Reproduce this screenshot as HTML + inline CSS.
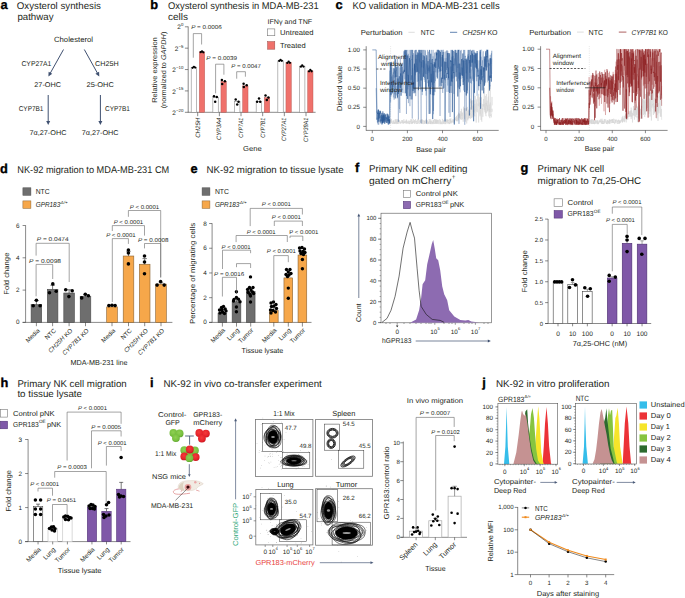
<!DOCTYPE html>
<html><head><meta charset="utf-8"><style>
html,body{margin:0;padding:0;background:#fff;}
body{width:685px;height:598px;overflow:hidden;}
svg{display:block;font-family:"Liberation Sans",sans-serif;text-rendering:geometricPrecision;}
</style></head><body>
<svg width="685" height="598" viewBox="0 0 685 598" fill="#231f20">
<text x="0.60" y="9.20" font-size="12.8" fill="#000" font-weight="bold" stroke="#000" stroke-width="0.35">a</text>
<text x="16.80" y="9.20" font-size="9.75" textLength="84.10" lengthAdjust="spacingAndGlyphs">Oxysterol synthesis</text>
<text x="17.40" y="20.00" font-size="9.75" textLength="36.10" lengthAdjust="spacingAndGlyphs">pathway</text>
<text x="54.00" y="42.30" font-size="7.63" textLength="39.00" lengthAdjust="spacingAndGlyphs">Cholesterol</text>
<line x1="63.50" y1="49.50" x2="50.21" y2="73.27" stroke="#3f5070" stroke-width="1.0"/>
<path d="M48.40,76.50 L48.62,71.81 L52.28,73.86 Z" fill="#3f5070"/>
<line x1="84.30" y1="49.50" x2="97.50" y2="73.27" stroke="#3f5070" stroke-width="1.0"/>
<path d="M99.30,76.50 L95.42,73.85 L99.10,71.81 Z" fill="#3f5070"/>
<text x="21.40" y="65.60" font-size="7.0" textLength="30.00" lengthAdjust="spacingAndGlyphs">CYP27A1</text>
<text x="95.00" y="65.60" font-size="7.0" textLength="23.60" lengthAdjust="spacingAndGlyphs">CH25H</text>
<text x="34.30" y="87.00" font-size="7.0" textLength="26.70" lengthAdjust="spacingAndGlyphs">27-OHC</text>
<text x="86.50" y="87.00" font-size="7.0" textLength="27.30" lengthAdjust="spacingAndGlyphs">25-OHC</text>
<line x1="48.20" y1="95.00" x2="48.20" y2="121.50" stroke="#3f5070" stroke-width="1.0"/>
<path d="M48.20,125.00 L46.20,121.00 L50.20,121.00 Z" fill="#3f5070"/>
<line x1="100.40" y1="95.00" x2="100.40" y2="121.50" stroke="#3f5070" stroke-width="1.0"/>
<path d="M100.40,125.00 L98.40,121.00 L102.40,121.00 Z" fill="#3f5070"/>
<text x="18.70" y="111.10" font-size="7.0" textLength="24.70" lengthAdjust="spacingAndGlyphs">CYP7B1</text>
<text x="105.00" y="111.10" font-size="7.0" textLength="24.90" lengthAdjust="spacingAndGlyphs">CYP7B1</text>
<text x="29.50" y="135.20" font-size="7.0" textLength="36.90" lengthAdjust="spacingAndGlyphs">7α,27-OHC</text>
<text x="81.70" y="135.20" font-size="7.0" textLength="36.90" lengthAdjust="spacingAndGlyphs">7α,27-OHC</text>
<text x="150.30" y="9.00" font-size="12.8" fill="#000" font-weight="bold" stroke="#000" stroke-width="0.35">b</text>
<text x="168.00" y="9.20" font-size="9.75" textLength="150.60" lengthAdjust="spacingAndGlyphs">Oxysterol synthesis in MDA-MB-231</text>
<text x="168.00" y="20.00" font-size="9.75" textLength="20.00" lengthAdjust="spacingAndGlyphs">cells</text>
<line x1="188.20" y1="26.50" x2="188.20" y2="112.30" stroke="#3a3a3a" stroke-width="0.6"/>
<line x1="187.90" y1="112.30" x2="315.60" y2="112.30" stroke="#3a3a3a" stroke-width="0.6"/>
<line x1="184.90" y1="26.80" x2="188.20" y2="26.80" stroke="#3a3a3a" stroke-width="0.6"/>
<text x="183.40" y="26.20" font-size="4.35" text-anchor="end">0</text>
<text x="180.88" y="29.40" font-size="6.47" text-anchor="end">2</text>
<line x1="184.90" y1="48.17" x2="188.20" y2="48.17" stroke="#3a3a3a" stroke-width="0.6"/>
<text x="183.40" y="47.57" font-size="4.35" text-anchor="end">−5</text>
<text x="178.34" y="50.77" font-size="6.47" text-anchor="end">2</text>
<line x1="184.90" y1="69.55" x2="188.20" y2="69.55" stroke="#3a3a3a" stroke-width="0.6"/>
<text x="183.40" y="68.95" font-size="4.35" text-anchor="end">−10</text>
<text x="175.92" y="72.15" font-size="6.47" text-anchor="end">2</text>
<line x1="184.90" y1="90.92" x2="188.20" y2="90.92" stroke="#3a3a3a" stroke-width="0.6"/>
<text x="183.40" y="90.33" font-size="4.35" text-anchor="end">−15</text>
<text x="175.92" y="93.52" font-size="6.47" text-anchor="end">2</text>
<line x1="184.90" y1="112.30" x2="188.20" y2="112.30" stroke="#3a3a3a" stroke-width="0.6"/>
<text x="183.40" y="111.70" font-size="4.35" text-anchor="end">−20</text>
<text x="175.92" y="114.90" font-size="6.47" text-anchor="end">2</text>
<text x="157.40" y="70.00" font-size="7.0" text-anchor="middle" textLength="65.60" lengthAdjust="spacingAndGlyphs" transform="rotate(-90 157.40 70.00)">Relative expression</text>
<text x="166.3" y="70" font-size="7.0" text-anchor="middle" transform="rotate(-90 166.3 70)" textLength="76.7" lengthAdjust="spacingAndGlyphs">(normalized to <tspan font-style="italic">GAPDH</tspan>)</text>
<text x="252.40" y="151.00" font-size="7.21" text-anchor="middle" textLength="18.70" lengthAdjust="spacingAndGlyphs">Gene</text>
<line x1="197.70" y1="112.30" x2="197.70" y2="116.20" stroke="#3a3a3a" stroke-width="0.6"/>
<text x="199.80" y="117.70" font-size="6.36" text-anchor="end" font-style="italic" textLength="20.10" lengthAdjust="spacingAndGlyphs" transform="rotate(-90 199.80 117.70)">CH25H</text>
<rect x="191.20" y="67.41" width="5.40" height="44.89" fill="#fff" stroke="#8a8a8a" stroke-width="0.6"/>
<rect x="199.30" y="51.81" width="5.40" height="60.49" fill="#ef716b" stroke="#b0504c" stroke-width="0.4"/>
<circle cx="192.60" cy="67.84" r="1.15" fill="#000"/>
<circle cx="193.90" cy="66.84" r="1.15" fill="#000"/>
<circle cx="195.20" cy="67.59" r="1.15" fill="#000"/>
<circle cx="200.70" cy="52.22" r="1.15" fill="#000"/>
<circle cx="202.00" cy="51.34" r="1.15" fill="#000"/>
<circle cx="203.30" cy="52.35" r="1.15" fill="#000"/>
<line x1="219.36" y1="112.30" x2="219.36" y2="116.20" stroke="#3a3a3a" stroke-width="0.6"/>
<text x="221.46" y="117.70" font-size="6.36" text-anchor="end" font-style="italic" textLength="22.30" lengthAdjust="spacingAndGlyphs" transform="rotate(-90 221.46 117.70)">CYP3A4</text>
<rect x="212.86" y="97.59" width="5.40" height="14.71" fill="#fff" stroke="#8a8a8a" stroke-width="0.6"/>
<rect x="220.96" y="81.39" width="5.40" height="30.91" fill="#ef716b" stroke="#b0504c" stroke-width="0.4"/>
<line x1="241.02" y1="112.30" x2="241.02" y2="116.20" stroke="#3a3a3a" stroke-width="0.6"/>
<text x="243.12" y="117.70" font-size="6.36" text-anchor="end" font-style="italic" textLength="20.10" lengthAdjust="spacingAndGlyphs" transform="rotate(-90 243.12 117.70)">CYP7A1</text>
<rect x="234.52" y="101.31" width="5.40" height="10.99" fill="#fff" stroke="#8a8a8a" stroke-width="0.6"/>
<rect x="242.62" y="85.88" width="5.40" height="26.42" fill="#ef716b" stroke="#b0504c" stroke-width="0.4"/>
<line x1="262.68" y1="112.30" x2="262.68" y2="116.20" stroke="#3a3a3a" stroke-width="0.6"/>
<text x="264.78" y="117.70" font-size="6.36" text-anchor="end" font-style="italic" textLength="20.10" lengthAdjust="spacingAndGlyphs" transform="rotate(-90 264.78 117.70)">CYP7B1</text>
<rect x="256.18" y="101.48" width="5.40" height="10.82" fill="#fff" stroke="#8a8a8a" stroke-width="0.6"/>
<rect x="264.28" y="97.59" width="5.40" height="14.71" fill="#ef716b" stroke="#b0504c" stroke-width="0.4"/>
<line x1="284.34" y1="112.30" x2="284.34" y2="116.20" stroke="#3a3a3a" stroke-width="0.6"/>
<text x="286.44" y="117.70" font-size="6.36" text-anchor="end" font-style="italic" textLength="23.40" lengthAdjust="spacingAndGlyphs" transform="rotate(-90 286.44 117.70)">CYP27A1</text>
<rect x="277.84" y="60.79" width="5.40" height="51.51" fill="#fff" stroke="#8a8a8a" stroke-width="0.6"/>
<rect x="285.94" y="62.58" width="5.40" height="49.72" fill="#ef716b" stroke="#b0504c" stroke-width="0.4"/>
<circle cx="279.24" cy="60.96" r="1.15" fill="#000"/>
<circle cx="280.54" cy="59.91" r="1.15" fill="#000"/>
<circle cx="281.84" cy="60.82" r="1.15" fill="#000"/>
<circle cx="287.34" cy="62.95" r="1.15" fill="#000"/>
<circle cx="288.64" cy="61.60" r="1.15" fill="#000"/>
<circle cx="289.94" cy="62.86" r="1.15" fill="#000"/>
<line x1="306.00" y1="112.30" x2="306.00" y2="116.20" stroke="#3a3a3a" stroke-width="0.6"/>
<text x="308.10" y="117.70" font-size="6.36" text-anchor="end" font-style="italic" textLength="24.20" lengthAdjust="spacingAndGlyphs" transform="rotate(-90 308.10 117.70)">CYP39A1</text>
<rect x="299.50" y="66.22" width="5.40" height="46.08" fill="#fff" stroke="#8a8a8a" stroke-width="0.6"/>
<rect x="307.60" y="70.92" width="5.40" height="41.38" fill="#ef716b" stroke="#b0504c" stroke-width="0.4"/>
<circle cx="300.90" cy="66.70" r="1.15" fill="#000"/>
<circle cx="302.20" cy="65.38" r="1.15" fill="#000"/>
<circle cx="303.50" cy="66.62" r="1.15" fill="#000"/>
<circle cx="309.00" cy="71.37" r="1.15" fill="#000"/>
<circle cx="310.30" cy="69.93" r="1.15" fill="#000"/>
<circle cx="311.60" cy="71.25" r="1.15" fill="#000"/>
<circle cx="214.00" cy="96.30" r="1.25" fill="#000"/>
<circle cx="216.80" cy="97.00" r="1.25" fill="#000"/>
<circle cx="215.20" cy="101.80" r="1.25" fill="#000"/>
<circle cx="221.90" cy="79.90" r="1.25" fill="#000"/>
<circle cx="224.90" cy="81.30" r="1.25" fill="#000"/>
<circle cx="222.20" cy="84.00" r="1.25" fill="#000"/>
<circle cx="235.70" cy="99.50" r="1.25" fill="#000"/>
<circle cx="238.50" cy="101.80" r="1.25" fill="#000"/>
<circle cx="237.20" cy="104.60" r="1.25" fill="#000"/>
<circle cx="243.60" cy="83.70" r="1.25" fill="#000"/>
<circle cx="246.70" cy="85.20" r="1.25" fill="#000"/>
<circle cx="243.80" cy="87.10" r="1.25" fill="#000"/>
<circle cx="257.10" cy="101.80" r="1.25" fill="#000"/>
<circle cx="259.00" cy="98.50" r="1.25" fill="#000"/>
<circle cx="260.20" cy="101.80" r="1.25" fill="#000"/>
<circle cx="265.50" cy="95.40" r="1.25" fill="#000"/>
<circle cx="268.40" cy="97.50" r="1.25" fill="#000"/>
<circle cx="266.80" cy="100.00" r="1.25" fill="#000"/>
<polyline points="193.30,57.70 193.30,33.60 201.60,33.60 201.60,44.50" fill="none" stroke="#666666" stroke-width="0.6"/>
<text x="191.15" y="29.20" font-size="5.62" textLength="30.70" lengthAdjust="spacingAndGlyphs"><tspan font-style="italic">P</tspan> = 0.0006</text>
<polyline points="215.60,93.40 215.60,64.20 223.90,64.20 223.90,74.70" fill="none" stroke="#666666" stroke-width="0.6"/>
<text x="206.35" y="59.90" font-size="5.62" textLength="30.70" lengthAdjust="spacingAndGlyphs"><tspan font-style="italic">P</tspan> = 0.0039</text>
<polyline points="236.70,78.70 236.70,71.70 245.40,71.70 245.40,76.70" fill="none" stroke="#666666" stroke-width="0.6"/>
<text x="231.35" y="68.20" font-size="5.62" textLength="29.50" lengthAdjust="spacingAndGlyphs"><tspan font-style="italic">P</tspan> = 0.0047</text>
<text x="267.40" y="24.00" font-size="6.78" textLength="44.80" lengthAdjust="spacingAndGlyphs">IFNγ and TNF</text>
<rect x="267.60" y="28.90" width="7.20" height="6.80" fill="#fff" stroke="#777" stroke-width="0.6"/>
<text x="280.00" y="34.70" font-size="7.31" textLength="33.60" lengthAdjust="spacingAndGlyphs">Untreated</text>
<rect x="267.60" y="41.60" width="7.20" height="7.60" fill="#ef716b" stroke="#9a4a46" stroke-width="0.5"/>
<text x="280.00" y="47.70" font-size="7.31" textLength="25.80" lengthAdjust="spacingAndGlyphs">Treated</text>
<text x="335.60" y="9.20" font-size="12.8" fill="#000" font-weight="bold" stroke="#000" stroke-width="0.35">c</text>
<text x="352.60" y="9.20" font-size="9.75" textLength="147.00" lengthAdjust="spacingAndGlyphs">KO validation in MDA-MB-231 cells</text>
<line x1="366.20" y1="46.20" x2="366.20" y2="130.40" stroke="#3a3a3a" stroke-width="0.6"/>
<line x1="365.90" y1="130.40" x2="498.70" y2="130.40" stroke="#3a3a3a" stroke-width="0.6"/>
<line x1="363.20" y1="49.90" x2="366.20" y2="49.90" stroke="#3a3a3a" stroke-width="0.6"/>
<text x="359.90" y="52.00" font-size="6.25" text-anchor="end">1.00</text>
<line x1="363.20" y1="69.03" x2="366.20" y2="69.03" stroke="#3a3a3a" stroke-width="0.6"/>
<text x="359.90" y="71.12" font-size="6.25" text-anchor="end">0.75</text>
<line x1="363.20" y1="88.15" x2="366.20" y2="88.15" stroke="#3a3a3a" stroke-width="0.6"/>
<text x="359.90" y="90.25" font-size="6.25" text-anchor="end">0.50</text>
<line x1="363.20" y1="107.28" x2="366.20" y2="107.28" stroke="#3a3a3a" stroke-width="0.6"/>
<text x="359.90" y="109.38" font-size="6.25" text-anchor="end">0.25</text>
<line x1="363.20" y1="126.40" x2="366.20" y2="126.40" stroke="#3a3a3a" stroke-width="0.6"/>
<text x="359.90" y="128.50" font-size="6.25" text-anchor="end">0</text>
<line x1="372.30" y1="130.40" x2="372.30" y2="133.20" stroke="#3a3a3a" stroke-width="0.6"/>
<text x="372.30" y="140.60" font-size="6.15" text-anchor="middle">0</text>
<line x1="407.40" y1="130.40" x2="407.40" y2="133.20" stroke="#3a3a3a" stroke-width="0.6"/>
<text x="407.40" y="140.60" font-size="6.15" text-anchor="middle">200</text>
<line x1="442.50" y1="130.40" x2="442.50" y2="133.20" stroke="#3a3a3a" stroke-width="0.6"/>
<text x="442.50" y="140.60" font-size="6.15" text-anchor="middle">400</text>
<line x1="477.60" y1="130.40" x2="477.60" y2="133.20" stroke="#3a3a3a" stroke-width="0.6"/>
<text x="477.60" y="140.60" font-size="6.15" text-anchor="middle">600</text>
<line x1="390.60" y1="46.20" x2="390.60" y2="130.40" stroke="#bbbbbb" stroke-width="0.5" stroke-dasharray="0.6,1.2"/>
<polyline points="389.85,123.99 390.20,120.42 390.55,122.55 390.90,120.81 391.25,118.93 391.61,121.99 391.96,122.21 392.31,124.00 392.66,123.36 393.01,122.21 393.36,121.11 393.71,120.25 394.06,122.85 394.41,124.01 394.76,123.28 395.12,119.46 395.47,123.58 395.82,122.48 396.17,119.29 396.52,124.08 396.87,121.61 397.22,119.15 397.57,123.51 397.92,121.93 398.27,119.46 398.62,123.84 398.98,122.08 399.33,120.62 399.68,121.17 400.03,122.39 400.38,123.61 400.73,122.26 401.08,122.89 401.43,122.34 401.78,122.92 402.13,120.00 402.49,120.50 402.84,123.16 403.19,121.78 403.54,123.33 403.89,122.47 404.24,122.98 404.59,121.25 404.94,122.90 405.29,122.44 405.64,120.84 406.00,122.68 406.35,119.48 406.70,123.69 407.05,120.69 407.40,122.64 407.75,122.61 408.10,121.40 408.45,122.08 408.80,122.67 409.16,124.10 409.51,123.95 409.86,120.91 410.21,122.07 410.56,120.99 410.91,119.10 411.26,121.08 411.61,124.04 411.96,123.19 412.31,121.66 412.67,123.49 413.02,119.03 413.37,119.19 413.72,119.92 414.07,122.37 414.42,119.97 414.77,123.85 415.12,123.19 415.47,122.42 415.82,120.68 416.18,122.29 416.53,123.83 416.88,123.03 417.23,123.12 417.58,123.22 417.93,123.74 418.28,122.67 418.63,122.50 418.98,120.45 419.33,120.30 419.69,122.08 420.04,122.43 420.39,120.43 420.74,119.63 421.09,121.14 421.44,120.27 421.79,119.23 422.14,124.06 422.49,119.72 422.84,123.33 423.19,122.35 423.55,120.30 423.90,120.85 424.25,123.80 424.60,121.24 424.95,124.01 425.30,122.96 425.65,120.18 426.00,122.61 426.35,121.62 426.70,120.78 427.06,120.12 427.41,120.55 427.76,124.10 428.11,122.65 428.46,122.42 428.81,124.03 429.16,121.97 429.51,121.57 429.86,120.07 430.22,119.21 430.57,123.86 430.92,123.51 431.27,121.24 431.62,123.85 431.97,123.54 432.32,121.77 432.67,123.73 433.02,120.40 433.37,119.86 433.73,124.07 434.08,122.02 434.43,120.30 434.78,118.95 435.13,123.34 435.48,123.73 435.83,119.71 436.18,119.46 436.53,123.63 436.88,122.53 437.24,120.84 437.59,119.94 437.94,123.74 438.29,121.20 438.64,120.22 438.99,121.92 439.34,123.75 439.69,124.07 440.04,123.31 440.39,120.22 440.75,124.05 441.10,124.10 441.45,122.94 441.80,124.02 442.15,123.80 442.50,124.09 442.85,122.07 443.20,120.99 443.55,122.61 443.90,123.84 444.25,123.08 444.61,121.68 444.96,119.22 445.31,118.81 445.66,123.47 446.01,124.10 446.36,120.05 446.71,119.33 447.06,122.44 447.41,120.48 447.76,119.79 448.12,121.56 448.47,119.74 448.82,124.09 449.17,123.35 449.52,123.32 449.87,123.84 450.22,119.11 450.57,123.28 450.92,120.18 451.27,123.41 451.63,121.76 451.98,121.32 452.33,121.76 452.68,120.17 453.03,118.96 453.38,121.49 453.73,119.71 454.08,122.36 454.43,121.04 454.79,119.61 455.14,120.54 455.49,118.64 455.84,117.73 456.19,116.99 456.54,120.92 456.89,118.51 457.24,121.34 457.59,117.76 457.94,117.86 458.30,117.26 458.65,112.63 459.00,117.51 459.35,113.58 459.70,114.69 460.05,113.83 460.40,118.68 460.75,111.17 461.10,116.51 461.45,119.78 461.81,112.42 462.16,116.10 462.51,119.28 462.86,113.01 463.21,112.55 463.56,106.73 463.91,109.68 464.26,108.10 464.61,115.47 464.96,119.49 465.31,116.82 465.67,114.54 466.02,113.36 466.37,108.05 466.72,123.51 467.07,106.87 467.42,107.82 467.77,108.84 468.12,119.28 468.47,117.06 468.82,109.68 469.18,112.36 469.53,114.76 469.88,113.38 470.23,118.91 470.58,98.76 470.93,103.13 471.28,101.41 471.63,106.07 471.98,107.77 472.34,100.28 472.69,116.87 473.04,105.96 473.39,114.87 473.74,113.84 474.09,100.26 474.44,112.32 474.79,104.01 475.14,105.43 475.49,113.13 475.85,113.37 476.20,122.67 476.55,103.05 476.90,99.25 477.25,112.28 477.60,108.06 477.95,103.46 478.30,106.15 478.65,93.86 479.00,106.32 479.36,102.53 479.71,107.33 480.06,116.34 480.41,107.98 480.76,102.90 481.11,109.56 481.46,119.69 481.81,121.73 482.16,114.33 482.51,113.57 482.87,104.12 483.22,106.70 483.57,104.59 483.92,106.23 484.27,109.96 484.62,104.08 484.97,104.05 485.32,113.48 485.67,102.84 486.02,104.04 486.38,94.06 486.73,112.80 487.08,105.28 487.43,106.99 487.78,111.54 488.13,104.54 488.48,82.16 488.83,110.28 489.18,108.89 489.53,111.75 489.88,101.39 490.24,85.05 490.59,105.81 490.94,112.07 491.29,107.99 491.64,103.90 491.99,96.92 492.34,105.40" fill="none" stroke="#d2d2d2" stroke-width="0.5"/>
<polyline points="389.85,122.27 390.20,120.21 390.55,123.92 390.90,119.14 391.25,122.41 391.61,123.08 391.96,120.43 392.31,123.41 392.66,123.80 393.01,123.40 393.36,121.15 393.71,123.93 394.06,122.48 394.41,123.49 394.76,121.95 395.12,123.83 395.47,120.46 395.82,119.35 396.17,123.14 396.52,122.97 396.87,121.63 397.22,120.70 397.57,124.03 397.92,121.14 398.27,120.17 398.62,120.33 398.98,122.55 399.33,120.11 399.68,121.94 400.03,123.67 400.38,123.29 400.73,121.66 401.08,121.91 401.43,120.26 401.78,120.87 402.13,123.58 402.49,122.76 402.84,120.43 403.19,122.44 403.54,123.53 403.89,119.25 404.24,122.49 404.59,123.19 404.94,122.15 405.29,123.22 405.64,123.35 406.00,121.22 406.35,120.31 406.70,122.71 407.05,123.76 407.40,122.35 407.75,122.74 408.10,122.56 408.45,123.48 408.80,120.49 409.16,123.62 409.51,124.06 409.86,120.97 410.21,120.68 410.56,123.48 410.91,123.72 411.26,121.74 411.61,119.38 411.96,123.42 412.31,121.98 412.67,123.38 413.02,120.68 413.37,122.40 413.72,122.86 414.07,121.26 414.42,122.03 414.77,123.62 415.12,122.67 415.47,119.10 415.82,120.27 416.18,122.14 416.53,121.23 416.88,123.82 417.23,122.68 417.58,119.57 417.93,123.67 418.28,118.89 418.63,119.92 418.98,121.06 419.33,122.88 419.69,123.96 420.04,123.25 420.39,120.69 420.74,122.64 421.09,120.25 421.44,123.57 421.79,120.10 422.14,119.83 422.49,120.82 422.84,123.61 423.19,123.54 423.55,124.02 423.90,124.04 424.25,120.70 424.60,122.26 424.95,120.55 425.30,123.30 425.65,123.02 426.00,119.57 426.35,118.77 426.70,123.93 427.06,120.42 427.41,121.88 427.76,124.10 428.11,121.51 428.46,123.31 428.81,122.99 429.16,118.99 429.51,120.68 429.86,124.04 430.22,121.10 430.57,124.10 430.92,119.64 431.27,121.64 431.62,121.42 431.97,124.09 432.32,123.98 432.67,122.06 433.02,122.84 433.37,120.14 433.73,123.29 434.08,122.75 434.43,123.88 434.78,122.20 435.13,119.11 435.48,123.37 435.83,120.34 436.18,123.75 436.53,119.64 436.88,122.14 437.24,123.87 437.59,120.40 437.94,119.63 438.29,123.81 438.64,123.89 438.99,123.43 439.34,122.13 439.69,119.15 440.04,119.83 440.39,123.11 440.75,124.07 441.10,121.64 441.45,121.77 441.80,123.47 442.15,121.59 442.50,118.90 442.85,123.81 443.20,123.16 443.55,119.92 443.90,123.76 444.25,123.86 444.61,123.72 444.96,120.49 445.31,123.86 445.66,123.96 446.01,121.45 446.36,120.51 446.71,120.58 447.06,122.58 447.41,119.41 447.76,123.79 448.12,122.53 448.47,122.90 448.82,121.94 449.17,123.65 449.52,123.80 449.87,118.70 450.22,122.54 450.57,121.64 450.92,118.27 451.27,122.12 451.63,121.77 451.98,120.93 452.33,122.63 452.68,121.75 453.03,120.34 453.38,121.05 453.73,123.26 454.08,121.38 454.43,118.22 454.79,119.35 455.14,118.93 455.49,120.13 455.84,117.46 456.19,118.36 456.54,116.05 456.89,121.26 457.24,114.89 457.59,114.74 457.94,118.15 458.30,120.40 458.65,114.07 459.00,118.40 459.35,117.64 459.70,114.11 460.05,115.12 460.40,119.43 460.75,118.44 461.10,113.22 461.45,108.78 461.81,116.20 462.16,114.78 462.51,113.96 462.86,112.57 463.21,121.83 463.56,112.62 463.91,108.82 464.26,118.75 464.61,109.23 464.96,112.55 465.31,118.12 465.67,121.72 466.02,108.46 466.37,110.35 466.72,112.51 467.07,117.94 467.42,117.78 467.77,120.51 468.12,110.91 468.47,118.15 468.82,114.15 469.18,114.07 469.53,117.92 469.88,115.80 470.23,115.70 470.58,107.41 470.93,113.45 471.28,117.83 471.63,100.58 471.98,118.29 472.34,105.62 472.69,111.32 473.04,112.31 473.39,107.93 473.74,105.54 474.09,110.43 474.44,114.26 474.79,116.42 475.14,95.92 475.49,102.43 475.85,110.62 476.20,111.53 476.55,102.97 476.90,101.75 477.25,99.17 477.60,96.09 477.95,100.28 478.30,108.59 478.65,122.54 479.00,105.55 479.36,97.33 479.71,109.73 480.06,114.46 480.41,111.91 480.76,103.25 481.11,119.95 481.46,97.31 481.81,105.23 482.16,109.65 482.51,108.37 482.87,116.90 483.22,109.10 483.57,98.93 483.92,105.44 484.27,87.93 484.62,110.60 484.97,111.90 485.32,95.93 485.67,114.74 486.02,116.19 486.38,103.14 486.73,105.82 487.08,100.67 487.43,110.79 487.78,103.57 488.13,97.53 488.48,96.57 488.83,116.41 489.18,104.54 489.53,117.07 489.88,118.18 490.24,102.48 490.59,115.88 490.94,114.37 491.29,117.32 491.64,113.85 491.99,108.66 492.34,111.63" fill="none" stroke="#d2d2d2" stroke-width="0.5"/>
<polyline points="376.16,88.15 376.86,119.58 377.13,117.61 377.39,121.66 377.65,122.66 377.92,122.47 378.18,109.69 378.44,119.29 378.71,117.65 378.97,113.04 379.23,112.62 379.50,114.14 379.76,111.23 380.02,116.80 380.29,122.38 380.55,115.77 380.81,118.21 381.07,112.77 381.34,121.36 381.60,115.18 381.86,124.73 382.13,119.50 382.39,120.06 382.65,123.57 382.92,113.70 383.18,113.74 383.44,121.53 383.71,115.49 383.97,113.10 384.23,117.39 384.50,120.16 384.76,116.26 385.02,119.93 385.29,117.82 385.55,116.80 385.81,121.34 386.08,116.97 386.34,118.89 386.60,117.97 386.87,121.55 387.13,116.40 387.39,123.19 387.66,119.54 387.92,119.05 388.18,124.78 388.45,116.37 388.71,119.04 388.97,124.05 389.24,116.18 389.50,117.70 389.76,115.76 389.85,70.61 390.24,80.30 390.62,102.34 391.01,76.00 391.39,73.62 391.78,67.85 392.17,71.52 392.55,92.88 392.94,83.62 393.32,97.40 393.71,96.09 394.10,80.81 394.48,90.22 394.87,94.38 395.26,70.04 395.64,66.31 396.03,66.55 396.41,95.44 396.80,85.71 397.19,98.56 397.57,80.30 397.96,66.38 398.34,86.24 398.73,64.07 399.12,107.57 399.50,109.11 399.89,67.62 400.27,87.23 400.66,78.84 401.05,64.52 401.43,91.15 401.82,91.76 402.21,75.54 402.59,83.23 402.98,83.49 403.36,73.30 403.75,51.41 404.14,71.04 404.52,71.03 404.91,51.49 405.29,56.51 405.68,56.41 406.07,49.90 406.45,81.82 406.84,68.55 407.22,51.32 407.61,49.90 408.00,89.29 408.38,53.88 408.77,86.41 409.16,73.84 409.54,59.14 409.93,56.03 410.31,99.41 410.70,79.59 411.09,49.90 411.47,60.06 411.86,59.13 412.24,83.13 412.63,68.12 413.02,78.65 413.40,93.11 413.79,78.86 414.17,64.47 414.56,70.12 414.95,65.58 415.33,75.31 415.72,70.15 416.10,58.10 416.49,49.90 416.88,52.29 417.26,81.88 417.65,65.62 418.04,54.28 418.42,81.27 418.81,68.83 419.19,49.90 419.58,59.85 419.97,52.27 420.35,86.17 420.74,89.72 421.12,61.97 421.51,65.56 421.90,80.42 422.28,95.10 422.67,76.91 423.05,55.12 423.44,68.25 423.83,55.34 424.21,79.93 424.60,61.32 424.99,82.04 425.37,50.52 425.76,71.75 426.14,95.61 426.53,57.62 426.92,74.25 427.30,65.31 427.69,83.17 428.07,78.02 428.46,67.68 428.85,72.77 429.23,65.38 429.62,71.47 430.00,66.58 430.39,91.78 430.78,62.79 431.16,63.94 431.55,49.90 431.93,59.49 432.32,84.88 432.71,72.87 433.09,56.35 433.48,114.21 433.87,88.30 434.25,91.47 434.64,64.16 435.02,66.18 435.41,81.24 435.80,75.88 436.18,71.50 436.57,56.13 436.95,76.94 437.34,50.64 437.73,49.90 438.11,72.49 438.50,49.90 438.88,87.32 439.27,66.68 439.66,86.12 440.04,68.86 440.43,70.82 440.82,54.08 441.20,49.90 441.59,71.08 441.97,70.21 442.36,49.90 442.75,78.47 443.13,63.99 443.52,59.90 443.90,58.36 444.29,79.42 444.68,74.89 445.06,80.38 445.45,59.49 445.83,58.56 446.22,58.12 446.61,66.29 446.99,91.96 447.38,53.35 447.77,85.57 448.15,76.27 448.54,91.89 448.92,69.26 449.31,56.82 449.70,54.48 450.08,57.47 450.47,85.87 450.85,49.90 451.24,86.05 451.63,74.83 452.01,78.62 452.40,50.14 452.78,71.01 453.17,55.79 453.56,65.18 453.94,65.54 454.33,58.40 454.71,77.38 455.10,73.42 455.49,53.32 455.87,56.44 456.26,72.25 456.65,57.65 457.03,50.24 457.42,54.10 457.80,68.32 458.19,63.61 458.58,78.66 458.96,67.91 459.35,49.90 459.73,49.90 460.12,92.37 460.51,72.84 460.89,75.98 461.28,67.40 461.66,73.14 462.05,75.57 462.44,67.63 462.82,78.02 463.21,60.19 463.60,90.45 463.98,49.90 464.37,80.49 464.75,49.90 465.14,57.12 465.53,55.81 465.91,61.70 466.30,73.32 466.68,58.38 467.07,78.88 467.46,66.94 467.84,56.65 468.23,81.56 468.61,55.96 469.00,63.28 469.39,62.60 469.77,59.88 470.16,49.90 470.54,82.99 470.93,76.53 471.32,83.60 471.70,53.23 472.09,63.03 472.48,59.46 472.86,78.77 473.25,49.90 473.63,81.57 474.02,51.39 474.41,91.91 474.79,52.15 475.18,67.10 475.56,62.99 475.95,54.14 476.34,76.73 476.72,63.68 477.11,95.90 477.49,53.00 477.88,68.28 478.27,76.37 478.65,70.18 479.04,71.61 479.43,79.67 479.81,71.95 480.20,51.69 480.58,65.37 480.97,49.90 481.36,49.90 481.74,49.90 482.13,81.52 482.51,60.30 482.90,75.97 483.29,77.85 483.67,67.25 484.06,56.71 484.44,64.96 484.83,69.76 485.22,69.26 485.60,52.75 485.99,70.98 486.38,49.90 486.76,49.90 487.15,62.05 487.53,49.90 487.92,49.90 488.31,49.90 488.69,60.32 489.08,76.94 489.46,79.30 489.85,89.07 490.24,78.80 490.62,58.49 491.01,63.87 491.39,53.21 491.78,74.08" fill="none" stroke="#5a86bd" stroke-width="0.55" stroke-opacity="0.55" stroke-linejoin="bevel"/>
<polyline points="376.16,88.15 376.86,112.76 377.13,110.71 377.39,122.45 377.65,119.74 377.92,124.46 378.18,114.81 378.44,110.17 378.71,124.79 378.97,122.89 379.23,121.75 379.50,112.85 379.76,119.21 380.02,121.87 380.29,119.28 380.55,121.06 380.81,121.18 381.07,116.62 381.34,115.19 381.60,121.30 381.86,117.08 382.13,124.45 382.39,111.37 382.65,123.46 382.92,117.27 383.18,111.45 383.44,120.58 383.71,121.08 383.97,115.24 384.23,118.86 384.50,121.47 384.76,117.64 385.02,114.55 385.29,116.61 385.55,121.94 385.81,116.82 386.08,113.78 386.34,122.55 386.60,117.28 386.87,119.12 387.13,117.33 387.39,123.32 387.66,122.29 387.92,121.07 388.18,115.80 388.45,120.77 388.71,121.32 388.97,117.17 389.24,123.45 389.50,121.64 389.76,119.39 389.85,123.56 390.24,73.70 390.62,64.04 391.01,96.53 391.39,78.72 391.78,76.49 392.17,82.71 392.55,86.83 392.94,74.63 393.32,86.93 393.71,68.18 394.10,99.70 394.48,54.93 394.87,77.61 395.26,70.38 395.64,74.10 396.03,81.75 396.41,82.54 396.80,75.72 397.19,76.44 397.57,58.99 397.96,84.23 398.34,121.82 398.73,85.29 399.12,87.84 399.50,93.41 399.89,113.00 400.27,58.34 400.66,75.75 401.05,64.86 401.43,82.80 401.82,83.94 402.21,84.09 402.59,66.75 402.98,93.08 403.36,67.57 403.75,66.05 404.14,50.74 404.52,52.60 404.91,79.29 405.29,69.78 405.68,55.02 406.07,49.90 406.45,114.01 406.84,53.65 407.22,75.34 407.61,73.33 408.00,55.50 408.38,103.14 408.77,62.73 409.16,49.90 409.54,85.09 409.93,106.16 410.31,59.84 410.70,60.26 411.09,80.06 411.47,76.35 411.86,75.28 412.24,118.58 412.63,54.99 413.02,88.31 413.40,53.12 413.79,59.30 414.17,93.51 414.56,50.37 414.95,89.66 415.33,54.62 415.72,96.12 416.10,58.87 416.49,71.75 416.88,69.60 417.26,55.78 417.65,51.94 418.04,100.06 418.42,119.36 418.81,49.90 419.19,73.50 419.58,59.76 419.97,62.38 420.35,53.36 420.74,85.36 421.12,123.46 421.51,53.11 421.90,67.39 422.28,61.48 422.67,54.38 423.05,49.90 423.44,76.27 423.83,49.90 424.21,60.48 424.60,77.76 424.99,49.90 425.37,73.05 425.76,73.80 426.14,63.50 426.53,123.64 426.92,78.58 427.30,55.78 427.69,49.90 428.07,70.85 428.46,51.65 428.85,87.72 429.23,84.33 429.62,59.45 430.00,74.04 430.39,113.70 430.78,92.06 431.16,73.77 431.55,87.05 431.93,62.82 432.32,95.09 432.71,70.20 433.09,49.90 433.48,110.88 433.87,70.86 434.25,83.17 434.64,52.70 435.02,92.11 435.41,62.57 435.80,72.33 436.18,53.11 436.57,60.43 436.95,49.90 437.34,49.90 437.73,60.08 438.11,63.03 438.50,66.85 438.88,49.90 439.27,50.41 439.66,58.25 440.04,116.03 440.43,69.77 440.82,56.75 441.20,49.90 441.59,66.59 441.97,57.04 442.36,85.12 442.75,92.94 443.13,49.90 443.52,49.90 443.90,66.18 444.29,72.53 444.68,79.34 445.06,51.80 445.45,72.53 445.83,61.80 446.22,50.94 446.61,69.94 446.99,50.03 447.38,67.96 447.77,50.91 448.15,79.92 448.54,67.49 448.92,112.75 449.31,76.50 449.70,53.33 450.08,117.00 450.47,75.87 450.85,66.45 451.24,92.93 451.63,65.07 452.01,56.66 452.40,82.15 452.78,49.90 453.17,78.48 453.56,63.93 453.94,93.88 454.33,75.42 454.71,51.56 455.10,65.46 455.49,49.90 455.87,58.50 456.26,64.19 456.65,81.32 457.03,49.90 457.42,49.90 457.80,73.51 458.19,87.57 458.58,49.90 458.96,123.91 459.35,72.43 459.73,80.59 460.12,67.31 460.51,50.64 460.89,78.89 461.28,49.90 461.66,74.88 462.05,61.78 462.44,61.71 462.82,58.27 463.21,82.12 463.60,49.90 463.98,50.27 464.37,63.66 464.75,124.83 465.14,56.21 465.53,81.90 465.91,87.75 466.30,110.77 466.68,58.90 467.07,59.13 467.46,90.53 467.84,55.19 468.23,54.30 468.61,82.46 469.00,62.52 469.39,49.90 469.77,72.77 470.16,49.90 470.54,49.90 470.93,49.95 471.32,109.61 471.70,69.95 472.09,70.05 472.48,49.90 472.86,80.68 473.25,64.87 473.63,57.31 474.02,49.90 474.41,53.50 474.79,63.28 475.18,63.34 475.56,54.17 475.95,59.91 476.34,75.49 476.72,81.26 477.11,60.07 477.49,68.75 477.88,71.70 478.27,68.42 478.65,90.38 479.04,60.37 479.43,86.15 479.81,84.47 480.20,51.39 480.58,84.08 480.97,56.69 481.36,64.99 481.74,74.90 482.13,66.17 482.51,61.58 482.90,54.38 483.29,51.26 483.67,61.93 484.06,71.62 484.44,58.79 484.83,84.55 485.22,57.23 485.60,82.60 485.99,74.88 486.38,49.90 486.76,49.90 487.15,67.36 487.53,49.90 487.92,82.33 488.31,73.88 488.69,59.59 489.08,65.74 489.46,58.38 489.85,86.43 490.24,54.85 490.62,77.78 491.01,74.92 491.39,78.01 491.78,58.62" fill="none" stroke="#1f4f8f" stroke-width="0.55" stroke-opacity="0.45" stroke-linejoin="bevel"/>
<polyline points="372.30,49.90 376.16,49.90 376.86,108.31 377.13,119.74 377.39,112.73 377.65,112.72 377.92,114.04 378.18,111.63 378.44,109.59 378.71,121.67 378.97,113.43 379.23,118.44 379.50,112.11 379.76,110.92 380.02,110.61 380.29,113.51 380.55,111.20 380.81,123.13 381.07,123.50 381.34,118.85 381.60,114.57 381.86,113.44 382.13,113.13 382.39,123.04 382.65,115.47 382.92,117.33 383.18,122.62 383.44,118.55 383.71,114.65 383.97,122.72 384.23,113.32 384.50,122.77 384.76,123.84 385.02,120.34 385.29,115.26 385.55,115.41 385.81,114.44 386.08,122.73 386.34,122.30 386.60,122.47 386.87,122.49 387.13,120.07 387.39,113.71 387.66,117.37 387.92,121.15 388.18,114.50 388.45,118.88 388.71,124.46 388.97,124.11 389.24,119.20 389.50,122.91 389.76,122.19 389.85,82.03 390.24,62.13 390.62,71.06 391.01,94.97 391.39,61.86 391.78,66.41 392.17,93.46 392.55,85.74 392.94,79.84 393.32,72.79 393.71,73.29 394.10,68.36 394.48,70.41 394.87,75.13 395.26,98.40 395.64,59.13 396.03,76.96 396.41,71.43 396.80,67.15 397.19,74.81 397.57,97.52 397.96,78.46 398.34,93.92 398.73,85.88 399.12,76.29 399.50,76.55 399.89,84.51 400.27,88.10 400.66,73.44 401.05,95.74 401.43,85.01 401.82,64.36 402.21,82.55 402.59,81.38 402.98,71.48 403.36,71.52 403.75,73.45 404.14,69.81 404.52,71.95 404.91,49.90 405.29,93.29 405.68,83.23 406.07,50.21 406.45,96.00 406.84,67.11 407.22,55.47 407.61,98.86 408.00,74.87 408.38,82.64 408.77,72.29 409.16,65.62 409.54,58.10 409.93,96.15 410.31,83.76 410.70,56.94 411.09,49.90 411.47,74.56 411.86,99.45 412.24,91.92 412.63,49.90 413.02,90.91 413.40,82.91 413.79,87.47 414.17,77.10 414.56,63.63 414.95,92.72 415.33,68.48 415.72,49.90 416.10,72.36 416.49,65.82 416.88,54.83 417.26,66.27 417.65,71.83 418.04,52.92 418.42,90.16 418.81,85.98 419.19,49.90 419.58,80.98 419.97,86.71 420.35,78.56 420.74,49.90 421.12,80.48 421.51,60.52 421.90,49.90 422.28,91.70 422.67,72.76 423.05,60.12 423.44,76.88 423.83,71.81 424.21,56.26 424.60,57.74 424.99,73.13 425.37,79.26 425.76,90.78 426.14,70.52 426.53,55.42 426.92,55.39 427.30,64.00 427.69,79.18 428.07,61.08 428.46,86.58 428.85,80.37 429.23,113.93 429.62,49.90 430.00,62.69 430.39,94.27 430.78,53.74 431.16,70.40 431.55,82.33 431.93,60.22 432.32,59.03 432.71,119.09 433.09,64.30 433.48,76.01 433.87,95.29 434.25,62.30 434.64,66.67 435.02,63.23 435.41,58.69 435.80,67.89 436.18,51.82 436.57,55.49 436.95,53.06 437.34,78.45 437.73,58.89 438.11,49.90 438.50,57.08 438.88,68.80 439.27,50.70 439.66,59.49 440.04,71.62 440.43,51.89 440.82,83.33 441.20,86.31 441.59,77.65 441.97,82.87 442.36,54.95 442.75,78.95 443.13,51.83 443.52,88.50 443.90,87.65 444.29,71.20 444.68,61.58 445.06,121.45 445.45,83.41 445.83,61.87 446.22,77.93 446.61,76.64 446.99,73.20 447.38,74.02 447.77,52.95 448.15,55.57 448.54,78.22 448.92,53.00 449.31,75.74 449.70,92.96 450.08,87.00 450.47,60.27 450.85,61.81 451.24,60.77 451.63,81.49 452.01,49.90 452.40,112.09 452.78,57.87 453.17,51.00 453.56,73.07 453.94,72.17 454.33,124.53 454.71,67.36 455.10,49.90 455.49,57.86 455.87,76.22 456.26,76.71 456.65,52.88 457.03,56.43 457.42,68.64 457.80,96.50 458.19,52.07 458.58,49.90 458.96,61.51 459.35,89.11 459.73,63.61 460.12,74.33 460.51,86.25 460.89,68.68 461.28,62.38 461.66,59.02 462.05,73.09 462.44,75.74 462.82,53.49 463.21,85.05 463.60,60.56 463.98,61.32 464.37,77.02 464.75,92.05 465.14,58.79 465.53,62.56 465.91,80.45 466.30,95.51 466.68,59.68 467.07,93.37 467.46,69.91 467.84,55.93 468.23,49.90 468.61,59.02 469.00,61.63 469.39,115.53 469.77,59.98 470.16,78.61 470.54,55.18 470.93,66.71 471.32,54.36 471.70,50.75 472.09,62.54 472.48,53.65 472.86,67.51 473.25,74.22 473.63,121.26 474.02,55.11 474.41,93.09 474.79,75.14 475.18,52.91 475.56,58.67 475.95,67.69 476.34,53.27 476.72,68.76 477.11,51.02 477.49,71.08 477.88,76.55 478.27,75.17 478.65,86.12 479.04,81.35 479.43,78.37 479.81,73.91 480.20,49.90 480.58,108.78 480.97,69.43 481.36,79.76 481.74,66.04 482.13,90.46 482.51,76.67 482.90,76.90 483.29,67.32 483.67,93.32 484.06,67.76 484.44,85.81 484.83,56.45 485.22,66.63 485.60,51.98 485.99,51.08 486.38,70.30 486.76,56.13 487.15,57.27 487.53,49.90 487.92,56.65 488.31,80.61 488.69,63.25 489.08,64.45 489.46,90.55 489.85,75.75 490.24,78.02 490.62,58.21 491.01,70.92 491.39,81.63 491.78,50.72" fill="none" stroke="#1f4f8f" stroke-width="0.55" stroke-opacity="0.9" stroke-linejoin="bevel"/>
<text x="377.90" y="59.40" font-size="6.15" textLength="28.00" lengthAdjust="spacingAndGlyphs">Alignment</text>
<text x="381.10" y="66.40" font-size="6.15" textLength="21.90" lengthAdjust="spacingAndGlyphs">window</text>
<line x1="376.40" y1="69.03" x2="385.50" y2="69.03" stroke="#111" stroke-width="0.7" stroke-dasharray="2,1.5"/>
<text x="379.90" y="85.10" font-size="6.15" textLength="34.50" lengthAdjust="spacingAndGlyphs">Interference</text>
<text x="379.90" y="92.40" font-size="6.15" textLength="22.40" lengthAdjust="spacingAndGlyphs">window</text>
<line x1="413.20" y1="88.15" x2="442.60" y2="88.15" stroke="#222" stroke-width="0.7"/>
<text x="360.70" y="34.80" font-size="7.21" textLength="41.90" lengthAdjust="spacingAndGlyphs">Perturbation</text>
<line x1="408.40" y1="32.30" x2="414.70" y2="32.30" stroke="#cfcfcf" stroke-width="0.7"/>
<text x="420.70" y="34.80" font-size="7.21" textLength="13.80" lengthAdjust="spacingAndGlyphs">NTC</text>
<line x1="450.00" y1="32.30" x2="457.20" y2="32.30" stroke="#1f4f8f" stroke-width="0.7"/>
<text x="462.50" y="34.80" font-size="7.2" textLength="35.00" lengthAdjust="spacingAndGlyphs"><tspan font-style="italic">CH25H</tspan> KO</text>
<text x="342.40" y="88.30" font-size="7.21" text-anchor="middle" textLength="45.30" lengthAdjust="spacingAndGlyphs" transform="rotate(-90 342.40 88.30)">Discord value</text>
<text x="431.00" y="151.50" font-size="7.21" text-anchor="middle" textLength="29.70" lengthAdjust="spacingAndGlyphs">Base pair</text>
<line x1="540.60" y1="46.20" x2="540.60" y2="130.40" stroke="#3a3a3a" stroke-width="0.6"/>
<line x1="540.30" y1="130.40" x2="667.60" y2="130.40" stroke="#3a3a3a" stroke-width="0.6"/>
<line x1="537.60" y1="49.20" x2="540.60" y2="49.20" stroke="#3a3a3a" stroke-width="0.6"/>
<text x="534.30" y="51.30" font-size="6.25" text-anchor="end">1.00</text>
<line x1="537.60" y1="68.50" x2="540.60" y2="68.50" stroke="#3a3a3a" stroke-width="0.6"/>
<text x="534.30" y="70.60" font-size="6.25" text-anchor="end">0.75</text>
<line x1="537.60" y1="87.80" x2="540.60" y2="87.80" stroke="#3a3a3a" stroke-width="0.6"/>
<text x="534.30" y="89.90" font-size="6.25" text-anchor="end">0.50</text>
<line x1="537.60" y1="107.10" x2="540.60" y2="107.10" stroke="#3a3a3a" stroke-width="0.6"/>
<text x="534.30" y="109.20" font-size="6.25" text-anchor="end">0.25</text>
<line x1="537.60" y1="126.40" x2="540.60" y2="126.40" stroke="#3a3a3a" stroke-width="0.6"/>
<text x="534.30" y="128.50" font-size="6.25" text-anchor="end">0</text>
<line x1="546.00" y1="130.40" x2="546.00" y2="133.20" stroke="#3a3a3a" stroke-width="0.6"/>
<text x="546.00" y="140.60" font-size="6.15" text-anchor="middle">0</text>
<line x1="579.14" y1="130.40" x2="579.14" y2="133.20" stroke="#3a3a3a" stroke-width="0.6"/>
<text x="579.14" y="140.60" font-size="6.15" text-anchor="middle">200</text>
<line x1="612.28" y1="130.40" x2="612.28" y2="133.20" stroke="#3a3a3a" stroke-width="0.6"/>
<text x="612.28" y="140.60" font-size="6.15" text-anchor="middle">400</text>
<line x1="645.42" y1="130.40" x2="645.42" y2="133.20" stroke="#3a3a3a" stroke-width="0.6"/>
<text x="645.42" y="140.60" font-size="6.15" text-anchor="middle">600</text>
<line x1="589.30" y1="46.20" x2="589.30" y2="130.40" stroke="#bbbbbb" stroke-width="0.5" stroke-dasharray="0.6,1.2"/>
<polyline points="589.08,123.67 589.41,124.07 589.74,122.38 590.08,120.75 590.41,122.61 590.74,122.26 591.07,124.08 591.40,122.25 591.73,119.14 592.06,119.84 592.40,120.71 592.73,123.89 593.06,119.52 593.39,119.80 593.72,123.72 594.05,121.37 594.38,124.07 594.72,123.87 595.05,123.12 595.38,123.74 595.71,120.51 596.04,120.08 596.37,122.99 596.70,123.11 597.04,123.88 597.37,123.95 597.70,120.83 598.03,121.58 598.36,124.01 598.69,122.29 599.02,122.71 599.36,119.86 599.69,120.80 600.02,121.56 600.35,121.87 600.68,119.09 601.01,118.79 601.34,123.02 601.68,123.45 602.01,120.24 602.34,124.00 602.67,122.89 603.00,123.98 603.33,123.11 603.66,123.98 604.00,123.24 604.33,120.29 604.66,119.43 604.99,120.27 605.32,121.81 605.65,121.47 605.98,122.91 606.31,123.71 606.65,122.53 606.98,120.69 607.31,124.00 607.64,124.07 607.97,120.43 608.30,123.20 608.63,120.91 608.97,120.68 609.30,119.21 609.63,122.72 609.96,122.92 610.29,120.17 610.62,120.47 610.95,121.23 611.29,120.14 611.62,121.30 611.95,119.02 612.28,123.04 612.61,120.66 612.94,119.08 613.27,123.04 613.61,121.50 613.94,122.89 614.27,122.39 614.60,123.97 614.93,124.07 615.26,120.51 615.59,122.44 615.93,121.43 616.26,120.64 616.59,122.62 616.92,122.88 617.25,123.71 617.58,120.26 617.91,119.98 618.25,120.68 618.58,119.66 618.91,121.26 619.24,120.63 619.57,123.53 619.90,120.24 620.23,122.27 620.57,121.78 620.90,122.18 621.23,120.84 621.56,120.02 621.89,118.69 622.22,121.23 622.55,122.04 622.88,118.50 623.22,121.69 623.55,120.61 623.88,119.35 624.21,118.38 624.54,122.18 624.87,120.39 625.20,117.06 625.54,114.54 625.87,118.96 626.20,122.45 626.53,116.15 626.86,119.83 627.19,116.11 627.52,116.67 627.86,112.57 628.19,117.10 628.52,116.21 628.85,110.74 629.18,113.80 629.51,111.52 629.84,114.21 630.18,116.20 630.51,110.50 630.84,112.01 631.17,119.09 631.50,110.43 631.83,113.96 632.16,113.96 632.50,112.92 632.83,115.71 633.16,113.77 633.49,115.35 633.82,113.57 634.15,108.69 634.48,108.99 634.82,115.98 635.15,113.50 635.48,108.38 635.81,107.71 636.14,104.43 636.47,114.93 636.80,107.65 637.13,114.80 637.47,106.46 637.80,109.53 638.13,117.94 638.46,110.94 638.79,102.31 639.12,108.11 639.45,119.70 639.79,110.13 640.12,111.16 640.45,114.60 640.78,119.06 641.11,112.24 641.44,114.37 641.77,105.70 642.11,117.33 642.44,118.67 642.77,98.96 643.10,110.73 643.43,107.06 643.76,100.15 644.09,103.11 644.43,99.15 644.76,117.04 645.09,111.17 645.42,114.66 645.75,94.01 646.08,97.00 646.41,100.71 646.75,93.76 647.08,91.88 647.41,97.24 647.74,92.88 648.07,102.91 648.40,101.61 648.73,98.78 649.07,99.19 649.40,111.29 649.73,98.50 650.06,116.65 650.39,112.92 650.72,107.45 651.05,94.60 651.39,120.59 651.72,109.62 652.05,107.68 652.38,104.77 652.71,88.42 653.04,105.32 653.37,89.85 653.70,103.16 654.04,107.29 654.37,106.14 654.70,113.48 655.03,98.19 655.36,101.29 655.69,111.22 656.02,101.95 656.36,104.59 656.69,118.32 657.02,102.30 657.35,95.78 657.68,100.63 658.01,111.60 658.34,103.14 658.68,113.27 659.01,113.18 659.34,108.00 659.67,99.36 660.00,96.03 660.33,99.42 660.66,94.60 661.00,116.85 661.33,108.93 661.66,119.84" fill="none" stroke="#d2d2d2" stroke-width="0.5"/>
<polyline points="589.08,124.08 589.41,121.31 589.74,122.67 590.08,121.79 590.41,119.71 590.74,123.25 591.07,123.43 591.40,120.06 591.73,124.06 592.06,119.27 592.40,122.98 592.73,124.05 593.06,123.54 593.39,123.96 593.72,119.89 594.05,124.01 594.38,124.02 594.72,121.48 595.05,123.56 595.38,123.04 595.71,120.32 596.04,122.58 596.37,120.72 596.70,123.28 597.04,123.83 597.37,123.99 597.70,119.94 598.03,123.85 598.36,123.97 598.69,123.75 599.02,122.05 599.36,121.00 599.69,122.21 600.02,121.44 600.35,122.19 600.68,120.61 601.01,121.55 601.34,123.69 601.68,123.03 602.01,118.73 602.34,122.46 602.67,121.07 603.00,123.70 603.33,121.08 603.66,120.93 604.00,123.74 604.33,119.15 604.66,122.75 604.99,122.98 605.32,121.07 605.65,119.31 605.98,119.94 606.31,121.81 606.65,124.02 606.98,122.25 607.31,121.44 607.64,119.95 607.97,123.59 608.30,122.37 608.63,121.31 608.97,121.00 609.30,124.03 609.63,119.65 609.96,123.88 610.29,119.82 610.62,119.75 610.95,121.49 611.29,121.93 611.62,122.97 611.95,122.77 612.28,119.30 612.61,121.20 612.94,122.37 613.27,122.92 613.61,118.72 613.94,119.19 614.27,119.28 614.60,119.27 614.93,122.93 615.26,119.97 615.59,121.00 615.93,119.37 616.26,120.67 616.59,119.98 616.92,120.22 617.25,121.71 617.58,120.94 617.91,123.97 618.25,122.79 618.58,120.18 618.91,123.93 619.24,122.81 619.57,120.94 619.90,121.72 620.23,122.95 620.57,122.72 620.90,119.94 621.23,121.41 621.56,120.39 621.89,119.26 622.22,116.99 622.55,122.65 622.88,115.82 623.22,118.44 623.55,118.56 623.88,119.89 624.21,121.25 624.54,115.82 624.87,116.03 625.20,117.94 625.54,117.14 625.87,113.74 626.20,117.15 626.53,113.58 626.86,117.69 627.19,117.56 627.52,118.09 627.86,119.47 628.19,115.51 628.52,116.45 628.85,116.16 629.18,116.33 629.51,113.45 629.84,116.93 630.18,114.54 630.51,111.58 630.84,116.54 631.17,107.58 631.50,116.69 631.83,117.25 632.16,114.29 632.50,122.48 632.83,112.71 633.16,110.51 633.49,106.00 633.82,114.57 634.15,109.72 634.48,119.64 634.82,116.42 635.15,108.46 635.48,116.86 635.81,116.42 636.14,107.71 636.47,114.80 636.80,117.54 637.13,116.12 637.47,122.10 637.80,107.73 638.13,109.18 638.46,111.72 638.79,118.74 639.12,105.50 639.45,105.50 639.79,114.56 640.12,111.90 640.45,108.87 640.78,114.16 641.11,115.08 641.44,108.12 641.77,106.04 642.11,108.00 642.44,102.25 642.77,98.74 643.10,112.70 643.43,114.90 643.76,99.56 644.09,106.52 644.43,113.83 644.76,101.29 645.09,112.11 645.42,111.86 645.75,103.29 646.08,99.89 646.41,108.87 646.75,101.22 647.08,107.42 647.41,107.87 647.74,102.51 648.07,91.88 648.40,111.20 648.73,96.07 649.07,113.82 649.40,103.29 649.73,107.51 650.06,92.31 650.39,98.89 650.72,111.48 651.05,88.89 651.39,102.82 651.72,107.65 652.05,106.16 652.38,104.67 652.71,103.98 653.04,107.24 653.37,114.96 653.70,103.07 654.04,108.42 654.37,109.84 654.70,112.25 655.03,112.68 655.36,108.57 655.69,97.62 656.02,89.36 656.36,108.55 656.69,118.26 657.02,109.83 657.35,115.04 657.68,104.28 658.01,121.02 658.34,98.69 658.68,96.45 659.01,92.06 659.34,86.94 659.67,93.69 660.00,112.58 660.33,116.59 660.66,109.95 661.00,97.16 661.33,94.16 661.66,96.04" fill="none" stroke="#d2d2d2" stroke-width="0.5"/>
<polyline points="549.65,87.80 550.31,115.07 550.56,96.17 550.81,101.63 551.05,113.16 551.30,119.36 551.55,118.55 551.80,101.37 552.05,114.83 552.30,114.10 552.55,117.61 552.79,114.89 553.04,115.05 553.29,113.88 553.54,120.56 553.79,120.47 554.04,117.18 554.28,124.78 554.53,118.55 554.78,124.32 555.03,124.63 555.28,123.56 555.53,119.89 555.78,123.65 556.02,124.78 556.27,120.38 556.52,121.40 556.77,120.39 557.02,120.30 557.27,118.51 557.52,123.55 557.76,119.52 558.01,122.75 558.26,122.49 558.51,124.80 558.76,119.07 559.01,121.33 559.26,123.17 559.50,124.72 559.75,123.96 560.00,123.39 560.25,121.31 560.50,119.82 560.75,123.28 561.00,123.72 561.24,124.78 561.49,119.25 561.74,124.16 561.99,119.77 562.24,120.78 562.49,123.45 562.74,124.12 562.98,124.54 563.23,124.23 563.48,120.11 563.73,118.22 563.98,121.18 564.23,123.99 564.48,120.04 564.72,121.52 564.97,119.59 565.22,122.18 565.47,120.71 565.72,124.30 565.97,124.29 566.22,124.69 566.46,119.22 566.71,122.33 566.96,124.53 567.21,118.90 567.46,122.50 567.71,124.36 567.96,124.74 568.20,124.69 568.45,121.95 568.70,123.29 568.95,119.52 569.20,120.11 569.45,121.99 569.70,123.35 569.94,120.32 570.19,119.77 570.44,122.56 570.69,121.01 570.94,119.76 571.19,123.21 571.43,122.03 571.68,124.17 571.93,122.81 572.18,123.85 572.43,124.54 572.68,119.79 572.93,121.42 573.17,121.34 573.42,118.93 573.67,119.79 573.92,123.04 574.17,123.81 574.42,122.18 574.67,119.16 574.91,118.34 575.16,118.29 575.41,123.05 575.66,121.87 575.91,124.56 576.16,122.80 576.41,120.10 576.65,124.39 576.90,124.52 577.15,123.50 577.40,124.31 577.65,124.36 577.90,124.66 578.15,123.19 578.39,124.43 578.64,118.73 578.89,124.83 579.14,124.82 579.39,123.93 579.64,119.20 579.89,119.35 580.13,123.90 580.38,124.77 580.63,120.42 580.88,123.91 581.13,118.79 581.38,123.08 581.63,122.56 581.87,124.31 582.12,119.80 582.37,118.77 582.62,119.60 582.87,120.19 583.12,123.16 583.37,124.71 583.61,124.83 583.86,122.11 584.11,119.88 584.36,124.37 584.61,123.18 584.86,122.93 585.11,121.12 585.35,124.72 585.60,124.77 585.85,124.35 586.10,122.11 586.35,122.90 586.60,118.25 586.85,122.23 587.09,119.03 587.34,124.30 587.59,124.83 587.84,119.42 588.09,122.75 588.34,124.64 588.58,121.85 588.83,121.87 589.08,77.07 589.45,89.32 589.81,95.72 590.18,93.44 590.54,104.64 590.90,85.51 591.27,75.38 591.63,91.51 592.00,79.23 592.36,98.23 592.73,92.08 593.09,96.13 593.46,74.90 593.82,90.54 594.19,83.68 594.55,82.35 594.91,90.94 595.28,78.44 595.64,106.35 596.01,77.16 596.37,75.16 596.74,90.69 597.10,85.05 597.47,80.07 597.83,74.19 598.20,73.09 598.56,73.86 598.92,81.71 599.29,105.80 599.65,95.23 600.02,72.66 600.38,97.80 600.75,95.46 601.11,89.70 601.48,103.91 601.84,93.50 602.21,76.89 602.57,94.30 602.93,79.06 603.30,77.79 603.66,99.22 604.03,111.32 604.39,81.14 604.76,69.78 605.12,98.58 605.49,115.04 605.85,83.85 606.22,77.89 606.58,81.34 606.94,77.92 607.31,70.97 607.67,91.34 608.04,88.24 608.40,95.17 608.77,72.83 609.13,92.93 609.50,71.59 609.86,103.81 610.23,77.90 610.59,91.33 610.95,94.02 611.32,100.86 611.68,81.40 612.05,89.99 612.41,81.61 612.78,88.69 613.14,71.82 613.51,84.04 613.87,74.11 614.24,92.29 614.60,80.16 614.96,99.34 615.33,70.05 615.69,94.55 616.06,61.63 616.42,79.34 616.79,82.18 617.15,71.79 617.52,97.16 617.88,76.18 618.25,79.58 618.61,53.66 618.97,58.96 619.34,61.96 619.70,61.76 620.07,71.77 620.43,87.82 620.80,49.20 621.16,71.16 621.53,71.32 621.89,49.96 622.26,49.20 622.62,80.34 622.98,49.20 623.35,49.20 623.71,75.05 624.08,64.52 624.44,49.20 624.81,68.55 625.17,76.18 625.54,64.53 625.90,51.96 626.27,91.50 626.63,89.80 626.99,118.07 627.36,49.20 627.72,50.44 628.09,70.18 628.45,114.37 628.82,90.28 629.18,64.45 629.55,57.85 629.91,85.94 630.28,78.95 630.64,75.31 631.00,57.16 631.37,49.20 631.73,101.83 632.10,50.74 632.46,60.61 632.83,49.20 633.19,74.96 633.56,49.20 633.92,63.67 634.28,92.99 634.65,64.07 635.01,103.27 635.38,49.98 635.74,85.82 636.11,92.87 636.47,107.79 636.84,76.16 637.20,73.98 637.57,94.16 637.93,81.15 638.29,84.55 638.66,77.02 639.02,68.25 639.39,88.88 639.75,90.62 640.12,63.26 640.48,49.20 640.85,55.81 641.21,75.10 641.58,79.53 641.94,53.45 642.30,50.67 642.67,62.74 643.03,63.38 643.40,85.66 643.76,49.87 644.13,84.26 644.49,67.45 644.86,54.97 645.22,49.20 645.59,84.09 645.95,49.97 646.31,49.20 646.68,88.17 647.04,75.34 647.41,52.14 647.77,65.88 648.14,83.99 648.50,49.20 648.87,66.67 649.23,75.46 649.60,94.40 649.96,91.49 650.32,74.83 650.69,71.35 651.05,49.20 651.42,93.92 651.78,58.35 652.15,84.72 652.51,52.94 652.88,60.72 653.24,50.82 653.61,66.90 653.97,58.01 654.33,84.01 654.70,86.85 655.06,83.47 655.43,72.92 655.79,77.76 656.16,117.91 656.52,61.68 656.89,100.32 657.25,49.20 657.62,49.20 657.98,81.51 658.34,52.03 658.71,92.73 659.07,65.95 659.44,91.09 659.80,75.88 660.17,49.20 660.53,66.15 660.90,70.12 661.26,94.78 661.63,86.20" fill="none" stroke="#c0605f" stroke-width="0.55" stroke-opacity="0.6" stroke-linejoin="bevel"/>
<polyline points="549.65,87.80 550.31,116.33 550.56,115.40 550.81,114.69 551.05,106.26 551.30,114.94 551.55,102.60 551.80,110.53 552.05,109.64 552.30,112.34 552.55,116.50 552.79,115.93 553.04,110.48 553.29,111.79 553.54,117.82 553.79,120.04 554.04,122.48 554.28,118.36 554.53,124.28 554.78,119.84 555.03,118.75 555.28,122.86 555.53,121.55 555.78,124.27 556.02,121.28 556.27,124.53 556.52,118.82 556.77,124.81 557.02,123.47 557.27,122.70 557.52,119.99 557.76,123.18 558.01,123.23 558.26,119.09 558.51,121.37 558.76,122.08 559.01,122.10 559.26,122.58 559.50,124.22 559.75,121.84 560.00,124.36 560.25,123.52 560.50,121.84 560.75,120.47 561.00,120.07 561.24,124.68 561.49,123.58 561.74,122.57 561.99,120.36 562.24,118.16 562.49,123.80 562.74,118.07 562.98,121.03 563.23,122.13 563.48,124.52 563.73,124.82 563.98,120.31 564.23,120.89 564.48,120.04 564.72,122.88 564.97,123.08 565.22,121.17 565.47,124.78 565.72,124.37 565.97,122.12 566.22,121.00 566.46,119.49 566.71,123.16 566.96,123.60 567.21,124.12 567.46,122.56 567.71,117.99 567.96,121.87 568.20,119.44 568.45,124.08 568.70,122.88 568.95,120.92 569.20,124.28 569.45,119.65 569.70,121.48 569.94,121.26 570.19,124.50 570.44,118.26 570.69,124.81 570.94,124.85 571.19,124.79 571.43,122.40 571.68,122.64 571.93,118.66 572.18,123.53 572.43,123.75 572.68,121.21 572.93,122.48 573.17,120.97 573.42,121.29 573.67,120.76 573.92,121.31 574.17,124.85 574.42,123.21 574.67,123.24 574.91,121.07 575.16,119.93 575.41,120.01 575.66,119.98 575.91,119.48 576.16,123.36 576.41,117.96 576.65,124.80 576.90,120.16 577.15,122.34 577.40,123.10 577.65,121.26 577.90,123.74 578.15,119.80 578.39,118.07 578.64,123.80 578.89,124.65 579.14,123.57 579.39,122.43 579.64,124.36 579.89,122.72 580.13,123.60 580.38,119.67 580.63,120.96 580.88,123.52 581.13,124.52 581.38,123.19 581.63,118.01 581.87,124.77 582.12,124.73 582.37,123.92 582.62,124.54 582.87,121.75 583.12,121.59 583.37,119.40 583.61,124.68 583.86,119.63 584.11,121.80 584.36,120.56 584.61,120.64 584.86,123.72 585.11,120.96 585.35,124.79 585.60,122.64 585.85,122.87 586.10,121.27 586.35,120.97 586.60,122.08 586.85,123.83 587.09,124.46 587.34,118.42 587.59,119.74 587.84,121.73 588.09,123.40 588.34,123.05 588.58,124.62 588.83,120.88 589.08,89.81 589.45,108.19 589.81,92.96 590.18,81.29 590.54,95.05 590.90,89.96 591.27,82.28 591.63,87.61 592.00,97.36 592.36,78.59 592.73,74.79 593.09,87.52 593.46,103.58 593.82,93.53 594.19,101.76 594.55,87.14 594.91,95.82 595.28,117.84 595.64,77.20 596.01,70.55 596.37,91.49 596.74,74.34 597.10,80.97 597.47,96.70 597.83,87.34 598.20,94.66 598.56,84.21 598.92,99.26 599.29,97.27 599.65,71.44 600.02,81.03 600.38,88.31 600.75,83.55 601.11,77.77 601.48,87.87 601.84,72.06 602.21,77.82 602.57,82.30 602.93,81.84 603.30,86.26 603.66,95.16 604.03,74.00 604.39,95.68 604.76,80.43 605.12,87.95 605.49,81.88 605.85,75.83 606.22,85.84 606.58,79.24 606.94,103.58 607.31,89.20 607.67,97.15 608.04,93.34 608.40,77.50 608.77,89.04 609.13,77.25 609.50,85.10 609.86,89.02 610.23,84.86 610.59,75.41 610.95,75.34 611.32,96.83 611.68,79.18 612.05,87.96 612.41,99.81 612.78,79.15 613.14,74.47 613.51,95.88 613.87,92.27 614.24,104.36 614.60,89.73 614.96,83.91 615.33,87.33 615.69,66.50 616.06,102.08 616.42,79.99 616.79,49.20 617.15,49.20 617.52,69.78 617.88,65.01 618.25,90.00 618.61,66.75 618.97,49.20 619.34,59.66 619.70,59.96 620.07,82.90 620.43,57.07 620.80,49.20 621.16,81.70 621.53,64.41 621.89,65.89 622.26,66.19 622.62,76.93 622.98,75.93 623.35,87.42 623.71,76.54 624.08,93.35 624.44,108.55 624.81,91.99 625.17,50.05 625.54,49.20 625.90,111.97 626.27,89.19 626.63,119.17 626.99,50.82 627.36,59.09 627.72,77.09 628.09,75.48 628.45,52.81 628.82,87.29 629.18,56.51 629.55,92.36 629.91,51.90 630.28,59.44 630.64,83.70 631.00,64.42 631.37,49.47 631.73,85.37 632.10,69.49 632.46,49.20 632.83,88.70 633.19,92.92 633.56,52.38 633.92,51.44 634.28,61.08 634.65,60.08 635.01,110.10 635.38,88.73 635.74,49.96 636.11,49.20 636.47,91.73 636.84,87.93 637.20,59.51 637.57,68.75 637.93,76.67 638.29,76.45 638.66,122.20 639.02,50.06 639.39,52.27 639.75,54.48 640.12,57.45 640.48,96.72 640.85,69.87 641.21,56.90 641.58,118.59 641.94,75.99 642.30,51.29 642.67,49.20 643.03,76.49 643.40,52.64 643.76,76.25 644.13,51.06 644.49,61.90 644.86,76.90 645.22,88.45 645.59,49.20 645.95,57.87 646.31,76.80 646.68,64.11 647.04,64.14 647.41,63.83 647.77,79.33 648.14,117.61 648.50,54.53 648.87,95.65 649.23,95.87 649.60,53.39 649.96,49.20 650.32,57.00 650.69,51.52 651.05,70.31 651.42,68.86 651.78,99.96 652.15,90.25 652.51,93.29 652.88,52.37 653.24,80.89 653.61,88.79 653.97,49.20 654.33,55.17 654.70,80.80 655.06,49.20 655.43,111.51 655.79,99.21 656.16,102.93 656.52,70.30 656.89,54.64 657.25,106.96 657.62,75.99 657.98,93.44 658.34,66.40 658.71,61.99 659.07,91.53 659.44,89.72 659.80,61.73 660.17,92.21 660.53,99.84 660.90,66.26 661.26,65.45 661.63,105.83" fill="none" stroke="#8a1b1d" stroke-width="0.55" stroke-opacity="0.75" stroke-linejoin="bevel"/>
<polyline points="546.00,49.20 549.65,49.20 550.31,110.24 550.56,118.48 550.81,111.02 551.05,110.84 551.30,103.61 551.55,111.13 551.80,116.05 552.05,107.19 552.30,118.91 552.55,110.78 552.79,111.77 553.04,115.85 553.29,116.83 553.54,120.39 553.79,120.89 554.04,122.73 554.28,122.38 554.53,123.95 554.78,124.85 555.03,118.14 555.28,118.58 555.53,118.41 555.78,122.07 556.02,124.85 556.27,122.98 556.52,121.82 556.77,124.84 557.02,122.63 557.27,119.68 557.52,120.79 557.76,122.91 558.01,123.10 558.26,122.61 558.51,122.84 558.76,124.32 559.01,123.54 559.26,123.60 559.50,118.11 559.75,124.77 560.00,123.46 560.25,124.75 560.50,122.44 560.75,124.85 561.00,122.25 561.24,122.35 561.49,121.20 561.74,120.20 561.99,121.84 562.24,124.75 562.49,122.41 562.74,124.56 562.98,124.09 563.23,124.83 563.48,120.83 563.73,123.66 563.98,122.01 564.23,121.53 564.48,122.56 564.72,122.00 564.97,123.71 565.22,118.23 565.47,122.70 565.72,118.90 565.97,124.71 566.22,124.26 566.46,120.49 566.71,118.45 566.96,124.52 567.21,121.87 567.46,124.25 567.71,124.85 567.96,124.80 568.20,123.67 568.45,120.15 568.70,123.47 568.95,124.22 569.20,118.22 569.45,120.37 569.70,121.15 569.94,124.37 570.19,124.05 570.44,120.99 570.69,123.92 570.94,122.42 571.19,119.04 571.43,121.86 571.68,124.74 571.93,118.33 572.18,124.54 572.43,123.26 572.68,124.84 572.93,124.70 573.17,118.46 573.42,119.73 573.67,119.93 573.92,119.46 574.17,122.90 574.42,123.39 574.67,120.60 574.91,121.29 575.16,118.29 575.41,124.72 575.66,124.19 575.91,123.23 576.16,124.15 576.41,119.65 576.65,121.81 576.90,123.70 577.15,124.57 577.40,118.38 577.65,119.67 577.90,124.73 578.15,123.72 578.39,121.39 578.64,123.78 578.89,124.72 579.14,124.24 579.39,118.62 579.64,123.61 579.89,123.78 580.13,119.27 580.38,123.73 580.63,124.18 580.88,124.41 581.13,123.75 581.38,124.18 581.63,122.82 581.87,124.45 582.12,124.05 582.37,119.90 582.62,124.75 582.87,118.85 583.12,120.70 583.37,121.78 583.61,121.45 583.86,122.19 584.11,118.55 584.36,124.58 584.61,118.19 584.86,119.85 585.11,124.85 585.35,118.31 585.60,121.45 585.85,120.47 586.10,124.74 586.35,120.84 586.60,124.48 586.85,123.57 587.09,124.49 587.34,121.77 587.59,122.51 587.84,119.21 588.09,121.90 588.34,121.20 588.58,124.13 588.83,119.18 589.08,103.37 589.45,104.70 589.81,102.48 590.18,99.78 590.54,90.70 590.90,88.25 591.27,84.89 591.63,79.54 592.00,85.71 592.36,81.46 592.73,72.96 593.09,75.30 593.46,91.88 593.82,85.68 594.19,85.64 594.55,120.25 594.91,75.73 595.28,84.53 595.64,86.03 596.01,82.75 596.37,88.01 596.74,108.35 597.10,90.95 597.47,85.07 597.83,93.41 598.20,79.25 598.56,78.67 598.92,76.87 599.29,81.68 599.65,93.56 600.02,89.44 600.38,74.93 600.75,77.42 601.11,85.14 601.48,83.05 601.84,94.15 602.21,83.29 602.57,73.79 602.93,77.63 603.30,87.29 603.66,88.29 604.03,83.68 604.39,80.56 604.76,102.02 605.12,85.97 605.49,72.35 605.85,95.76 606.22,79.31 606.58,84.42 606.94,69.27 607.31,70.83 607.67,89.90 608.04,107.60 608.40,79.41 608.77,80.35 609.13,104.08 609.50,112.17 609.86,83.52 610.23,80.47 610.59,93.99 610.95,90.40 611.32,81.03 611.68,76.26 612.05,102.48 612.41,91.14 612.78,76.56 613.14,89.82 613.51,90.06 613.87,100.39 614.24,95.42 614.60,87.87 614.96,91.49 615.33,83.24 615.69,98.31 616.06,73.80 616.42,92.27 616.79,72.54 617.15,59.58 617.52,101.90 617.88,62.87 618.25,53.16 618.61,80.27 618.97,59.11 619.34,63.39 619.70,75.45 620.07,94.80 620.43,49.20 620.80,66.91 621.16,75.64 621.53,53.06 621.89,60.62 622.26,58.25 622.62,84.76 622.98,110.74 623.35,82.69 623.71,71.28 624.08,49.20 624.44,65.71 624.81,49.20 625.17,69.83 625.54,71.48 625.90,104.42 626.27,118.61 626.63,49.20 626.99,75.04 627.36,51.03 627.72,83.38 628.09,75.94 628.45,49.20 628.82,65.83 629.18,96.14 629.55,58.53 629.91,54.31 630.28,49.20 630.64,62.70 631.00,87.10 631.37,58.41 631.73,86.00 632.10,53.13 632.46,102.25 632.83,65.07 633.19,64.78 633.56,53.47 633.92,79.64 634.28,67.13 634.65,72.96 635.01,64.19 635.38,100.52 635.74,62.79 636.11,55.80 636.47,95.88 636.84,67.44 637.20,59.30 637.57,49.20 637.93,67.30 638.29,87.96 638.66,78.61 639.02,49.20 639.39,121.56 639.75,49.95 640.12,69.67 640.48,66.68 640.85,50.63 641.21,54.21 641.58,77.54 641.94,49.20 642.30,57.25 642.67,66.94 643.03,70.87 643.40,60.44 643.76,55.16 644.13,98.84 644.49,54.59 644.86,72.60 645.22,59.27 645.59,64.85 645.95,49.20 646.31,66.31 646.68,111.30 647.04,60.21 647.41,49.20 647.77,57.06 648.14,49.20 648.50,49.20 648.87,76.66 649.23,81.40 649.60,80.96 649.96,49.20 650.32,53.52 650.69,90.66 651.05,65.54 651.42,73.80 651.78,67.04 652.15,53.83 652.51,49.20 652.88,69.27 653.24,73.04 653.61,71.92 653.97,72.35 654.33,77.12 654.70,53.42 655.06,50.98 655.43,60.94 655.79,83.94 656.16,49.20 656.52,84.03 656.89,95.89 657.25,97.37 657.62,50.79 657.98,50.99 658.34,55.86 658.71,52.68 659.07,49.20 659.44,51.83 659.80,49.20 660.17,75.03 660.53,81.68 660.90,54.37 661.26,52.61 661.63,98.68" fill="none" stroke="#8a1b1d" stroke-width="0.55" stroke-opacity="0.9" stroke-linejoin="bevel"/>
<text x="552.70" y="58.00" font-size="6.15" textLength="28.30" lengthAdjust="spacingAndGlyphs">Alignment</text>
<text x="552.70" y="64.80" font-size="6.15" textLength="21.30" lengthAdjust="spacingAndGlyphs">window</text>
<line x1="549.60" y1="68.50" x2="585.40" y2="68.50" stroke="#111" stroke-width="0.7" stroke-dasharray="2,1.5"/>
<text x="556.20" y="84.50" font-size="6.15" textLength="33.80" lengthAdjust="spacingAndGlyphs">Interference</text>
<text x="556.20" y="91.80" font-size="6.15" textLength="17.80" lengthAdjust="spacingAndGlyphs">window</text>
<line x1="585.00" y1="87.80" x2="605.30" y2="87.80" stroke="#222" stroke-width="0.7"/>
<text x="529.20" y="34.60" font-size="7.21" textLength="41.80" lengthAdjust="spacingAndGlyphs">Perturbation</text>
<line x1="577.00" y1="32.10" x2="583.70" y2="32.10" stroke="#cfcfcf" stroke-width="0.7"/>
<text x="588.60" y="34.60" font-size="7.21" textLength="14.60" lengthAdjust="spacingAndGlyphs">NTC</text>
<line x1="618.80" y1="32.10" x2="626.40" y2="32.10" stroke="#8a1b1d" stroke-width="0.7"/>
<text x="631.50" y="34.60" font-size="7.2" textLength="36.50" lengthAdjust="spacingAndGlyphs"><tspan font-style="italic">CYP7B1</tspan> KO</text>
<text x="518.20" y="87.80" font-size="7.21" text-anchor="middle" textLength="45.90" lengthAdjust="spacingAndGlyphs" transform="rotate(-90 518.20 87.80)">Discord value</text>
<text x="599.50" y="150.80" font-size="7.21" text-anchor="middle" textLength="29.70" lengthAdjust="spacingAndGlyphs">Base pair</text>
<text x="0.00" y="172.80" font-size="12.8" fill="#000" font-weight="bold" stroke="#000" stroke-width="0.35">d</text>
<text x="17.30" y="172.80" font-size="9.75" textLength="151.90" lengthAdjust="spacingAndGlyphs">NK-92 migration to MDA-MB-231 CM</text>
<rect x="22.90" y="187.80" width="8.00" height="7.50" fill="#6e6e6e" stroke="#4a4a4a" stroke-width="0.5"/>
<text x="35.70" y="193.80" font-size="7.21" textLength="14.00" lengthAdjust="spacingAndGlyphs">NTC</text>
<rect x="22.90" y="200.90" width="8.00" height="7.50" fill="#f6a74a" stroke="#8a6230" stroke-width="0.5"/>
<text x="35.70" y="206.90" font-size="7.21" font-style="italic" textLength="24.50" lengthAdjust="spacingAndGlyphs">GPR183</text>
<text x="60.60" y="203.60" font-size="4.56" font-style="italic">Δ/+</text>
<line x1="25.60" y1="225.30" x2="25.60" y2="322.40" stroke="#3a3a3a" stroke-width="0.6"/>
<line x1="22.60" y1="225.50" x2="25.60" y2="225.50" stroke="#3a3a3a" stroke-width="0.6"/>
<text x="19.60" y="227.50" font-size="6.36" text-anchor="end">6</text>
<line x1="22.60" y1="257.80" x2="25.60" y2="257.80" stroke="#3a3a3a" stroke-width="0.6"/>
<text x="19.60" y="259.80" font-size="6.36" text-anchor="end">4</text>
<line x1="22.60" y1="290.10" x2="25.60" y2="290.10" stroke="#3a3a3a" stroke-width="0.6"/>
<text x="19.60" y="292.10" font-size="6.36" text-anchor="end">2</text>
<line x1="22.60" y1="322.40" x2="25.60" y2="322.40" stroke="#3a3a3a" stroke-width="0.6"/>
<text x="19.60" y="324.40" font-size="6.36" text-anchor="end">0</text>
<line x1="22.60" y1="322.40" x2="172.40" y2="322.40" stroke="#3a3a3a" stroke-width="0.6"/>
<rect x="31.10" y="304.63" width="10.60" height="17.76" fill="#6e6e6e" stroke="#4a4a4a" stroke-width="0.6"/>
<rect x="47.30" y="289.29" width="10.60" height="33.11" fill="#6e6e6e" stroke="#4a4a4a" stroke-width="0.6"/>
<rect x="63.80" y="293.01" width="10.60" height="29.39" fill="#6e6e6e" stroke="#4a4a4a" stroke-width="0.6"/>
<rect x="80.20" y="296.56" width="10.60" height="25.84" fill="#6e6e6e" stroke="#4a4a4a" stroke-width="0.6"/>
<rect x="106.70" y="306.90" width="10.60" height="15.50" fill="#f6a74a" stroke="#8a6230" stroke-width="0.6"/>
<rect x="123.20" y="256.02" width="10.60" height="66.38" fill="#f6a74a" stroke="#8a6230" stroke-width="0.6"/>
<rect x="139.40" y="264.26" width="10.60" height="58.14" fill="#f6a74a" stroke="#8a6230" stroke-width="0.6"/>
<rect x="155.70" y="284.12" width="10.60" height="38.28" fill="#f6a74a" stroke="#8a6230" stroke-width="0.6"/>
<line x1="36.40" y1="322.40" x2="36.40" y2="326.20" stroke="#3a3a3a" stroke-width="0.6"/>
<line x1="52.60" y1="322.40" x2="52.60" y2="326.20" stroke="#3a3a3a" stroke-width="0.6"/>
<line x1="69.10" y1="322.40" x2="69.10" y2="326.20" stroke="#3a3a3a" stroke-width="0.6"/>
<line x1="85.50" y1="322.40" x2="85.50" y2="326.20" stroke="#3a3a3a" stroke-width="0.6"/>
<line x1="112.00" y1="322.40" x2="112.00" y2="326.20" stroke="#3a3a3a" stroke-width="0.6"/>
<line x1="128.50" y1="322.40" x2="128.50" y2="326.20" stroke="#3a3a3a" stroke-width="0.6"/>
<line x1="144.70" y1="322.40" x2="144.70" y2="326.20" stroke="#3a3a3a" stroke-width="0.6"/>
<line x1="161.00" y1="322.40" x2="161.00" y2="326.20" stroke="#3a3a3a" stroke-width="0.6"/>
<line x1="36.40" y1="304.63" x2="36.40" y2="300.60" stroke="#222" stroke-width="0.6"/>
<line x1="34.20" y1="300.60" x2="38.60" y2="300.60" stroke="#222" stroke-width="0.6"/>
<circle cx="36.40" cy="300.20" r="1.80" fill="#000"/>
<circle cx="33.20" cy="305.80" r="1.80" fill="#000"/>
<circle cx="40.10" cy="305.80" r="1.80" fill="#000"/>
<line x1="52.60" y1="289.29" x2="52.60" y2="285.25" stroke="#222" stroke-width="0.6"/>
<line x1="50.40" y1="285.25" x2="54.80" y2="285.25" stroke="#222" stroke-width="0.6"/>
<circle cx="52.80" cy="283.90" r="1.80" fill="#000"/>
<circle cx="49.50" cy="292.80" r="1.80" fill="#000"/>
<circle cx="56.20" cy="291.20" r="1.80" fill="#000"/>
<line x1="69.10" y1="293.01" x2="69.10" y2="289.78" stroke="#222" stroke-width="0.6"/>
<line x1="66.90" y1="289.78" x2="71.30" y2="289.78" stroke="#222" stroke-width="0.6"/>
<circle cx="65.70" cy="289.70" r="1.80" fill="#000"/>
<circle cx="72.20" cy="290.70" r="1.80" fill="#000"/>
<circle cx="68.90" cy="296.60" r="1.80" fill="#000"/>
<line x1="85.50" y1="296.56" x2="85.50" y2="294.94" stroke="#222" stroke-width="0.6"/>
<line x1="83.30" y1="294.94" x2="87.70" y2="294.94" stroke="#222" stroke-width="0.6"/>
<circle cx="81.70" cy="297.90" r="1.80" fill="#000"/>
<circle cx="85.30" cy="294.30" r="1.80" fill="#000"/>
<circle cx="88.40" cy="295.80" r="1.80" fill="#000"/>
<line x1="112.00" y1="306.90" x2="112.00" y2="305.28" stroke="#222" stroke-width="0.6"/>
<line x1="109.80" y1="305.28" x2="114.20" y2="305.28" stroke="#222" stroke-width="0.6"/>
<circle cx="108.90" cy="305.60" r="1.80" fill="#000"/>
<circle cx="112.00" cy="305.30" r="1.80" fill="#000"/>
<circle cx="115.10" cy="305.60" r="1.80" fill="#000"/>
<line x1="128.50" y1="256.02" x2="128.50" y2="251.34" stroke="#222" stroke-width="0.6"/>
<line x1="126.30" y1="251.34" x2="130.70" y2="251.34" stroke="#222" stroke-width="0.6"/>
<circle cx="128.40" cy="250.00" r="1.80" fill="#000"/>
<circle cx="128.40" cy="253.00" r="1.80" fill="#000"/>
<circle cx="128.40" cy="263.90" r="1.80" fill="#000"/>
<line x1="144.70" y1="264.26" x2="144.70" y2="258.61" stroke="#222" stroke-width="0.6"/>
<line x1="142.50" y1="258.61" x2="146.90" y2="258.61" stroke="#222" stroke-width="0.6"/>
<circle cx="144.50" cy="256.00" r="1.80" fill="#000"/>
<circle cx="144.50" cy="262.00" r="1.80" fill="#000"/>
<circle cx="144.50" cy="273.70" r="1.80" fill="#000"/>
<line x1="161.00" y1="284.12" x2="161.00" y2="282.67" stroke="#222" stroke-width="0.6"/>
<line x1="158.80" y1="282.67" x2="163.20" y2="282.67" stroke="#222" stroke-width="0.6"/>
<circle cx="160.60" cy="281.50" r="1.80" fill="#000"/>
<circle cx="157.10" cy="285.10" r="1.80" fill="#000"/>
<circle cx="164.20" cy="285.10" r="1.80" fill="#000"/>
<text x="40.20" y="331.00" font-size="6.25" text-anchor="end" transform="rotate(-45 40.20 331.00)">Media</text>
<text x="56.40" y="331.00" font-size="6.25" text-anchor="end" transform="rotate(-45 56.40 331.00)">NTC</text>
<text x="72.90" y="331.00" font-size="6.25" text-anchor="end" transform="rotate(-45 72.90 331.00)"><tspan font-style="italic">CH25H</tspan> KO</text>
<text x="89.30" y="331.00" font-size="6.25" text-anchor="end" transform="rotate(-45 89.30 331.00)"><tspan font-style="italic">CYP7B1</tspan> KO</text>
<text x="115.80" y="331.00" font-size="6.25" text-anchor="end" transform="rotate(-45 115.80 331.00)">Media</text>
<text x="132.30" y="331.00" font-size="6.25" text-anchor="end" transform="rotate(-45 132.30 331.00)">NTC</text>
<text x="148.50" y="331.00" font-size="6.25" text-anchor="end" transform="rotate(-45 148.50 331.00)"><tspan font-style="italic">CH25H</tspan> KO</text>
<text x="164.80" y="331.00" font-size="6.25" text-anchor="end" transform="rotate(-45 164.80 331.00)"><tspan font-style="italic">CYP7B1</tspan> KO</text>
<text x="70.50" y="364.50" font-size="7.21" textLength="57.10" lengthAdjust="spacingAndGlyphs">MDA-MB-231 line</text>
<text x="9.00" y="273.70" font-size="7.21" text-anchor="middle" textLength="42.20" lengthAdjust="spacingAndGlyphs" transform="rotate(-90 9.00 273.70)">Fold change</text>
<polyline points="36.10,255.60 36.10,243.30 69.20,243.30 69.20,282.00" fill="none" stroke="#666666" stroke-width="0.6"/>
<text x="36.70" y="241.30" font-size="5.62" textLength="32.00" lengthAdjust="spacingAndGlyphs"><tspan font-style="italic">P</tspan> = 0.0474</text>
<polyline points="36.10,296.30 36.10,264.40 52.70,264.40 52.70,279.00" fill="none" stroke="#666666" stroke-width="0.6"/>
<text x="29.00" y="263.20" font-size="5.62" textLength="32.00" lengthAdjust="spacingAndGlyphs"><tspan font-style="italic">P</tspan> = 0.0098</text>
<polyline points="112.30,302.00 112.30,238.60 128.40,238.60 128.40,243.90" fill="none" stroke="#666666" stroke-width="0.6"/>
<text x="106.15" y="237.40" font-size="5.62" textLength="29.50" lengthAdjust="spacingAndGlyphs"><tspan font-style="italic">P</tspan> &lt; 0.0001</text>
<polyline points="112.30,231.00 112.30,225.60 144.50,225.60 144.50,235.60" fill="none" stroke="#666666" stroke-width="0.6"/>
<text x="113.65" y="223.60" font-size="5.62" textLength="29.50" lengthAdjust="spacingAndGlyphs"><tspan font-style="italic">P</tspan> &lt; 0.0001</text>
<polyline points="128.40,216.80 128.40,210.50 160.70,210.50 160.70,277.80" fill="none" stroke="#666666" stroke-width="0.6"/>
<text x="129.75" y="208.80" font-size="5.62" textLength="29.50" lengthAdjust="spacingAndGlyphs"><tspan font-style="italic">P</tspan> &lt; 0.0001</text>
<polyline points="144.50,248.40 144.50,243.50 160.70,243.50 160.70,277.00" fill="none" stroke="#666666" stroke-width="0.6"/>
<text x="137.95" y="242.00" font-size="5.62" textLength="30.50" lengthAdjust="spacingAndGlyphs"><tspan font-style="italic">P</tspan> = 0.0008</text>
<text x="190.60" y="172.80" font-size="12.8" fill="#000" font-weight="bold" stroke="#000" stroke-width="0.35">e</text>
<text x="206.60" y="172.80" font-size="9.75" textLength="137.10" lengthAdjust="spacingAndGlyphs">NK-92 migration to tissue lysate</text>
<rect x="202.10" y="187.80" width="7.80" height="7.50" fill="#6e6e6e" stroke="#4a4a4a" stroke-width="0.5"/>
<text x="214.90" y="193.80" font-size="7.21" textLength="14.10" lengthAdjust="spacingAndGlyphs">NTC</text>
<rect x="202.10" y="200.90" width="7.80" height="7.50" fill="#f6a74a" stroke="#8a6230" stroke-width="0.5"/>
<text x="214.90" y="206.90" font-size="7.21" font-style="italic" textLength="24.50" lengthAdjust="spacingAndGlyphs">GPR183</text>
<text x="239.80" y="203.60" font-size="4.56" font-style="italic">Δ/+</text>
<line x1="212.10" y1="223.30" x2="212.10" y2="322.40" stroke="#3a3a3a" stroke-width="0.6"/>
<line x1="209.10" y1="223.52" x2="212.10" y2="223.52" stroke="#3a3a3a" stroke-width="0.6"/>
<text x="206.90" y="225.52" font-size="6.36" text-anchor="end">8</text>
<line x1="209.10" y1="248.24" x2="212.10" y2="248.24" stroke="#3a3a3a" stroke-width="0.6"/>
<text x="206.90" y="250.24" font-size="6.36" text-anchor="end">6</text>
<line x1="209.10" y1="272.96" x2="212.10" y2="272.96" stroke="#3a3a3a" stroke-width="0.6"/>
<text x="206.90" y="274.96" font-size="6.36" text-anchor="end">4</text>
<line x1="209.10" y1="297.68" x2="212.10" y2="297.68" stroke="#3a3a3a" stroke-width="0.6"/>
<text x="206.90" y="299.68" font-size="6.36" text-anchor="end">2</text>
<line x1="209.10" y1="322.40" x2="212.10" y2="322.40" stroke="#3a3a3a" stroke-width="0.6"/>
<text x="206.90" y="324.40" font-size="6.36" text-anchor="end">0</text>
<line x1="209.00" y1="322.40" x2="311.50" y2="322.40" stroke="#3a3a3a" stroke-width="0.6"/>
<rect x="218.05" y="313.13" width="8.70" height="9.27" fill="#6e6e6e" stroke="#4a4a4a" stroke-width="0.6"/>
<rect x="232.15" y="301.76" width="8.70" height="20.64" fill="#6e6e6e" stroke="#4a4a4a" stroke-width="0.6"/>
<rect x="246.35" y="291.50" width="8.70" height="30.90" fill="#6e6e6e" stroke="#4a4a4a" stroke-width="0.6"/>
<rect x="269.45" y="310.66" width="8.70" height="11.74" fill="#f6a74a" stroke="#8a6230" stroke-width="0.6"/>
<rect x="283.95" y="277.90" width="8.70" height="44.50" fill="#f6a74a" stroke="#8a6230" stroke-width="0.6"/>
<rect x="298.05" y="255.04" width="8.70" height="67.36" fill="#f6a74a" stroke="#8a6230" stroke-width="0.6"/>
<line x1="222.40" y1="322.40" x2="222.40" y2="326.60" stroke="#3a3a3a" stroke-width="0.6"/>
<line x1="236.50" y1="322.40" x2="236.50" y2="326.60" stroke="#3a3a3a" stroke-width="0.6"/>
<line x1="250.70" y1="322.40" x2="250.70" y2="326.60" stroke="#3a3a3a" stroke-width="0.6"/>
<line x1="273.80" y1="322.40" x2="273.80" y2="326.60" stroke="#3a3a3a" stroke-width="0.6"/>
<line x1="288.30" y1="322.40" x2="288.30" y2="326.60" stroke="#3a3a3a" stroke-width="0.6"/>
<line x1="302.40" y1="322.40" x2="302.40" y2="326.60" stroke="#3a3a3a" stroke-width="0.6"/>
<line x1="222.40" y1="313.13" x2="222.40" y2="310.04" stroke="#222" stroke-width="0.6"/>
<line x1="220.60" y1="310.04" x2="224.20" y2="310.04" stroke="#222" stroke-width="0.6"/>
<circle cx="219.50" cy="310.00" r="1.70" fill="#000"/>
<circle cx="221.50" cy="307.50" r="1.70" fill="#000"/>
<circle cx="223.50" cy="306.50" r="1.70" fill="#000"/>
<circle cx="225.20" cy="309.00" r="1.70" fill="#000"/>
<circle cx="220.00" cy="313.00" r="1.70" fill="#000"/>
<circle cx="222.50" cy="312.00" r="1.70" fill="#000"/>
<circle cx="224.50" cy="313.50" r="1.70" fill="#000"/>
<circle cx="226.00" cy="311.00" r="1.70" fill="#000"/>
<circle cx="222.00" cy="309.50" r="1.70" fill="#000"/>
<line x1="236.50" y1="301.76" x2="236.50" y2="298.67" stroke="#222" stroke-width="0.6"/>
<line x1="234.70" y1="298.67" x2="238.30" y2="298.67" stroke="#222" stroke-width="0.6"/>
<circle cx="236.40" cy="291.70" r="1.70" fill="#000"/>
<circle cx="234.00" cy="299.50" r="1.70" fill="#000"/>
<circle cx="236.40" cy="297.50" r="1.70" fill="#000"/>
<circle cx="238.50" cy="299.30" r="1.70" fill="#000"/>
<circle cx="240.00" cy="301.80" r="1.70" fill="#000"/>
<circle cx="233.50" cy="301.00" r="1.70" fill="#000"/>
<circle cx="236.40" cy="307.00" r="1.70" fill="#000"/>
<circle cx="236.40" cy="311.80" r="1.70" fill="#000"/>
<line x1="250.70" y1="291.50" x2="250.70" y2="288.41" stroke="#222" stroke-width="0.6"/>
<line x1="248.90" y1="288.41" x2="252.50" y2="288.41" stroke="#222" stroke-width="0.6"/>
<circle cx="247.60" cy="289.50" r="1.70" fill="#000"/>
<circle cx="249.50" cy="287.50" r="1.70" fill="#000"/>
<circle cx="253.00" cy="287.50" r="1.70" fill="#000"/>
<circle cx="251.00" cy="290.00" r="1.70" fill="#000"/>
<circle cx="248.20" cy="292.50" r="1.70" fill="#000"/>
<circle cx="252.60" cy="292.00" r="1.70" fill="#000"/>
<circle cx="250.00" cy="294.50" r="1.70" fill="#000"/>
<circle cx="253.60" cy="293.50" r="1.70" fill="#000"/>
<circle cx="250.50" cy="296.00" r="1.70" fill="#000"/>
<circle cx="250.50" cy="302.00" r="1.70" fill="#000"/>
<circle cx="250.50" cy="276.90" r="1.70" fill="#000"/>
<line x1="273.80" y1="310.66" x2="273.80" y2="307.57" stroke="#222" stroke-width="0.6"/>
<line x1="272.00" y1="307.57" x2="275.60" y2="307.57" stroke="#222" stroke-width="0.6"/>
<circle cx="271.00" cy="303.00" r="1.70" fill="#000"/>
<circle cx="273.50" cy="302.00" r="1.70" fill="#000"/>
<circle cx="276.00" cy="304.50" r="1.70" fill="#000"/>
<circle cx="271.50" cy="306.50" r="1.70" fill="#000"/>
<circle cx="274.00" cy="306.00" r="1.70" fill="#000"/>
<circle cx="276.50" cy="308.50" r="1.70" fill="#000"/>
<circle cx="270.50" cy="310.00" r="1.70" fill="#000"/>
<circle cx="273.00" cy="310.50" r="1.70" fill="#000"/>
<circle cx="275.50" cy="312.00" r="1.70" fill="#000"/>
<circle cx="271.00" cy="313.00" r="1.70" fill="#000"/>
<line x1="288.30" y1="277.90" x2="288.30" y2="274.81" stroke="#222" stroke-width="0.6"/>
<line x1="286.50" y1="274.81" x2="290.10" y2="274.81" stroke="#222" stroke-width="0.6"/>
<circle cx="286.50" cy="269.50" r="1.70" fill="#000"/>
<circle cx="290.00" cy="269.50" r="1.70" fill="#000"/>
<circle cx="288.30" cy="272.00" r="1.70" fill="#000"/>
<circle cx="286.00" cy="274.50" r="1.70" fill="#000"/>
<circle cx="289.00" cy="275.00" r="1.70" fill="#000"/>
<circle cx="291.00" cy="273.50" r="1.70" fill="#000"/>
<circle cx="287.50" cy="276.50" r="1.70" fill="#000"/>
<circle cx="288.30" cy="288.10" r="1.70" fill="#000"/>
<circle cx="288.30" cy="298.30" r="1.70" fill="#000"/>
<line x1="302.40" y1="255.04" x2="302.40" y2="251.95" stroke="#222" stroke-width="0.6"/>
<line x1="300.60" y1="251.95" x2="304.20" y2="251.95" stroke="#222" stroke-width="0.6"/>
<circle cx="299.50" cy="248.00" r="1.70" fill="#000"/>
<circle cx="302.00" cy="247.50" r="1.70" fill="#000"/>
<circle cx="304.50" cy="249.00" r="1.70" fill="#000"/>
<circle cx="300.00" cy="251.00" r="1.70" fill="#000"/>
<circle cx="303.00" cy="251.50" r="1.70" fill="#000"/>
<circle cx="305.00" cy="252.50" r="1.70" fill="#000"/>
<circle cx="301.00" cy="253.50" r="1.70" fill="#000"/>
<circle cx="303.50" cy="254.50" r="1.70" fill="#000"/>
<circle cx="302.40" cy="259.50" r="1.70" fill="#000"/>
<circle cx="302.40" cy="268.80" r="1.70" fill="#000"/>
<text x="225.60" y="330.80" font-size="6.47" text-anchor="end" transform="rotate(-45 225.60 330.80)">Media</text>
<text x="239.70" y="330.80" font-size="6.47" text-anchor="end" transform="rotate(-45 239.70 330.80)">Lung</text>
<text x="253.90" y="330.80" font-size="6.47" text-anchor="end" transform="rotate(-45 253.90 330.80)">Tumor</text>
<text x="277.00" y="330.80" font-size="6.47" text-anchor="end" transform="rotate(-45 277.00 330.80)">Media</text>
<text x="291.50" y="330.80" font-size="6.47" text-anchor="end" transform="rotate(-45 291.50 330.80)">Lung</text>
<text x="305.60" y="330.80" font-size="6.47" text-anchor="end" transform="rotate(-45 305.60 330.80)">Tumor</text>
<text x="241.50" y="353.40" font-size="7.21" textLength="41.80" lengthAdjust="spacingAndGlyphs">Tissue lysate</text>
<text x="195.40" y="273.40" font-size="7.21" text-anchor="middle" textLength="101.40" lengthAdjust="spacingAndGlyphs" transform="rotate(-90 195.40 273.40)">Percentage of migrating cells</text>
<polyline points="222.40,296.50 222.40,277.30 236.50,277.30 236.50,294.00" fill="none" stroke="#666666" stroke-width="0.6"/>
<text x="214.10" y="275.70" font-size="5.62" textLength="30.00" lengthAdjust="spacingAndGlyphs"><tspan font-style="italic">P</tspan> = 0.0016</text>
<polyline points="236.50,267.20 236.50,263.60 250.60,263.60 250.60,268.00" fill="none" stroke="#666666" stroke-width="0.6"/>
<polyline points="222.50,269.00 222.50,250.20 250.60,250.20 250.60,253.20" fill="none" stroke="#666666" stroke-width="0.6"/>
<text x="221.60" y="248.60" font-size="5.62" textLength="29.00" lengthAdjust="spacingAndGlyphs"><tspan font-style="italic">P</tspan> &lt; 0.0001</text>
<polyline points="236.10,242.10 236.10,235.50 287.30,235.50 287.30,242.00" fill="none" stroke="#666666" stroke-width="0.6"/>
<text x="246.70" y="233.50" font-size="5.62" textLength="29.00" lengthAdjust="spacingAndGlyphs"><tspan font-style="italic">P</tspan> &lt; 0.0001</text>
<polyline points="273.80,301.30 273.80,255.60 288.30,255.60 288.30,262.20" fill="none" stroke="#666666" stroke-width="0.6"/>
<text x="266.80" y="252.60" font-size="5.62" textLength="29.00" lengthAdjust="spacingAndGlyphs"><tspan font-style="italic">P</tspan> &lt; 0.0001</text>
<polyline points="290.00,238.00 290.00,236.10 302.80,236.10 302.80,241.00" fill="none" stroke="#666666" stroke-width="0.6"/>
<text x="289.30" y="233.70" font-size="5.62" textLength="29.00" lengthAdjust="spacingAndGlyphs">P &lt; 0.0001</text>
<polyline points="274.30,226.00 274.30,221.10 302.40,221.10 302.40,226.00" fill="none" stroke="#666666" stroke-width="0.6"/>
<text x="271.80" y="219.00" font-size="5.62" textLength="29.00" lengthAdjust="spacingAndGlyphs"><tspan font-style="italic">P</tspan> &lt; 0.0001</text>
<polyline points="250.20,226.10 250.20,208.40 302.40,208.40 302.40,214.50" fill="none" stroke="#666666" stroke-width="0.6"/>
<text x="261.80" y="206.00" font-size="5.62" textLength="29.00" lengthAdjust="spacingAndGlyphs"><tspan font-style="italic">P</tspan> &lt; 0.0001</text>
<text x="520.60" y="172.20" font-size="12.8" fill="#000" font-weight="bold" stroke="#000" stroke-width="0.35">g</text>
<text x="537.60" y="172.20" font-size="9.75" textLength="66.50" lengthAdjust="spacingAndGlyphs">Primary NK cell</text>
<text x="537.60" y="183.50" font-size="9.75" textLength="103.60" lengthAdjust="spacingAndGlyphs">migration to 7α,25-OHC</text>
<rect x="554.10" y="198.80" width="8.30" height="7.60" fill="#fff" stroke="#777" stroke-width="0.6"/>
<text x="567.60" y="204.90" font-size="7.21" textLength="25.40" lengthAdjust="spacingAndGlyphs">Control</text>
<rect x="554.10" y="210.50" width="8.30" height="7.60" fill="#7f58a8" stroke="#4b2d70" stroke-width="0.5"/>
<text x="567.60" y="216.30" font-size="7.21" textLength="25.90" lengthAdjust="spacingAndGlyphs">GPR183</text>
<text x="593.80" y="212.80" font-size="4.66">OE</text>
<line x1="548.10" y1="219.00" x2="548.10" y2="323.50" stroke="#3a3a3a" stroke-width="0.6"/>
<line x1="545.10" y1="219.10" x2="548.10" y2="219.10" stroke="#3a3a3a" stroke-width="0.6"/>
<text x="543.00" y="221.10" font-size="5.94" text-anchor="end">2.5</text>
<line x1="545.10" y1="239.98" x2="548.10" y2="239.98" stroke="#3a3a3a" stroke-width="0.6"/>
<text x="543.00" y="241.98" font-size="5.94" text-anchor="end">2.0</text>
<line x1="545.10" y1="260.86" x2="548.10" y2="260.86" stroke="#3a3a3a" stroke-width="0.6"/>
<text x="543.00" y="262.86" font-size="5.94" text-anchor="end">1.5</text>
<line x1="545.10" y1="281.74" x2="548.10" y2="281.74" stroke="#3a3a3a" stroke-width="0.6"/>
<text x="543.00" y="283.74" font-size="5.94" text-anchor="end">1.0</text>
<line x1="545.10" y1="302.62" x2="548.10" y2="302.62" stroke="#3a3a3a" stroke-width="0.6"/>
<text x="543.00" y="304.62" font-size="5.94" text-anchor="end">0.5</text>
<line x1="545.10" y1="323.50" x2="548.10" y2="323.50" stroke="#3a3a3a" stroke-width="0.6"/>
<text x="543.00" y="325.50" font-size="5.94" text-anchor="end">0</text>
<line x1="545.10" y1="323.50" x2="651.20" y2="323.50" stroke="#3a3a3a" stroke-width="0.6"/>
<rect x="553.20" y="281.74" width="9.60" height="41.76" fill="#fff" stroke="#444" stroke-width="0.6"/>
<rect x="567.80" y="284.66" width="9.60" height="38.84" fill="#fff" stroke="#444" stroke-width="0.6"/>
<rect x="582.55" y="291.34" width="9.60" height="32.16" fill="#fff" stroke="#444" stroke-width="0.6"/>
<rect x="607.35" y="277.98" width="9.60" height="45.52" fill="#7f58a8" stroke="#4b2d70" stroke-width="0.6"/>
<rect x="622.25" y="243.32" width="9.60" height="80.18" fill="#7f58a8" stroke="#4b2d70" stroke-width="0.6"/>
<rect x="637.25" y="244.16" width="9.60" height="79.34" fill="#7f58a8" stroke="#4b2d70" stroke-width="0.6"/>
<line x1="558.00" y1="281.74" x2="558.00" y2="281.74" stroke="#666" stroke-width="0.6"/>
<line x1="556.20" y1="281.74" x2="559.80" y2="281.74" stroke="#666" stroke-width="0.6"/>
<circle cx="554.70" cy="281.90" r="1.80" fill="#000"/>
<circle cx="557.00" cy="281.90" r="1.80" fill="#000"/>
<circle cx="559.30" cy="281.90" r="1.80" fill="#000"/>
<circle cx="561.60" cy="281.90" r="1.80" fill="#000"/>
<line x1="558.00" y1="323.50" x2="558.00" y2="326.30" stroke="#3a3a3a" stroke-width="0.6"/>
<line x1="572.60" y1="284.66" x2="572.60" y2="282.58" stroke="#666" stroke-width="0.6"/>
<line x1="570.80" y1="282.58" x2="574.40" y2="282.58" stroke="#666" stroke-width="0.6"/>
<circle cx="572.50" cy="279.70" r="1.80" fill="#000"/>
<circle cx="569.50" cy="287.50" r="1.80" fill="#000"/>
<circle cx="575.50" cy="284.90" r="1.80" fill="#000"/>
<line x1="572.60" y1="323.50" x2="572.60" y2="326.30" stroke="#3a3a3a" stroke-width="0.6"/>
<line x1="587.35" y1="291.34" x2="587.35" y2="289.26" stroke="#666" stroke-width="0.6"/>
<line x1="585.55" y1="289.26" x2="589.15" y2="289.26" stroke="#666" stroke-width="0.6"/>
<circle cx="584.80" cy="287.80" r="1.80" fill="#000"/>
<circle cx="590.30" cy="288.80" r="1.80" fill="#000"/>
<circle cx="587.60" cy="296.20" r="1.80" fill="#000"/>
<line x1="587.35" y1="323.50" x2="587.35" y2="326.30" stroke="#3a3a3a" stroke-width="0.6"/>
<line x1="612.15" y1="277.98" x2="612.15" y2="276.73" stroke="#666" stroke-width="0.6"/>
<line x1="610.35" y1="276.73" x2="613.95" y2="276.73" stroke="#666" stroke-width="0.6"/>
<circle cx="609.20" cy="275.40" r="1.80" fill="#000"/>
<circle cx="615.30" cy="277.10" r="1.80" fill="#000"/>
<circle cx="609.20" cy="281.20" r="1.80" fill="#000"/>
<line x1="612.15" y1="323.50" x2="612.15" y2="326.30" stroke="#3a3a3a" stroke-width="0.6"/>
<line x1="627.05" y1="243.32" x2="627.05" y2="239.98" stroke="#666" stroke-width="0.6"/>
<line x1="625.25" y1="239.98" x2="628.85" y2="239.98" stroke="#666" stroke-width="0.6"/>
<circle cx="627.05" cy="236.40" r="1.80" fill="#000"/>
<circle cx="627.05" cy="240.00" r="1.80" fill="#000"/>
<circle cx="627.05" cy="251.60" r="1.80" fill="#000"/>
<line x1="627.05" y1="323.50" x2="627.05" y2="326.30" stroke="#3a3a3a" stroke-width="0.6"/>
<line x1="642.05" y1="244.16" x2="642.05" y2="240.82" stroke="#666" stroke-width="0.6"/>
<line x1="640.25" y1="240.82" x2="643.85" y2="240.82" stroke="#666" stroke-width="0.6"/>
<circle cx="639.20" cy="238.40" r="1.80" fill="#000"/>
<circle cx="645.00" cy="238.40" r="1.80" fill="#000"/>
<circle cx="641.80" cy="254.20" r="1.80" fill="#000"/>
<line x1="642.05" y1="323.50" x2="642.05" y2="326.30" stroke="#3a3a3a" stroke-width="0.6"/>
<text x="558.00" y="336.30" font-size="6.57" text-anchor="middle">0</text>
<text x="572.60" y="336.30" font-size="6.57" text-anchor="middle">10</text>
<text x="587.35" y="336.30" font-size="6.57" text-anchor="middle">100</text>
<text x="612.15" y="336.30" font-size="6.57" text-anchor="middle">0</text>
<text x="627.05" y="336.30" font-size="6.57" text-anchor="middle">10</text>
<text x="642.05" y="336.30" font-size="6.57" text-anchor="middle">100</text>
<text x="572.70" y="346.20" font-size="7.21" textLength="54.40" lengthAdjust="spacingAndGlyphs">7α,25-OHC (nM)</text>
<text x="527.00" y="271.30" font-size="7.21" text-anchor="middle" textLength="42.20" lengthAdjust="spacingAndGlyphs" transform="rotate(-90 527.00 271.30)">Fold change</text>
<polyline points="612.30,271.30 612.30,224.40 627.20,224.40 627.20,233.80" fill="none" stroke="#666666" stroke-width="0.6"/>
<text x="605.90" y="221.80" font-size="5.62" textLength="29.00" lengthAdjust="spacingAndGlyphs"><tspan font-style="italic">P</tspan> &lt; 0.0001</text>
<polyline points="612.30,213.70 612.30,207.00 641.80,207.00 641.80,235.10" fill="none" stroke="#666666" stroke-width="0.6"/>
<text x="612.50" y="204.40" font-size="5.62" textLength="29.00" lengthAdjust="spacingAndGlyphs"><tspan font-style="italic">P</tspan> &lt; 0.0001</text>
<text x="0.60" y="386.80" font-size="12.8" fill="#000" font-weight="bold" stroke="#000" stroke-width="0.35">h</text>
<text x="17.40" y="386.80" font-size="9.75" textLength="109.30" lengthAdjust="spacingAndGlyphs">Primary NK cell migration</text>
<text x="17.40" y="397.10" font-size="9.75" textLength="64.60" lengthAdjust="spacingAndGlyphs">to tissue lysate</text>
<rect x="0.30" y="409.50" width="7.30" height="7.60" fill="#fff" stroke="#777" stroke-width="0.6"/>
<text x="13.00" y="415.50" font-size="7.21" textLength="41.60" lengthAdjust="spacingAndGlyphs">Control pNK</text>
<rect x="0.30" y="421.20" width="7.30" height="7.60" fill="#7f58a8" stroke="#4b2d70" stroke-width="0.5"/>
<text x="13.00" y="426.90" font-size="7.21" textLength="25.60" lengthAdjust="spacingAndGlyphs">GPR183</text>
<text x="39.00" y="423.20" font-size="4.66">OE</text>
<text x="47.00" y="426.90" font-size="7.21" textLength="14.20" lengthAdjust="spacingAndGlyphs">pNK</text>
<line x1="28.10" y1="439.30" x2="28.10" y2="541.60" stroke="#3a3a3a" stroke-width="0.6"/>
<line x1="25.10" y1="439.51" x2="28.10" y2="439.51" stroke="#3a3a3a" stroke-width="0.6"/>
<text x="22.00" y="441.51" font-size="6.36" text-anchor="end">3</text>
<line x1="25.10" y1="473.54" x2="28.10" y2="473.54" stroke="#3a3a3a" stroke-width="0.6"/>
<text x="22.00" y="475.54" font-size="6.36" text-anchor="end">2</text>
<line x1="25.10" y1="507.57" x2="28.10" y2="507.57" stroke="#3a3a3a" stroke-width="0.6"/>
<text x="22.00" y="509.57" font-size="6.36" text-anchor="end">1</text>
<line x1="25.10" y1="541.60" x2="28.10" y2="541.60" stroke="#3a3a3a" stroke-width="0.6"/>
<text x="22.00" y="543.60" font-size="6.36" text-anchor="end">0</text>
<line x1="25.10" y1="541.60" x2="130.50" y2="541.60" stroke="#3a3a3a" stroke-width="0.6"/>
<rect x="33.35" y="506.55" width="9.40" height="35.05" fill="#fff" stroke="#444" stroke-width="0.6"/>
<rect x="48.00" y="528.33" width="9.40" height="13.27" fill="#fff" stroke="#c8c8c8" stroke-width="0.7"/>
<rect x="62.70" y="517.44" width="9.40" height="24.16" fill="#fff" stroke="#c8c8c8" stroke-width="0.7"/>
<rect x="87.25" y="507.57" width="9.40" height="34.03" fill="#7f58a8" stroke="#4b2d70" stroke-width="0.5"/>
<rect x="101.80" y="511.31" width="9.40" height="30.29" fill="#7f58a8" stroke="#4b2d70" stroke-width="0.5"/>
<rect x="116.50" y="489.19" width="9.40" height="52.41" fill="#7f58a8" stroke="#4b2d70" stroke-width="0.5"/>
<line x1="38.05" y1="506.55" x2="38.05" y2="504.17" stroke="#222" stroke-width="0.6"/>
<line x1="36.05" y1="504.17" x2="40.05" y2="504.17" stroke="#222" stroke-width="0.6"/>
<circle cx="35.40" cy="500.10" r="1.75" fill="#000"/>
<circle cx="40.60" cy="500.10" r="1.75" fill="#000"/>
<circle cx="35.40" cy="508.90" r="1.75" fill="#000"/>
<circle cx="40.60" cy="508.90" r="1.75" fill="#000"/>
<circle cx="35.40" cy="514.50" r="1.75" fill="#000"/>
<circle cx="40.60" cy="514.50" r="1.75" fill="#000"/>
<line x1="38.05" y1="541.60" x2="38.05" y2="544.40" stroke="#3a3a3a" stroke-width="0.6"/>
<line x1="52.70" y1="528.33" x2="52.70" y2="527.99" stroke="#222" stroke-width="0.6"/>
<line x1="50.70" y1="527.99" x2="54.70" y2="527.99" stroke="#222" stroke-width="0.6"/>
<circle cx="49.50" cy="528.50" r="1.75" fill="#000"/>
<circle cx="51.50" cy="527.00" r="1.75" fill="#000"/>
<circle cx="53.50" cy="526.80" r="1.75" fill="#000"/>
<circle cx="55.00" cy="528.80" r="1.75" fill="#000"/>
<circle cx="52.00" cy="530.00" r="1.75" fill="#000"/>
<circle cx="54.50" cy="531.00" r="1.75" fill="#000"/>
<line x1="52.70" y1="541.60" x2="52.70" y2="544.40" stroke="#3a3a3a" stroke-width="0.6"/>
<line x1="67.40" y1="517.44" x2="67.40" y2="516.42" stroke="#222" stroke-width="0.6"/>
<line x1="65.40" y1="516.42" x2="69.40" y2="516.42" stroke="#222" stroke-width="0.6"/>
<circle cx="63.80" cy="517.00" r="1.75" fill="#000"/>
<circle cx="65.50" cy="516.00" r="1.75" fill="#000"/>
<circle cx="67.50" cy="516.20" r="1.75" fill="#000"/>
<circle cx="69.50" cy="517.50" r="1.75" fill="#000"/>
<circle cx="71.00" cy="518.00" r="1.75" fill="#000"/>
<circle cx="65.50" cy="519.50" r="1.75" fill="#000"/>
<circle cx="68.50" cy="519.80" r="1.75" fill="#000"/>
<line x1="67.40" y1="541.60" x2="67.40" y2="544.40" stroke="#3a3a3a" stroke-width="0.6"/>
<line x1="91.95" y1="507.57" x2="91.95" y2="506.55" stroke="#222" stroke-width="0.6"/>
<line x1="89.95" y1="506.55" x2="93.95" y2="506.55" stroke="#222" stroke-width="0.6"/>
<circle cx="89.00" cy="506.00" r="1.75" fill="#000"/>
<circle cx="91.00" cy="504.50" r="1.75" fill="#000"/>
<circle cx="93.00" cy="505.00" r="1.75" fill="#000"/>
<circle cx="95.00" cy="506.50" r="1.75" fill="#000"/>
<circle cx="90.00" cy="508.50" r="1.75" fill="#000"/>
<circle cx="92.50" cy="508.50" r="1.75" fill="#000"/>
<circle cx="94.50" cy="509.00" r="1.75" fill="#000"/>
<line x1="91.95" y1="541.60" x2="91.95" y2="544.40" stroke="#3a3a3a" stroke-width="0.6"/>
<line x1="106.50" y1="511.31" x2="106.50" y2="508.59" stroke="#222" stroke-width="0.6"/>
<line x1="104.50" y1="508.59" x2="108.50" y2="508.59" stroke="#222" stroke-width="0.6"/>
<circle cx="108.60" cy="502.50" r="1.75" fill="#000"/>
<circle cx="106.50" cy="504.80" r="1.75" fill="#000"/>
<circle cx="103.50" cy="514.50" r="1.75" fill="#000"/>
<circle cx="106.00" cy="516.00" r="1.75" fill="#000"/>
<circle cx="109.00" cy="515.00" r="1.75" fill="#000"/>
<circle cx="104.00" cy="517.50" r="1.75" fill="#000"/>
<line x1="106.50" y1="541.60" x2="106.50" y2="544.40" stroke="#3a3a3a" stroke-width="0.6"/>
<line x1="121.20" y1="489.19" x2="121.20" y2="482.39" stroke="#222" stroke-width="0.6"/>
<line x1="119.20" y1="482.39" x2="123.20" y2="482.39" stroke="#222" stroke-width="0.6"/>
<circle cx="121.10" cy="457.60" r="1.75" fill="#000"/>
<circle cx="118.50" cy="494.50" r="1.75" fill="#000"/>
<circle cx="121.00" cy="496.00" r="1.75" fill="#000"/>
<circle cx="123.50" cy="496.50" r="1.75" fill="#000"/>
<circle cx="119.50" cy="497.00" r="1.75" fill="#000"/>
<line x1="121.20" y1="541.60" x2="121.20" y2="544.40" stroke="#3a3a3a" stroke-width="0.6"/>
<text x="41.25" y="550.00" font-size="6.47" text-anchor="end" transform="rotate(-45 41.25 550.00)">Media</text>
<text x="55.90" y="550.00" font-size="6.47" text-anchor="end" transform="rotate(-45 55.90 550.00)">Lung</text>
<text x="70.60" y="550.00" font-size="6.47" text-anchor="end" transform="rotate(-45 70.60 550.00)">Tumor</text>
<text x="95.15" y="550.00" font-size="6.47" text-anchor="end" transform="rotate(-45 95.15 550.00)">Media</text>
<text x="109.70" y="550.00" font-size="6.47" text-anchor="end" transform="rotate(-45 109.70 550.00)">Lung</text>
<text x="124.40" y="550.00" font-size="6.47" text-anchor="end" transform="rotate(-45 124.40 550.00)">Tumor</text>
<text x="57.70" y="573.00" font-size="7.21" textLength="43.90" lengthAdjust="spacingAndGlyphs">Tissue lysate</text>
<text x="11.00" y="490.80" font-size="7.21" text-anchor="middle" textLength="41.40" lengthAdjust="spacingAndGlyphs" transform="rotate(-90 11.00 490.80)">Fold change</text>
<polyline points="38.00,491.50 38.00,488.20 52.50,488.20 52.50,495.70" fill="none" stroke="#666666" stroke-width="0.6"/>
<text x="30.20" y="485.70" font-size="5.62" textLength="29.00" lengthAdjust="spacingAndGlyphs"><tspan font-style="italic">P</tspan> &lt; 0.0001</text>
<polyline points="52.50,521.60 52.50,504.50 67.10,504.50 67.10,514.00" fill="none" stroke="#666666" stroke-width="0.6"/>
<text x="46.75" y="502.00" font-size="5.62" textLength="29.50" lengthAdjust="spacingAndGlyphs"><tspan font-style="italic">P</tspan> = 0.0451</text>
<polyline points="54.70,477.70 54.70,471.50 106.20,471.50 106.20,502.80" fill="none" stroke="#666666" stroke-width="0.6"/>
<text x="57.35" y="469.20" font-size="5.62" textLength="29.50" lengthAdjust="spacingAndGlyphs"><tspan font-style="italic">P</tspan> = 0.0003</text>
<polyline points="106.40,465.60 106.40,446.50 121.10,446.50 121.10,450.90" fill="none" stroke="#666666" stroke-width="0.6"/>
<text x="97.70" y="444.70" font-size="5.62" textLength="29.00" lengthAdjust="spacingAndGlyphs"><tspan font-style="italic">P</tspan> &lt; 0.0001</text>
<polyline points="91.50,468.30 91.50,430.80 121.10,430.80 121.10,436.50" fill="none" stroke="#666666" stroke-width="0.6"/>
<text x="91.20" y="428.70" font-size="5.62" textLength="30.00" lengthAdjust="spacingAndGlyphs"><tspan font-style="italic">P</tspan> = 0.0005</text>
<polyline points="67.10,460.50 67.10,412.10 121.10,412.10 121.10,423.80" fill="none" stroke="#666666" stroke-width="0.6"/>
<text x="78.00" y="410.40" font-size="5.62" textLength="29.00" lengthAdjust="spacingAndGlyphs"><tspan font-style="italic">P</tspan> &lt; 0.0001</text>
<text x="355.00" y="172.20" font-size="12.8" fill="#000" font-weight="bold" stroke="#000" stroke-width="0.35">f</text>
<text x="369.00" y="172.20" font-size="9.75" textLength="98.50" lengthAdjust="spacingAndGlyphs">Primary NK cell editing</text>
<text x="369.00" y="183.50" font-size="9.75" textLength="82.50" lengthAdjust="spacingAndGlyphs">gated on mCherry</text>
<text x="451.80" y="179.00" font-size="6.36">+</text>
<rect x="403.30" y="190.30" width="7.30" height="7.30" fill="#fff" stroke="#777" stroke-width="0.6"/>
<text x="415.80" y="195.60" font-size="7.21" textLength="42.00" lengthAdjust="spacingAndGlyphs">Control pNK</text>
<rect x="403.30" y="201.40" width="7.30" height="7.30" fill="#8d6bb1" stroke="#4b2d70" stroke-width="0.5"/>
<text x="415.80" y="207.30" font-size="7.21" textLength="25.70" lengthAdjust="spacingAndGlyphs">GPR183</text>
<text x="441.90" y="203.70" font-size="4.66">OE</text>
<text x="449.90" y="207.30" font-size="7.21" textLength="14.40" lengthAdjust="spacingAndGlyphs">pNK</text>
<rect x="381.00" y="213.20" width="110.40" height="109.60" fill="none" stroke="#555" stroke-width="0.6"/>
<line x1="378.00" y1="322.60" x2="381.00" y2="322.60" stroke="#3a3a3a" stroke-width="0.6"/>
<text x="376.40" y="324.60" font-size="5.94" text-anchor="end">0</text>
<line x1="378.00" y1="301.74" x2="381.00" y2="301.74" stroke="#3a3a3a" stroke-width="0.6"/>
<text x="376.40" y="303.74" font-size="5.94" text-anchor="end">20</text>
<line x1="378.00" y1="280.88" x2="381.00" y2="280.88" stroke="#3a3a3a" stroke-width="0.6"/>
<text x="376.40" y="282.88" font-size="5.94" text-anchor="end">40</text>
<line x1="378.00" y1="260.02" x2="381.00" y2="260.02" stroke="#3a3a3a" stroke-width="0.6"/>
<text x="376.40" y="262.02" font-size="5.94" text-anchor="end">60</text>
<line x1="378.00" y1="239.16" x2="381.00" y2="239.16" stroke="#3a3a3a" stroke-width="0.6"/>
<text x="376.40" y="241.16" font-size="5.94" text-anchor="end">80</text>
<line x1="378.00" y1="218.30" x2="381.00" y2="218.30" stroke="#3a3a3a" stroke-width="0.6"/>
<text x="376.40" y="220.30" font-size="5.94" text-anchor="end">100</text>
<line x1="379.60" y1="322.60" x2="381.00" y2="322.60" stroke="#3a3a3a" stroke-width="0.4"/>
<line x1="379.60" y1="317.39" x2="381.00" y2="317.39" stroke="#3a3a3a" stroke-width="0.4"/>
<line x1="379.60" y1="312.17" x2="381.00" y2="312.17" stroke="#3a3a3a" stroke-width="0.4"/>
<line x1="379.60" y1="306.96" x2="381.00" y2="306.96" stroke="#3a3a3a" stroke-width="0.4"/>
<line x1="379.60" y1="301.74" x2="381.00" y2="301.74" stroke="#3a3a3a" stroke-width="0.4"/>
<line x1="379.60" y1="296.53" x2="381.00" y2="296.53" stroke="#3a3a3a" stroke-width="0.4"/>
<line x1="379.60" y1="291.31" x2="381.00" y2="291.31" stroke="#3a3a3a" stroke-width="0.4"/>
<line x1="379.60" y1="286.10" x2="381.00" y2="286.10" stroke="#3a3a3a" stroke-width="0.4"/>
<line x1="379.60" y1="280.88" x2="381.00" y2="280.88" stroke="#3a3a3a" stroke-width="0.4"/>
<line x1="379.60" y1="275.67" x2="381.00" y2="275.67" stroke="#3a3a3a" stroke-width="0.4"/>
<line x1="379.60" y1="270.45" x2="381.00" y2="270.45" stroke="#3a3a3a" stroke-width="0.4"/>
<line x1="379.60" y1="265.24" x2="381.00" y2="265.24" stroke="#3a3a3a" stroke-width="0.4"/>
<line x1="379.60" y1="260.02" x2="381.00" y2="260.02" stroke="#3a3a3a" stroke-width="0.4"/>
<line x1="379.60" y1="254.81" x2="381.00" y2="254.81" stroke="#3a3a3a" stroke-width="0.4"/>
<line x1="379.60" y1="249.59" x2="381.00" y2="249.59" stroke="#3a3a3a" stroke-width="0.4"/>
<line x1="379.60" y1="244.38" x2="381.00" y2="244.38" stroke="#3a3a3a" stroke-width="0.4"/>
<line x1="379.60" y1="239.16" x2="381.00" y2="239.16" stroke="#3a3a3a" stroke-width="0.4"/>
<line x1="379.60" y1="233.95" x2="381.00" y2="233.95" stroke="#3a3a3a" stroke-width="0.4"/>
<line x1="379.60" y1="228.73" x2="381.00" y2="228.73" stroke="#3a3a3a" stroke-width="0.4"/>
<line x1="379.60" y1="223.52" x2="381.00" y2="223.52" stroke="#3a3a3a" stroke-width="0.4"/>
<line x1="379.60" y1="218.30" x2="381.00" y2="218.30" stroke="#3a3a3a" stroke-width="0.4"/>
<line x1="386.00" y1="322.80" x2="386.00" y2="324.00" stroke="#3a3a3a" stroke-width="0.5"/>
<line x1="390.00" y1="322.80" x2="390.00" y2="324.00" stroke="#3a3a3a" stroke-width="0.5"/>
<line x1="397.20" y1="322.80" x2="397.20" y2="324.80" stroke="#3a3a3a" stroke-width="0.5"/>
<line x1="404.00" y1="322.80" x2="404.00" y2="324.00" stroke="#3a3a3a" stroke-width="0.5"/>
<line x1="410.00" y1="322.80" x2="410.00" y2="324.00" stroke="#3a3a3a" stroke-width="0.5"/>
<line x1="416.00" y1="322.80" x2="416.00" y2="324.00" stroke="#3a3a3a" stroke-width="0.5"/>
<line x1="421.00" y1="322.80" x2="421.00" y2="324.00" stroke="#3a3a3a" stroke-width="0.5"/>
<line x1="426.00" y1="322.80" x2="426.00" y2="324.00" stroke="#3a3a3a" stroke-width="0.5"/>
<line x1="429.00" y1="322.80" x2="429.00" y2="324.00" stroke="#3a3a3a" stroke-width="0.5"/>
<line x1="431.00" y1="322.80" x2="431.00" y2="324.00" stroke="#3a3a3a" stroke-width="0.5"/>
<line x1="434.80" y1="322.80" x2="434.80" y2="324.80" stroke="#3a3a3a" stroke-width="0.5"/>
<line x1="444.00" y1="322.80" x2="444.00" y2="324.00" stroke="#3a3a3a" stroke-width="0.5"/>
<line x1="449.00" y1="322.80" x2="449.00" y2="324.00" stroke="#3a3a3a" stroke-width="0.5"/>
<line x1="452.00" y1="322.80" x2="452.00" y2="324.00" stroke="#3a3a3a" stroke-width="0.5"/>
<line x1="455.30" y1="322.80" x2="455.30" y2="324.80" stroke="#3a3a3a" stroke-width="0.5"/>
<line x1="464.00" y1="322.80" x2="464.00" y2="324.00" stroke="#3a3a3a" stroke-width="0.5"/>
<line x1="469.00" y1="322.80" x2="469.00" y2="324.00" stroke="#3a3a3a" stroke-width="0.5"/>
<line x1="472.00" y1="322.80" x2="472.00" y2="324.00" stroke="#3a3a3a" stroke-width="0.5"/>
<line x1="475.40" y1="322.80" x2="475.40" y2="324.80" stroke="#3a3a3a" stroke-width="0.5"/>
<line x1="484.00" y1="322.80" x2="484.00" y2="324.00" stroke="#3a3a3a" stroke-width="0.5"/>
<line x1="488.00" y1="322.80" x2="488.00" y2="324.00" stroke="#3a3a3a" stroke-width="0.5"/>
<path d="M396.0,325.5 L398.4,325.5 L397.2,327.3 Z" fill="#111"/>
<text x="397.20" y="333.60" font-size="6.36" text-anchor="middle">0</text>
<text x="433.80" y="333.60" font-size="6.36" text-anchor="middle">10</text>
<text x="437.40" y="330.20" font-size="4.13">5</text>
<text x="454.30" y="333.60" font-size="6.36" text-anchor="middle">10</text>
<text x="457.90" y="330.20" font-size="4.13">6</text>
<text x="474.40" y="333.60" font-size="6.36" text-anchor="middle">10</text>
<text x="478.00" y="330.20" font-size="4.13">7</text>
<path d="M410.1,322.8 L416.1,319.4 L419.1,310.3 L421.1,298.3 L422.6,284.3 L425.2,280.2 L427.2,264.2 L429.8,253.1 L431.8,244.1 L433.2,240.1 L434.8,249.1 L436.2,258.2 L438.2,260.2 L440.2,270.2 L442.2,286.3 L444.2,294.3 L447.2,300.3 L449.2,310.3 L454.3,316.4 L460.3,320.0 L465.3,320.4 L468.3,320.0 L471.3,321.4 L479.3,322.6 Z" fill="#8d6bb1"/>
<polyline points="382.00,322.40 387.00,318.40 391.00,310.30 395.10,296.30 399.10,276.20 403.10,248.10 407.10,232.10 410.10,222.40 412.10,230.10 414.50,238.10 417.10,268.20 419.10,290.30 421.10,306.30 426.20,314.40 432.20,319.40 440.20,320.40 444.20,322.40" fill="none" stroke="#111" stroke-width="0.6"/>
<line x1="358.80" y1="298.00" x2="358.80" y2="216.10" stroke="#3f5070" stroke-width="0.7"/>
<path d="M358.80,213.60 L360.20,216.60 L357.40,216.60 Z" fill="#3f5070"/>
<text x="361.00" y="312.80" font-size="7.0" text-anchor="middle" textLength="18.50" lengthAdjust="spacingAndGlyphs" transform="rotate(-90 361.00 312.80)">Count</text>
<text x="382.10" y="342.90" font-size="7.0" textLength="29.30" lengthAdjust="spacingAndGlyphs">hGPR183</text>
<line x1="415.70" y1="341.00" x2="488.30" y2="341.00" stroke="#3f5070" stroke-width="0.7"/>
<path d="M490.80,341.00 L487.80,342.40 L487.80,339.60 Z" fill="#3f5070"/>
<text x="150.00" y="386.50" font-size="12.8" fill="#000" font-weight="bold" stroke="#000" stroke-width="0.35">i</text>
<text x="163.40" y="386.60" font-size="9.75" textLength="158.40" lengthAdjust="spacingAndGlyphs">NK-92 in vivo co-transfer experiment</text>
<text x="158.00" y="417.10" font-size="7.0" textLength="28.50" lengthAdjust="spacingAndGlyphs">Control-</text>
<text x="165.40" y="425.20" font-size="7.0" textLength="14.40" lengthAdjust="spacingAndGlyphs">GFP</text>
<text x="193.20" y="417.10" font-size="7.0" textLength="29.10" lengthAdjust="spacingAndGlyphs">GPR183-</text>
<text x="193.20" y="425.20" font-size="7.0" textLength="29.10" lengthAdjust="spacingAndGlyphs">mCherry</text>
<defs><radialGradient id="gg" cx="0.45" cy="0.4" r="0.6"><stop offset="0" stop-color="#8fd052"/><stop offset="0.75" stop-color="#77bf3e"/><stop offset="1" stop-color="#5ea52c"/></radialGradient><radialGradient id="rg" cx="0.45" cy="0.4" r="0.6"><stop offset="0" stop-color="#f43a3a"/><stop offset="0.75" stop-color="#e4222a"/><stop offset="1" stop-color="#c8141c"/></radialGradient></defs>
<circle cx="173.40" cy="433.00" r="3.90" fill="url(#gg)"/>
<circle cx="179.60" cy="433.40" r="3.90" fill="url(#gg)"/>
<circle cx="175.90" cy="438.10" r="3.90" fill="url(#gg)"/>
<circle cx="199.30" cy="433.00" r="3.90" fill="url(#rg)"/>
<circle cx="205.90" cy="433.60" r="3.90" fill="url(#rg)"/>
<circle cx="201.90" cy="438.60" r="3.90" fill="url(#rg)"/>
<line x1="185.10" y1="436.00" x2="193.80" y2="436.00" stroke="#4a5a78" stroke-width="0.9"/>
<line x1="189.60" y1="436.00" x2="189.60" y2="444.70" stroke="#4a5a78" stroke-width="0.9"/>
<circle cx="189.60" cy="453.50" r="3.90" fill="url(#gg)"/>
<circle cx="184.30" cy="450.20" r="3.90" fill="url(#gg)"/>
<circle cx="194.90" cy="450.50" r="3.90" fill="url(#gg)"/>
<circle cx="184.30" cy="456.40" r="3.90" fill="url(#rg)"/>
<circle cx="195.70" cy="457.10" r="3.90" fill="url(#rg)"/>
<circle cx="189.80" cy="449.50" r="3.90" fill="url(#rg)"/>
<circle cx="189.50" cy="458.20" r="3.90" fill="url(#gg)"/>
<text x="155.00" y="455.60" font-size="7.0" textLength="21.40" lengthAdjust="spacingAndGlyphs">1:1 Mix</text>
<line x1="189.30" y1="464.20" x2="189.30" y2="474.70" stroke="#4a5a78" stroke-width="0.8"/>
<path d="M189.30,477.00 L188.00,474.20 L190.60,474.20 Z" fill="#4a5a78"/>
<text x="152.00" y="479.20" font-size="7.0" textLength="34.00" lengthAdjust="spacingAndGlyphs">NSG mice</text>
<path d="M181,488.5 C177,489 172.5,490 173.5,492.5 C174.5,495 181,494.5 190,493.2" fill="none" stroke="#e29a9a" stroke-width="0.9"/>
<path d="M178.3,488 C177.5,484 181,481 187,480.8 C192,480.5 196,480.2 199,481.5 C201,482.3 203,483 203.3,483.9 C202,485 200,485.5 198.5,486.5 C197,488.5 195,490 192,490.5 C187,491.2 181,491 178.3,488 Z" fill="#f1ebe3" stroke="#d8cbbd" stroke-width="0.4"/>
<path d="M178.6,487.5 C179,484.5 181.5,482.5 184,482 C182.5,484.5 182.5,487.5 184.5,490.6 C181.5,490.6 179.5,489.5 178.6,487.5 Z" fill="#ddd2c0"/>
<circle cx="195.30" cy="482.20" r="1.20" fill="#eaa8a8"/>
<circle cx="199.50" cy="483.20" r="0.45" fill="#c04040"/>
<path d="M196,490 L199.5,491.2 M182,490 L181,491.8" fill="none" stroke="#e29a9a" stroke-width="0.8"/>
<circle cx="188.00" cy="487.20" r="3.30" fill="#e58a88" fill-opacity="0.75"/>
<circle cx="188.00" cy="487.00" r="1.60" fill="#3a0a0c"/>
<line x1="188.00" y1="488.00" x2="175.50" y2="500.30" stroke="#222" stroke-width="0.5"/>
<text x="150.90" y="508.20" font-size="7.0" textLength="42.30" lengthAdjust="spacingAndGlyphs">MDA-MB-231</text>
<line x1="235.60" y1="499.30" x2="235.60" y2="420.80" stroke="#4a5a78" stroke-width="0.7"/>
<path d="M235.60,418.30 L237.00,421.30 L234.20,421.30 Z" fill="#4a5a78"/>
<text x="237.60" y="524.40" font-size="7.21" text-anchor="middle" fill="#2aa576" textLength="43.40" lengthAdjust="spacingAndGlyphs" transform="rotate(-90 237.60 524.40)">Control-GFP</text>
<text x="255.40" y="564.70" font-size="7.21" fill="#e8413c" textLength="59.30" lengthAdjust="spacingAndGlyphs">GPR183-mCherry</text>
<line x1="319.80" y1="562.70" x2="371.00" y2="562.70" stroke="#4a5a78" stroke-width="0.7"/>
<path d="M373.50,562.70 L370.50,564.10 L370.50,561.30 Z" fill="#4a5a78"/>
<text x="283.90" y="415.70" font-size="7.42" text-anchor="middle" textLength="21.30" lengthAdjust="spacingAndGlyphs">1:1 Mix</text>
<rect x="255.40" y="419.40" width="57.50" height="57.10" fill="none" stroke="#777" stroke-width="0.8"/>
<circle cx="272.58" cy="454.01" r="0.25" fill="#555"/>
<circle cx="272.10" cy="449.78" r="0.25" fill="#555"/>
<circle cx="281.40" cy="421.99" r="0.25" fill="#555"/>
<circle cx="262.87" cy="418.04" r="0.25" fill="#555"/>
<circle cx="279.01" cy="441.37" r="0.25" fill="#555"/>
<circle cx="259.20" cy="450.50" r="0.25" fill="#555"/>
<circle cx="271.34" cy="436.74" r="0.25" fill="#555"/>
<circle cx="271.11" cy="447.33" r="0.25" fill="#555"/>
<circle cx="282.10" cy="439.66" r="0.25" fill="#555"/>
<circle cx="272.90" cy="439.43" r="0.25" fill="#555"/>
<circle cx="268.06" cy="440.22" r="0.25" fill="#555"/>
<circle cx="284.08" cy="439.39" r="0.25" fill="#555"/>
<circle cx="285.99" cy="432.41" r="0.25" fill="#555"/>
<circle cx="267.44" cy="457.02" r="0.25" fill="#555"/>
<circle cx="278.58" cy="446.98" r="0.25" fill="#555"/>
<circle cx="269.39" cy="430.95" r="0.25" fill="#555"/>
<circle cx="274.31" cy="433.91" r="0.25" fill="#555"/>
<circle cx="275.07" cy="425.70" r="0.25" fill="#555"/>
<circle cx="262.71" cy="442.21" r="0.25" fill="#555"/>
<circle cx="273.52" cy="421.52" r="0.25" fill="#555"/>
<circle cx="264.44" cy="433.38" r="0.25" fill="#555"/>
<circle cx="265.02" cy="445.11" r="0.25" fill="#555"/>
<circle cx="269.31" cy="443.08" r="0.25" fill="#555"/>
<circle cx="257.00" cy="443.22" r="0.25" fill="#555"/>
<circle cx="261.09" cy="424.19" r="0.25" fill="#555"/>
<circle cx="274.87" cy="445.29" r="0.25" fill="#555"/>
<circle cx="278.19" cy="435.54" r="0.25" fill="#555"/>
<circle cx="279.87" cy="451.37" r="0.25" fill="#555"/>
<circle cx="269.26" cy="434.00" r="0.25" fill="#555"/>
<circle cx="278.62" cy="455.22" r="0.25" fill="#555"/>
<g>
<path d="M280.69,437.00 L280.86,438.87 L280.99,440.91 L280.79,443.05 L280.05,444.96 L278.82,446.33 L277.33,447.08 L275.82,447.42 L274.39,447.62 L273.00,447.79 L271.59,447.79 L270.18,447.42 L268.89,446.58 L267.75,445.42 L266.72,444.09 L265.71,442.66 L264.76,441.04 L264.07,439.12 L263.89,437.00 L264.32,434.94 L265.21,433.18 L266.24,431.75 L267.18,430.43 L268.02,429.02 L268.93,427.51 L270.07,426.19 L271.48,425.37 L273.00,425.19 L274.50,425.54 L275.93,426.18 L277.29,427.01 L278.55,428.10 L279.59,429.56 L280.26,431.36 L280.54,433.31 L280.61,435.19 L280.69,437.00Z" fill="none" stroke="#000" stroke-width="0.6" stroke-opacity="0.9"/>
<path d="M280.66,437.00 L280.28,438.73 L279.86,440.36 L279.50,442.05 L279.10,443.88 L278.43,445.70 L277.35,447.15 L275.95,447.90 L274.43,447.94 L273.00,447.52 L271.69,446.97 L270.44,446.46 L269.19,445.88 L268.00,445.02 L266.99,443.79 L266.23,442.26 L265.65,440.60 L265.18,438.86 L264.79,437.00 L264.64,435.02 L264.94,433.05 L265.75,431.37 L266.94,430.16 L268.22,429.34 L269.42,428.65 L270.52,427.84 L271.68,426.91 L273.00,426.16 L274.45,425.94 L275.87,426.39 L277.13,427.38 L278.20,428.66 L279.15,430.06 L279.97,431.58 L280.57,433.29 L280.81,435.15 L280.66,437.00Z" fill="none" stroke="#000" stroke-width="0.6" stroke-opacity="0.9"/>
<path d="M281.12,437.00 L280.85,438.86 L280.20,440.53 L279.41,441.98 L278.58,443.30 L277.70,444.53 L276.67,445.56 L275.50,446.24 L274.25,446.52 L273.00,446.55 L271.75,446.52 L270.44,446.45 L269.06,446.17 L267.76,445.41 L266.75,444.05 L266.21,442.28 L266.08,440.39 L266.14,438.63 L266.17,437.00 L266.13,435.37 L266.15,433.65 L266.46,431.92 L267.13,430.37 L268.08,429.12 L269.20,428.14 L270.39,427.34 L271.65,426.71 L273.00,426.44 L274.35,426.71 L275.56,427.55 L276.54,428.75 L277.37,430.00 L278.21,431.12 L279.16,432.22 L280.13,433.51 L280.86,435.13 L281.12,437.00Z" fill="none" stroke="#000" stroke-width="0.6" stroke-opacity="0.9"/>
<path d="M280.61,437.00 L280.33,438.74 L279.72,440.29 L278.99,441.65 L278.24,442.91 L277.41,444.08 L276.45,445.03 L275.34,445.65 L274.17,445.90 L273.00,445.95 L271.83,445.96 L270.58,445.94 L269.28,445.66 L268.07,444.91 L267.16,443.59 L266.68,441.91 L266.57,440.15 L266.60,438.52 L266.58,437.00 L266.51,435.46 L266.54,433.84 L266.84,432.22 L267.49,430.78 L268.40,429.62 L269.43,428.69 L270.54,427.91 L271.73,427.32 L273.00,427.08 L274.26,427.38 L275.38,428.20 L276.30,429.32 L277.08,430.45 L277.90,431.46 L278.83,432.47 L279.75,433.70 L280.41,435.24 L280.61,437.00Z" fill="none" stroke="#000" stroke-width="0.6" stroke-opacity="0.9"/>
<path d="M278.98,437.00 L279.07,438.44 L279.16,440.02 L279.02,441.68 L278.49,443.20 L277.57,444.32 L276.41,444.94 L275.22,445.19 L274.09,445.30 L273.00,445.39 L271.90,445.39 L270.80,445.12 L269.79,444.49 L268.90,443.58 L268.11,442.52 L267.35,441.39 L266.62,440.12 L266.07,438.64 L265.88,437.00 L266.17,435.38 L266.84,433.99 L267.68,432.86 L268.46,431.87 L269.14,430.82 L269.86,429.68 L270.74,428.63 L271.81,427.94 L273.00,427.77 L274.18,428.03 L275.29,428.55 L276.34,429.22 L277.32,430.07 L278.15,431.19 L278.70,432.58 L278.94,434.09 L278.97,435.58 L278.98,437.00Z" fill="none" stroke="#000" stroke-width="0.6" stroke-opacity="0.9"/>
<path d="M279.12,437.00 L278.94,438.41 L278.67,439.77 L278.23,441.06 L277.58,442.17 L276.76,443.02 L275.86,443.67 L274.96,444.26 L274.03,444.89 L273.00,445.48 L271.85,445.75 L270.71,445.46 L269.74,444.59 L269.04,443.34 L268.56,442.02 L268.13,440.78 L267.67,439.61 L267.23,438.37 L266.94,437.00 L266.94,435.56 L267.22,434.17 L267.68,432.87 L268.25,431.64 L268.93,430.47 L269.77,429.48 L270.80,428.86 L271.92,428.76 L273.00,429.09 L273.97,429.61 L274.88,430.06 L275.83,430.40 L276.87,430.79 L277.89,431.48 L278.68,432.59 L279.12,434.01 L279.22,435.52 L279.12,437.00Z" fill="none" stroke="#000" stroke-width="0.6" stroke-opacity="0.9"/>
<path d="M278.63,437.00 L278.49,438.30 L278.25,439.57 L277.84,440.76 L277.22,441.76 L276.45,442.53 L275.64,443.14 L274.82,443.74 L273.97,444.37 L273.00,444.93 L271.93,445.13 L270.89,444.80 L270.02,443.94 L269.39,442.78 L268.93,441.59 L268.50,440.49 L268.04,439.43 L267.62,438.28 L267.38,437.00 L267.40,435.67 L267.67,434.39 L268.09,433.18 L268.59,432.03 L269.21,430.93 L270.01,430.03 L270.97,429.51 L272.01,429.46 L273.00,429.78 L273.89,430.22 L274.74,430.57 L275.65,430.83 L276.63,431.18 L277.55,431.86 L278.25,432.92 L278.62,434.25 L278.71,435.65 L278.63,437.00Z" fill="none" stroke="#000" stroke-width="0.6" stroke-opacity="0.9"/>
<path d="M278.35,437.00 L278.50,438.31 L278.29,439.59 L277.73,440.68 L277.01,441.52 L276.24,442.20 L275.49,442.80 L274.72,443.34 L273.88,443.70 L273.00,443.79 L272.13,443.60 L271.31,443.26 L270.48,442.87 L269.62,442.41 L268.79,441.76 L268.11,440.80 L267.76,439.57 L267.76,438.24 L268.02,437.00 L268.33,435.89 L268.58,434.83 L268.79,433.73 L269.09,432.59 L269.60,431.55 L270.33,430.77 L271.18,430.28 L272.08,430.02 L273.00,429.89 L273.93,429.91 L274.84,430.20 L275.65,430.83 L276.27,431.76 L276.70,432.82 L277.06,433.85 L277.47,434.81 L277.94,435.83 L278.35,437.00Z" fill="none" stroke="#000" stroke-width="0.6" stroke-opacity="0.9"/>
<path d="M277.68,437.00 L277.46,438.06 L277.12,439.02 L276.76,439.92 L276.43,440.87 L276.05,441.89 L275.51,442.86 L274.77,443.53 L273.89,443.76 L273.00,443.55 L272.20,443.10 L271.48,442.61 L270.79,442.15 L270.10,441.65 L269.46,440.99 L268.96,440.14 L268.62,439.14 L268.41,438.09 L268.27,437.00 L268.20,435.86 L268.28,434.69 L268.61,433.59 L269.22,432.74 L270.00,432.20 L270.81,431.89 L271.55,431.64 L272.25,431.30 L273.00,430.90 L273.83,430.64 L274.70,430.71 L275.49,431.19 L276.15,431.95 L276.67,432.86 L277.11,433.81 L277.46,434.81 L277.68,435.89 L277.68,437.00Z" fill="none" stroke="#000" stroke-width="0.6" stroke-opacity="0.9"/>
<path d="M276.90,437.00 L276.85,437.91 L276.84,438.88 L276.77,439.93 L276.51,440.96 L275.99,441.79 L275.27,442.29 L274.48,442.47 L273.72,442.46 L273.00,442.41 L272.30,442.36 L271.59,442.21 L270.92,441.86 L270.32,441.29 L269.83,440.58 L269.39,439.80 L268.97,438.97 L268.61,438.04 L268.41,437.00 L268.49,435.93 L268.86,434.98 L269.42,434.22 L270.01,433.62 L270.54,433.05 L271.03,432.41 L271.58,431.74 L272.24,431.22 L273.00,431.00 L273.77,431.12 L274.49,431.48 L275.16,431.97 L275.78,432.55 L276.33,433.24 L276.74,434.10 L276.94,435.07 L276.96,436.06 L276.90,437.00Z" fill="none" stroke="#000" stroke-width="0.6" stroke-opacity="0.9"/>
<path d="M276.50,437.00 L276.63,437.86 L276.70,438.81 L276.56,439.76 L276.16,440.57 L275.57,441.12 L274.90,441.44 L274.25,441.62 L273.63,441.78 L273.00,441.90 L272.36,441.89 L271.73,441.69 L271.16,441.29 L270.65,440.78 L270.15,440.21 L269.66,439.59 L269.22,438.85 L268.95,437.96 L268.94,437.00 L269.19,436.10 L269.59,435.33 L270.01,434.68 L270.37,434.03 L270.71,433.33 L271.12,432.63 L271.67,432.07 L272.31,431.76 L273.00,431.73 L273.67,431.88 L274.32,432.13 L274.94,432.48 L275.50,432.98 L275.94,433.68 L276.21,434.51 L276.33,435.37 L276.39,436.20 L276.50,437.00Z" fill="none" stroke="#000" stroke-width="0.6" stroke-opacity="0.9"/>
<ellipse cx="273.00" cy="437.00" rx="5.04" ry="6.78" fill="#000"/>
<ellipse cx="273.00" cy="437.00" rx="1.85" ry="1.02" fill="#fff" fill-opacity="0.6"/>
</g>
<circle cx="298.54" cy="454.71" r="0.25" fill="#555"/>
<circle cx="290.12" cy="463.63" r="0.25" fill="#555"/>
<circle cx="288.72" cy="459.20" r="0.25" fill="#555"/>
<circle cx="280.50" cy="461.82" r="0.25" fill="#555"/>
<circle cx="308.04" cy="464.46" r="0.25" fill="#555"/>
<circle cx="270.60" cy="456.20" r="0.25" fill="#555"/>
<circle cx="331.34" cy="459.20" r="0.25" fill="#555"/>
<circle cx="308.30" cy="451.62" r="0.25" fill="#555"/>
<circle cx="303.13" cy="461.25" r="0.25" fill="#555"/>
<circle cx="294.49" cy="460.50" r="0.25" fill="#555"/>
<circle cx="284.80" cy="460.42" r="0.25" fill="#555"/>
<circle cx="286.01" cy="467.08" r="0.25" fill="#555"/>
<circle cx="287.12" cy="454.12" r="0.25" fill="#555"/>
<circle cx="305.09" cy="462.14" r="0.25" fill="#555"/>
<circle cx="300.53" cy="450.30" r="0.25" fill="#555"/>
<circle cx="296.70" cy="457.36" r="0.25" fill="#555"/>
<circle cx="294.13" cy="459.41" r="0.25" fill="#555"/>
<circle cx="287.53" cy="459.69" r="0.25" fill="#555"/>
<circle cx="315.87" cy="458.96" r="0.25" fill="#555"/>
<circle cx="286.98" cy="460.69" r="0.25" fill="#555"/>
<circle cx="296.09" cy="469.04" r="0.25" fill="#555"/>
<circle cx="285.53" cy="465.28" r="0.25" fill="#555"/>
<circle cx="284.79" cy="457.54" r="0.25" fill="#555"/>
<circle cx="299.60" cy="455.02" r="0.25" fill="#555"/>
<circle cx="281.35" cy="457.72" r="0.25" fill="#555"/>
<circle cx="298.16" cy="467.71" r="0.25" fill="#555"/>
<circle cx="298.61" cy="454.48" r="0.25" fill="#555"/>
<circle cx="293.63" cy="455.52" r="0.25" fill="#555"/>
<circle cx="299.73" cy="455.91" r="0.25" fill="#555"/>
<circle cx="304.25" cy="461.37" r="0.25" fill="#555"/>
<circle cx="304.09" cy="466.32" r="0.25" fill="#555"/>
<circle cx="293.10" cy="463.21" r="0.25" fill="#555"/>
<circle cx="303.78" cy="462.28" r="0.25" fill="#555"/>
<circle cx="315.48" cy="462.19" r="0.25" fill="#555"/>
<circle cx="261.70" cy="451.39" r="0.25" fill="#555"/>
<circle cx="283.39" cy="463.63" r="0.25" fill="#555"/>
<circle cx="277.39" cy="466.64" r="0.25" fill="#555"/>
<circle cx="283.48" cy="460.37" r="0.25" fill="#555"/>
<circle cx="303.01" cy="458.20" r="0.25" fill="#555"/>
<circle cx="305.35" cy="459.98" r="0.25" fill="#555"/>
<circle cx="299.87" cy="462.82" r="0.25" fill="#555"/>
<circle cx="286.41" cy="455.12" r="0.25" fill="#555"/>
<circle cx="302.35" cy="466.61" r="0.25" fill="#555"/>
<circle cx="304.00" cy="460.33" r="0.25" fill="#555"/>
<circle cx="285.49" cy="462.91" r="0.25" fill="#555"/>
<g>
<path d="M305.98,460.80 L306.59,461.79 L306.64,462.86 L305.84,463.86 L304.24,464.65 L302.21,465.18 L300.12,465.55 L298.10,465.85 L296.09,466.11 L294.00,466.26 L291.87,466.21 L289.84,465.92 L287.97,465.48 L286.17,464.98 L284.35,464.43 L282.60,463.75 L281.24,462.88 L280.65,461.85 L280.98,460.80 L281.97,459.85 L283.15,459.03 L284.19,458.26 L285.09,457.45 L286.14,456.60 L287.62,455.85 L289.55,455.32 L291.75,455.08 L294.00,455.06 L296.21,455.18 L298.39,455.39 L300.47,455.78 L302.24,456.40 L303.50,457.23 L304.25,458.15 L304.73,459.05 L305.27,459.91 L305.98,460.80Z" fill="none" stroke="#000" stroke-width="0.6" stroke-opacity="0.9"/>
<path d="M306.80,460.80 L306.59,461.79 L305.64,462.70 L304.29,463.46 L302.84,464.12 L301.37,464.74 L299.78,465.28 L297.96,465.68 L295.99,465.86 L294.00,465.86 L292.04,465.77 L290.05,465.66 L287.94,465.50 L285.84,465.15 L284.08,464.53 L283.01,463.64 L282.69,462.64 L282.88,461.68 L283.17,460.80 L283.33,459.96 L283.44,459.08 L283.83,458.17 L284.74,457.32 L286.19,456.63 L287.97,456.12 L289.88,455.73 L291.89,455.44 L294.00,455.28 L296.15,455.35 L298.13,455.72 L299.76,456.33 L301.03,457.05 L302.18,457.72 L303.47,458.35 L304.89,459.02 L306.15,459.84 L306.80,460.80Z" fill="none" stroke="#000" stroke-width="0.6" stroke-opacity="0.9"/>
<path d="M304.55,460.80 L305.07,461.67 L305.17,462.62 L304.54,463.53 L303.18,464.25 L301.37,464.74 L299.48,465.05 L297.65,465.29 L295.85,465.51 L294.00,465.65 L292.11,465.61 L290.29,465.37 L288.62,464.97 L287.05,464.51 L285.48,464.00 L283.94,463.40 L282.69,462.64 L282.08,461.74 L282.30,460.80 L283.16,459.94 L284.26,459.21 L285.27,458.54 L286.13,457.84 L287.07,457.10 L288.35,456.42 L290.04,455.93 L291.99,455.69 L294.00,455.68 L295.97,455.80 L297.90,456.00 L299.75,456.34 L301.36,456.87 L302.52,457.60 L303.21,458.42 L303.60,459.24 L304.00,460.01 L304.55,460.80Z" fill="none" stroke="#000" stroke-width="0.6" stroke-opacity="0.9"/>
<path d="M303.78,460.80 L303.42,461.54 L303.16,462.29 L302.91,463.10 L302.39,463.95 L301.32,464.71 L299.70,465.23 L297.76,465.43 L295.81,465.40 L294.00,465.28 L292.29,465.15 L290.58,465.01 L288.91,464.75 L287.39,464.33 L286.14,463.75 L285.14,463.09 L284.27,462.39 L283.47,461.63 L282.90,460.80 L282.86,459.92 L283.54,459.09 L284.83,458.43 L286.40,457.94 L287.91,457.55 L289.27,457.13 L290.62,456.64 L292.19,456.19 L294.00,455.93 L295.91,455.94 L297.72,456.22 L299.34,456.65 L300.81,457.17 L302.13,457.74 L303.22,458.41 L303.88,459.19 L304.02,460.01 L303.78,460.80Z" fill="none" stroke="#000" stroke-width="0.6" stroke-opacity="0.9"/>
<path d="M304.13,460.80 L304.40,461.62 L303.96,462.42 L302.91,463.10 L301.54,463.63 L300.11,464.06 L298.70,464.45 L297.24,464.79 L295.66,465.02 L294.00,465.06 L292.37,464.94 L290.80,464.74 L289.24,464.50 L287.61,464.21 L286.03,463.80 L284.77,463.19 L284.12,462.41 L284.15,461.58 L284.63,460.80 L285.20,460.10 L285.64,459.44 L286.02,458.74 L286.60,458.02 L287.58,457.37 L288.95,456.88 L290.57,456.58 L292.27,456.41 L294.00,456.33 L295.75,456.34 L297.47,456.53 L298.99,456.93 L300.14,457.52 L300.96,458.18 L301.66,458.82 L302.45,459.42 L303.36,460.06 L304.13,460.80Z" fill="none" stroke="#000" stroke-width="0.6" stroke-opacity="0.9"/>
<path d="M302.92,460.80 L302.47,461.47 L301.86,462.08 L301.29,462.69 L300.74,463.33 L300.02,464.01 L298.92,464.61 L297.40,464.99 L295.68,465.07 L294.00,464.91 L292.49,464.65 L291.09,464.38 L289.71,464.13 L288.35,463.81 L287.15,463.38 L286.23,462.81 L285.60,462.17 L285.15,461.50 L284.80,460.80 L284.62,460.06 L284.83,459.30 L285.59,458.63 L286.86,458.12 L288.37,457.79 L289.85,457.58 L291.20,457.36 L292.53,457.07 L294.00,456.79 L295.63,456.65 L297.29,456.75 L298.77,457.10 L300.00,457.59 L301.03,458.16 L301.92,458.75 L302.63,459.39 L303.00,460.09 L302.92,460.80Z" fill="none" stroke="#000" stroke-width="0.6" stroke-opacity="0.9"/>
<path d="M302.97,460.80 L302.53,461.47 L301.85,462.08 L301.11,462.64 L300.29,463.16 L299.30,463.63 L298.10,463.98 L296.76,464.19 L295.38,464.30 L294.00,464.38 L292.56,464.45 L291.01,464.47 L289.45,464.33 L288.10,463.95 L287.19,463.36 L286.75,462.68 L286.58,462.01 L286.44,461.40 L286.22,460.80 L286.03,460.17 L286.11,459.51 L286.60,458.89 L287.46,458.34 L288.54,457.88 L289.73,457.48 L291.03,457.14 L292.47,456.91 L294.00,456.87 L295.47,457.06 L296.74,457.42 L297.82,457.83 L298.87,458.20 L300.02,458.54 L301.25,458.92 L302.32,459.44 L302.94,460.09 L302.97,460.80Z" fill="none" stroke="#000" stroke-width="0.6" stroke-opacity="0.9"/>
<path d="M301.71,460.80 L301.57,461.40 L301.09,461.96 L300.34,462.44 L299.48,462.86 L298.63,463.27 L297.76,463.72 L296.73,464.16 L295.45,464.49 L294.00,464.58 L292.58,464.41 L291.35,464.06 L290.33,463.65 L289.40,463.26 L288.46,462.88 L287.55,462.47 L286.83,461.97 L286.43,461.40 L286.33,460.80 L286.43,460.20 L286.64,459.60 L287.02,458.99 L287.70,458.43 L288.75,457.99 L290.07,457.75 L291.47,457.69 L292.78,457.71 L294.00,457.69 L295.25,457.63 L296.61,457.59 L298.02,457.68 L299.28,457.98 L300.24,458.45 L300.87,459.02 L301.28,459.61 L301.57,460.20 L301.71,460.80Z" fill="none" stroke="#000" stroke-width="0.6" stroke-opacity="0.9"/>
<path d="M301.01,460.80 L300.90,461.34 L300.47,461.86 L299.79,462.30 L299.00,462.68 L298.20,463.04 L297.40,463.44 L296.47,463.84 L295.32,464.15 L294.00,464.25 L292.70,464.11 L291.57,463.79 L290.64,463.40 L289.81,463.04 L288.97,462.69 L288.15,462.31 L287.49,461.86 L287.10,461.34 L287.01,460.80 L287.11,460.26 L287.32,459.71 L287.67,459.16 L288.27,458.65 L289.21,458.24 L290.40,458.01 L291.68,457.95 L292.89,457.97 L294.00,457.98 L295.13,457.93 L296.36,457.90 L297.64,457.97 L298.81,458.23 L299.70,458.66 L300.28,459.18 L300.64,459.72 L300.89,460.26 L301.01,460.80Z" fill="none" stroke="#000" stroke-width="0.6" stroke-opacity="0.9"/>
<path d="M300.80,460.80 L300.76,461.33 L300.29,461.83 L299.56,462.24 L298.75,462.59 L297.93,462.90 L297.08,463.19 L296.12,463.41 L295.07,463.52 L294.00,463.52 L292.95,463.46 L291.91,463.38 L290.81,463.27 L289.69,463.10 L288.71,462.79 L288.07,462.33 L287.85,461.80 L287.95,461.28 L288.17,460.80 L288.33,460.35 L288.43,459.89 L288.63,459.41 L289.08,458.95 L289.82,458.57 L290.76,458.29 L291.80,458.09 L292.88,457.95 L294.00,457.86 L295.15,457.89 L296.23,458.06 L297.12,458.38 L297.81,458.77 L298.39,459.15 L299.00,459.51 L299.71,459.87 L300.39,460.30 L300.80,460.80Z" fill="none" stroke="#000" stroke-width="0.6" stroke-opacity="0.9"/>
<path d="M299.15,460.80 L299.12,461.20 L299.13,461.64 L299.04,462.10 L298.67,462.56 L297.96,462.91 L296.99,463.12 L295.95,463.20 L294.94,463.20 L294.00,463.19 L293.07,463.17 L292.13,463.11 L291.23,462.95 L290.46,462.69 L289.80,462.38 L289.20,462.04 L288.63,461.68 L288.14,461.26 L287.90,460.80 L288.04,460.33 L288.56,459.91 L289.30,459.58 L290.06,459.32 L290.73,459.05 L291.37,458.76 L292.10,458.46 L292.99,458.24 L294.00,458.15 L295.02,458.21 L295.97,458.37 L296.86,458.58 L297.69,458.83 L298.42,459.14 L298.95,459.52 L299.20,459.95 L299.22,460.39 L299.15,460.80Z" fill="none" stroke="#000" stroke-width="0.6" stroke-opacity="0.9"/>
<ellipse cx="294.00" cy="460.80" rx="7.50" ry="3.36" fill="#000"/>
<ellipse cx="294.00" cy="460.80" rx="2.75" ry="0.50" fill="#fff" fill-opacity="0.6"/>
</g>
<circle cx="283.06" cy="462.19" r="0.25" fill="#555"/>
<circle cx="269.11" cy="463.46" r="0.25" fill="#555"/>
<circle cx="268.89" cy="462.31" r="0.25" fill="#555"/>
<circle cx="269.82" cy="453.90" r="0.25" fill="#555"/>
<circle cx="280.36" cy="457.83" r="0.25" fill="#555"/>
<circle cx="261.56" cy="451.71" r="0.25" fill="#555"/>
<circle cx="270.40" cy="453.43" r="0.25" fill="#555"/>
<circle cx="276.59" cy="452.20" r="0.25" fill="#555"/>
<circle cx="259.08" cy="452.69" r="0.25" fill="#555"/>
<circle cx="279.15" cy="464.32" r="0.25" fill="#555"/>
<circle cx="280.50" cy="466.23" r="0.25" fill="#555"/>
<circle cx="264.72" cy="460.67" r="0.25" fill="#555"/>
<circle cx="272.51" cy="456.58" r="0.25" fill="#555"/>
<circle cx="268.23" cy="456.14" r="0.25" fill="#555"/>
<circle cx="261.33" cy="465.31" r="0.25" fill="#555"/>
<circle cx="277.26" cy="451.07" r="0.25" fill="#555"/>
<circle cx="264.99" cy="456.12" r="0.25" fill="#555"/>
<circle cx="278.79" cy="460.64" r="0.25" fill="#555"/>
<circle cx="270.64" cy="455.99" r="0.25" fill="#555"/>
<circle cx="274.08" cy="467.65" r="0.25" fill="#555"/>
<circle cx="283.83" cy="451.51" r="0.25" fill="#555"/>
<circle cx="272.12" cy="451.83" r="0.25" fill="#555"/>
<circle cx="280.09" cy="463.13" r="0.25" fill="#555"/>
<circle cx="268.90" cy="456.83" r="0.25" fill="#555"/>
<circle cx="260.53" cy="468.03" r="0.25" fill="#555"/>
<circle cx="281.77" cy="469.07" r="0.25" fill="#555"/>
<circle cx="281.99" cy="451.60" r="0.25" fill="#555"/>
<circle cx="280.90" cy="451.80" r="0.25" fill="#555"/>
<circle cx="283.52" cy="465.42" r="0.25" fill="#555"/>
<circle cx="281.37" cy="465.28" r="0.25" fill="#555"/>
<circle cx="281.65" cy="465.08" r="0.25" fill="#555"/>
<circle cx="281.63" cy="451.53" r="0.25" fill="#555"/>
<circle cx="276.00" cy="467.08" r="0.25" fill="#555"/>
<circle cx="281.19" cy="451.79" r="0.25" fill="#555"/>
<circle cx="270.96" cy="462.07" r="0.25" fill="#555"/>
<rect x="262.50" y="423.40" width="20.00" height="28.10" fill="none" stroke="#333" stroke-width="0.5"/>
<rect x="282.50" y="452.60" width="27.30" height="15.90" fill="none" stroke="#333" stroke-width="0.5"/>
<text x="284.80" y="430.10" font-size="6.15">47.7</text>
<text x="299.50" y="447.50" font-size="6.15">49.8</text>
<text x="343.80" y="415.70" font-size="7.42" text-anchor="middle" textLength="23.00" lengthAdjust="spacingAndGlyphs">Spleen</text>
<rect x="315.60" y="419.40" width="56.90" height="56.90" fill="none" stroke="#777" stroke-width="0.8"/>
<ellipse cx="332.5" cy="433.2" rx="5.60" ry="4.80" fill="none" stroke="#111" stroke-width="0.9"/>
<ellipse cx="332.5" cy="433.2" rx="4.80" ry="4.00" fill="none" stroke="#111" stroke-width="0.9"/>
<ellipse cx="332.5" cy="433.2" rx="4.00" ry="3.20" fill="none" stroke="#111" stroke-width="0.9"/>
<ellipse cx="331.2" cy="443.6" rx="4.20" ry="4.80" fill="none" stroke="#111" stroke-width="0.9"/>
<ellipse cx="331.2" cy="443.6" rx="3.40" ry="4.00" fill="none" stroke="#111" stroke-width="0.9"/>
<ellipse cx="331.2" cy="443.6" rx="2.60" ry="3.20" fill="none" stroke="#111" stroke-width="0.9"/>
<g transform="rotate(-35 348 461.5)">
<ellipse cx="348" cy="461.5" rx="8.50" ry="3.20" fill="none" stroke="#111" stroke-width="0.7"/>
<ellipse cx="348" cy="461.5" rx="7.20" ry="2.70" fill="none" stroke="#111" stroke-width="0.7"/>
<ellipse cx="348" cy="461.5" rx="5.90" ry="2.20" fill="none" stroke="#111" stroke-width="0.7"/>
<ellipse cx="348" cy="461.5" rx="4.60" ry="1.70" fill="none" stroke="#111" stroke-width="0.7"/>
</g>
<rect x="324.30" y="424.10" width="15.40" height="26.10" fill="none" stroke="#333" stroke-width="0.5"/>
<rect x="338.40" y="450.40" width="25.40" height="17.80" fill="none" stroke="#333" stroke-width="0.5"/>
<text x="342.80" y="426.10" font-size="6.15">54.5</text>
<text x="358.80" y="447.50" font-size="6.15">45.5</text>
<text x="285.50" y="486.70" font-size="7.42" text-anchor="middle" textLength="16.50" lengthAdjust="spacingAndGlyphs">Lung</text>
<rect x="255.80" y="489.40" width="57.10" height="55.50" fill="none" stroke="#777" stroke-width="0.8"/>
<circle cx="269.17" cy="502.42" r="0.25" fill="#555"/>
<circle cx="262.02" cy="487.78" r="0.25" fill="#555"/>
<circle cx="275.39" cy="518.89" r="0.25" fill="#555"/>
<circle cx="273.07" cy="495.58" r="0.25" fill="#555"/>
<circle cx="270.47" cy="522.77" r="0.25" fill="#555"/>
<circle cx="264.02" cy="508.54" r="0.25" fill="#555"/>
<circle cx="284.32" cy="495.55" r="0.25" fill="#555"/>
<circle cx="274.23" cy="501.81" r="0.25" fill="#555"/>
<circle cx="276.89" cy="524.93" r="0.25" fill="#555"/>
<circle cx="262.72" cy="510.78" r="0.25" fill="#555"/>
<circle cx="273.68" cy="508.02" r="0.25" fill="#555"/>
<circle cx="274.77" cy="510.52" r="0.25" fill="#555"/>
<circle cx="282.76" cy="507.11" r="0.25" fill="#555"/>
<circle cx="275.34" cy="502.25" r="0.25" fill="#555"/>
<circle cx="278.49" cy="515.29" r="0.25" fill="#555"/>
<circle cx="261.35" cy="523.98" r="0.25" fill="#555"/>
<circle cx="270.14" cy="509.78" r="0.25" fill="#555"/>
<circle cx="272.07" cy="525.18" r="0.25" fill="#555"/>
<circle cx="270.87" cy="520.30" r="0.25" fill="#555"/>
<circle cx="269.64" cy="493.29" r="0.25" fill="#555"/>
<circle cx="269.46" cy="516.11" r="0.25" fill="#555"/>
<circle cx="280.00" cy="522.64" r="0.25" fill="#555"/>
<circle cx="268.74" cy="488.15" r="0.25" fill="#555"/>
<circle cx="276.33" cy="503.08" r="0.25" fill="#555"/>
<circle cx="276.03" cy="513.57" r="0.25" fill="#555"/>
<circle cx="269.19" cy="499.69" r="0.25" fill="#555"/>
<circle cx="272.42" cy="508.77" r="0.25" fill="#555"/>
<circle cx="255.98" cy="505.26" r="0.25" fill="#555"/>
<circle cx="267.54" cy="498.70" r="0.25" fill="#555"/>
<circle cx="278.64" cy="506.76" r="0.25" fill="#555"/>
<g>
<path d="M278.01,508.90 L278.34,510.80 L278.37,512.84 L277.94,514.75 L277.08,516.26 L275.97,517.29 L274.83,517.98 L273.73,518.54 L272.64,519.04 L271.50,519.33 L270.34,519.23 L269.24,518.69 L268.22,517.85 L267.24,516.88 L266.26,515.82 L265.30,514.53 L264.56,512.87 L264.23,510.92 L264.41,508.90 L264.94,507.08 L265.59,505.52 L266.16,504.05 L266.66,502.51 L267.23,500.89 L268.03,499.44 L269.08,498.43 L270.27,497.97 L271.50,497.93 L272.70,498.15 L273.89,498.58 L275.02,499.31 L275.99,500.49 L276.68,502.06 L277.08,503.83 L277.34,505.56 L277.63,507.20 L278.01,508.90Z" fill="none" stroke="#000" stroke-width="0.6" stroke-opacity="0.9"/>
<path d="M277.64,508.90 L277.95,510.69 L277.99,512.61 L277.59,514.43 L276.78,515.87 L275.73,516.84 L274.65,517.49 L273.61,518.01 L272.57,518.48 L271.50,518.75 L270.41,518.66 L269.36,518.15 L268.40,517.36 L267.48,516.44 L266.55,515.43 L265.65,514.21 L264.95,512.65 L264.63,510.81 L264.78,508.90 L265.29,507.18 L265.91,505.70 L266.46,504.32 L266.93,502.87 L267.47,501.35 L268.22,499.97 L269.21,499.01 L270.34,498.56 L271.50,498.53 L272.64,498.75 L273.76,499.15 L274.82,499.84 L275.74,500.95 L276.40,502.43 L276.78,504.10 L277.02,505.74 L277.29,507.29 L277.64,508.90Z" fill="none" stroke="#000" stroke-width="0.6" stroke-opacity="0.9"/>
<path d="M277.58,508.90 L277.40,510.54 L277.13,512.13 L276.70,513.62 L276.05,514.91 L275.23,515.89 L274.34,516.64 L273.45,517.34 L272.53,518.09 L271.50,518.77 L270.36,519.08 L269.23,518.73 L268.27,517.70 L267.58,516.25 L267.09,514.72 L266.66,513.30 L266.20,511.94 L265.75,510.49 L265.48,508.90 L265.48,507.23 L265.76,505.61 L266.22,504.10 L266.78,502.67 L267.45,501.30 L268.29,500.15 L269.31,499.44 L270.43,499.33 L271.50,499.73 L272.46,500.32 L273.37,500.83 L274.32,501.21 L275.36,501.66 L276.36,502.48 L277.14,503.77 L277.57,505.42 L277.67,507.19 L277.58,508.90Z" fill="none" stroke="#000" stroke-width="0.6" stroke-opacity="0.9"/>
<path d="M277.43,508.90 L277.57,510.58 L277.29,512.22 L276.67,513.59 L275.87,514.67 L275.05,515.56 L274.24,516.37 L273.39,517.07 L272.47,517.52 L271.50,517.61 L270.55,517.36 L269.64,516.95 L268.72,516.48 L267.76,515.91 L266.84,515.05 L266.12,513.79 L265.77,512.18 L265.80,510.48 L266.07,508.90 L266.39,507.48 L266.62,506.11 L266.83,504.66 L267.17,503.19 L267.75,501.87 L268.56,500.90 L269.51,500.28 L270.49,499.93 L271.50,499.74 L272.52,499.77 L273.52,500.16 L274.40,501.01 L275.06,502.22 L275.54,503.57 L275.96,504.85 L276.44,506.07 L276.98,507.38 L277.43,508.90Z" fill="none" stroke="#000" stroke-width="0.6" stroke-opacity="0.9"/>
<path d="M277.24,508.90 L277.16,510.47 L276.74,511.90 L276.13,513.11 L275.47,514.15 L274.81,515.11 L274.09,515.96 L273.28,516.60 L272.40,516.90 L271.50,516.89 L270.62,516.74 L269.73,516.55 L268.79,516.28 L267.85,515.75 L267.05,514.78 L266.55,513.40 L266.40,511.82 L266.49,510.29 L266.63,508.90 L266.72,507.57 L266.77,506.19 L266.94,504.76 L267.35,503.42 L267.99,502.32 L268.79,501.51 L269.65,500.91 L270.55,500.46 L271.50,500.20 L272.46,500.30 L273.36,500.87 L274.09,501.83 L274.67,502.96 L275.18,504.05 L275.74,505.05 L276.37,506.11 L276.93,507.39 L277.24,508.90Z" fill="none" stroke="#000" stroke-width="0.6" stroke-opacity="0.9"/>
<path d="M276.06,508.90 L276.24,510.21 L276.32,511.66 L276.14,513.11 L275.62,514.35 L274.85,515.19 L273.98,515.67 L273.13,515.95 L272.32,516.19 L271.50,516.37 L270.66,516.36 L269.85,516.05 L269.10,515.44 L268.43,514.66 L267.79,513.80 L267.15,512.86 L266.57,511.72 L266.22,510.37 L266.20,508.90 L266.53,507.52 L267.06,506.35 L267.60,505.36 L268.07,504.37 L268.52,503.30 L269.05,502.23 L269.76,501.37 L270.60,500.91 L271.50,500.86 L272.38,501.08 L273.22,501.47 L274.03,502.00 L274.77,502.77 L275.34,503.83 L275.68,505.10 L275.84,506.42 L275.93,507.67 L276.06,508.90Z" fill="none" stroke="#000" stroke-width="0.6" stroke-opacity="0.9"/>
<path d="M276.35,508.90 L276.39,510.26 L276.10,511.53 L275.57,512.60 L274.96,513.47 L274.34,514.22 L273.71,514.92 L273.02,515.49 L272.27,515.82 L271.50,515.84 L270.74,515.65 L270.00,515.38 L269.23,515.08 L268.44,514.64 L267.71,513.90 L267.19,512.81 L266.98,511.49 L267.04,510.14 L267.24,508.90 L267.41,507.77 L267.54,506.63 L267.68,505.43 L267.98,504.25 L268.48,503.24 L269.15,502.50 L269.91,502.02 L270.69,501.69 L271.50,501.50 L272.33,501.53 L273.12,501.91 L273.79,502.66 L274.30,503.65 L274.69,504.69 L275.08,505.65 L275.54,506.59 L276.01,507.65 L276.35,508.90Z" fill="none" stroke="#000" stroke-width="0.6" stroke-opacity="0.9"/>
<path d="M275.66,508.90 L275.59,510.04 L275.41,511.14 L275.07,512.15 L274.58,512.97 L274.02,513.63 L273.46,514.24 L272.88,514.88 L272.24,515.53 L271.50,515.99 L270.70,516.03 L269.96,515.57 L269.36,514.73 L268.91,513.76 L268.52,512.83 L268.13,511.96 L267.74,511.06 L267.43,510.03 L267.30,508.90 L267.36,507.75 L267.55,506.64 L267.83,505.56 L268.18,504.51 L268.65,503.55 L269.28,502.84 L270.02,502.51 L270.79,502.57 L271.50,502.83 L272.15,503.07 L272.82,503.20 L273.54,503.33 L274.29,503.68 L274.93,504.37 L275.37,505.38 L275.60,506.55 L275.67,507.74 L275.66,508.90Z" fill="none" stroke="#000" stroke-width="0.6" stroke-opacity="0.9"/>
<path d="M275.48,508.90 L275.28,509.95 L275.03,510.92 L274.74,511.84 L274.38,512.70 L273.91,513.41 L273.34,513.91 L272.73,514.23 L272.12,514.48 L271.50,514.74 L270.82,514.96 L270.10,514.97 L269.41,514.60 L268.87,513.84 L268.53,512.82 L268.34,511.77 L268.20,510.79 L268.03,509.86 L267.86,508.90 L267.78,507.87 L267.87,506.82 L268.15,505.85 L268.55,505.00 L269.01,504.23 L269.53,503.53 L270.13,502.97 L270.80,502.67 L271.50,502.75 L272.14,503.15 L272.70,503.71 L273.22,504.22 L273.76,504.66 L274.36,505.12 L274.94,505.78 L275.36,506.69 L275.53,507.78 L275.48,508.90Z" fill="none" stroke="#000" stroke-width="0.6" stroke-opacity="0.9"/>
<path d="M275.18,508.90 L275.00,509.87 L274.72,510.74 L274.41,511.55 L274.08,512.30 L273.67,512.98 L273.18,513.49 L272.63,513.79 L272.06,513.94 L271.50,514.05 L270.91,514.16 L270.28,514.19 L269.64,513.98 L269.08,513.44 L268.71,512.59 L268.52,511.60 L268.46,510.64 L268.40,509.76 L268.31,508.90 L268.24,507.99 L268.27,507.05 L268.47,506.14 L268.82,505.36 L269.26,504.70 L269.75,504.13 L270.28,503.63 L270.87,503.30 L271.50,503.24 L272.10,503.51 L272.63,504.03 L273.07,504.62 L273.50,505.16 L273.97,505.64 L274.47,506.20 L274.91,506.95 L275.16,507.88 L275.18,508.90Z" fill="none" stroke="#000" stroke-width="0.6" stroke-opacity="0.9"/>
<path d="M274.77,508.90 L274.78,509.81 L274.58,510.66 L274.22,511.37 L273.81,511.96 L273.41,512.47 L272.99,512.95 L272.53,513.33 L272.02,513.54 L271.50,513.55 L270.99,513.43 L270.49,513.26 L269.97,513.07 L269.43,512.77 L268.95,512.27 L268.61,511.52 L268.48,510.63 L268.53,509.72 L268.65,508.90 L268.76,508.14 L268.83,507.37 L268.92,506.56 L269.13,505.77 L269.47,505.10 L269.93,504.61 L270.43,504.28 L270.96,504.06 L271.50,503.92 L272.06,503.95 L272.58,504.21 L273.03,504.73 L273.37,505.40 L273.64,506.08 L273.91,506.71 L274.23,507.34 L274.55,508.05 L274.77,508.90Z" fill="none" stroke="#000" stroke-width="0.6" stroke-opacity="0.9"/>
<ellipse cx="271.50" cy="508.90" rx="4.08" ry="6.42" fill="#000"/>
<ellipse cx="271.50" cy="508.90" rx="1.50" ry="0.96" fill="#fff" fill-opacity="0.6"/>
</g>
<circle cx="266.90" cy="529.90" r="0.25" fill="#555"/>
<circle cx="301.00" cy="538.29" r="0.25" fill="#555"/>
<circle cx="282.73" cy="527.19" r="0.25" fill="#555"/>
<circle cx="311.68" cy="531.82" r="0.25" fill="#555"/>
<circle cx="276.74" cy="524.83" r="0.25" fill="#555"/>
<circle cx="295.94" cy="543.07" r="0.25" fill="#555"/>
<circle cx="289.91" cy="532.58" r="0.25" fill="#555"/>
<circle cx="298.81" cy="524.59" r="0.25" fill="#555"/>
<circle cx="288.99" cy="524.69" r="0.25" fill="#555"/>
<circle cx="301.72" cy="542.34" r="0.25" fill="#555"/>
<circle cx="291.78" cy="532.50" r="0.25" fill="#555"/>
<circle cx="276.66" cy="542.18" r="0.25" fill="#555"/>
<circle cx="287.14" cy="531.58" r="0.25" fill="#555"/>
<circle cx="294.67" cy="534.06" r="0.25" fill="#555"/>
<circle cx="275.62" cy="535.05" r="0.25" fill="#555"/>
<circle cx="288.88" cy="523.11" r="0.25" fill="#555"/>
<circle cx="276.69" cy="542.52" r="0.25" fill="#555"/>
<circle cx="282.66" cy="527.30" r="0.25" fill="#555"/>
<circle cx="292.13" cy="550.19" r="0.25" fill="#555"/>
<circle cx="296.25" cy="511.68" r="0.25" fill="#555"/>
<circle cx="259.74" cy="517.14" r="0.25" fill="#555"/>
<circle cx="297.11" cy="535.68" r="0.25" fill="#555"/>
<circle cx="301.07" cy="543.76" r="0.25" fill="#555"/>
<circle cx="277.38" cy="546.47" r="0.25" fill="#555"/>
<circle cx="268.63" cy="542.39" r="0.25" fill="#555"/>
<circle cx="276.36" cy="534.83" r="0.25" fill="#555"/>
<circle cx="285.17" cy="521.28" r="0.25" fill="#555"/>
<circle cx="307.95" cy="526.30" r="0.25" fill="#555"/>
<circle cx="288.75" cy="532.19" r="0.25" fill="#555"/>
<circle cx="298.87" cy="523.52" r="0.25" fill="#555"/>
<g transform="rotate(-22 288.00 529.50)">
<path d="M301.43,529.50 L301.24,531.06 L300.64,532.57 L299.50,533.93 L297.90,535.04 L296.12,535.95 L294.33,536.81 L292.50,537.74 L290.42,538.65 L288.00,539.25 L285.42,539.24 L283.05,538.56 L281.16,537.40 L279.70,536.09 L278.41,534.86 L277.08,533.70 L275.78,532.46 L274.81,531.05 L274.43,529.50 L274.65,527.93 L275.27,526.41 L276.11,524.93 L277.22,523.47 L278.76,522.16 L280.83,521.22 L283.27,520.83 L285.73,520.92 L288.00,521.25 L290.11,521.52 L292.29,521.64 L294.66,521.81 L297.06,522.30 L299.09,523.29 L300.46,524.70 L301.15,526.31 L301.40,527.92 L301.43,529.50Z" fill="none" stroke="#000" stroke-width="0.6" stroke-opacity="0.9"/>
<path d="M300.73,529.50 L300.16,530.93 L299.21,532.22 L298.20,533.42 L297.26,534.68 L296.22,536.03 L294.78,537.33 L292.79,538.27 L290.41,538.62 L288.00,538.36 L285.82,537.75 L283.88,537.05 L282.02,536.41 L280.16,535.73 L278.43,534.86 L277.04,533.72 L276.12,532.38 L275.56,530.96 L275.21,529.50 L275.03,527.98 L275.23,526.40 L276.10,524.92 L277.71,523.74 L279.82,523.00 L282.02,522.60 L284.06,522.29 L285.98,521.87 L288.00,521.35 L290.25,521.00 L292.60,521.07 L294.78,521.68 L296.56,522.70 L297.97,523.92 L299.13,525.21 L300.09,526.57 L300.69,528.01 L300.73,529.50Z" fill="none" stroke="#000" stroke-width="0.6" stroke-opacity="0.9"/>
<path d="M299.10,529.50 L298.86,530.78 L298.74,532.11 L298.53,533.55 L297.85,535.01 L296.47,536.23 L294.49,536.99 L292.24,537.27 L290.05,537.23 L288.00,537.11 L286.02,536.99 L284.03,536.78 L282.10,536.31 L280.40,535.54 L279.00,534.54 L277.80,533.43 L276.68,532.25 L275.67,530.95 L275.07,529.50 L275.19,527.99 L276.16,526.63 L277.72,525.54 L279.45,524.71 L281.03,523.96 L282.47,523.12 L284.02,522.21 L285.87,521.46 L288.00,521.09 L290.19,521.21 L292.25,521.72 L294.12,522.44 L295.85,523.26 L297.41,524.24 L298.61,525.42 L299.26,526.77 L299.34,528.17 L299.10,529.50Z" fill="none" stroke="#000" stroke-width="0.6" stroke-opacity="0.9"/>
<path d="M299.13,529.50 L298.58,530.74 L297.80,531.88 L297.05,532.98 L296.34,534.16 L295.44,535.41 L294.09,536.53 L292.24,537.26 L290.10,537.44 L288.00,537.16 L286.11,536.65 L284.38,536.14 L282.68,535.65 L281.00,535.06 L279.49,534.26 L278.32,533.22 L277.54,532.04 L277.00,530.79 L276.59,529.50 L276.38,528.13 L276.61,526.74 L277.52,525.47 L279.07,524.50 L280.95,523.90 L282.82,523.52 L284.53,523.14 L286.19,522.64 L288.00,522.13 L290.02,521.85 L292.09,522.01 L293.95,522.63 L295.49,523.55 L296.76,524.60 L297.85,525.71 L298.72,526.90 L299.20,528.18 L299.13,529.50Z" fill="none" stroke="#000" stroke-width="0.6" stroke-opacity="0.9"/>
<path d="M299.28,529.50 L298.73,530.76 L297.88,531.90 L296.93,532.94 L295.90,533.92 L294.67,534.80 L293.16,535.46 L291.47,535.85 L289.73,536.05 L288.00,536.19 L286.19,536.33 L284.25,536.37 L282.28,536.10 L280.58,535.39 L279.43,534.29 L278.87,533.01 L278.67,531.76 L278.50,530.62 L278.22,529.50 L277.99,528.32 L278.09,527.09 L278.70,525.92 L279.77,524.90 L281.13,524.04 L282.63,523.30 L284.26,522.66 L286.07,522.22 L288.00,522.15 L289.85,522.50 L291.45,523.18 L292.81,523.94 L294.12,524.64 L295.56,525.27 L297.11,525.99 L298.46,526.96 L299.24,528.18 L299.28,529.50Z" fill="none" stroke="#000" stroke-width="0.6" stroke-opacity="0.9"/>
<path d="M296.96,529.50 L297.19,530.58 L297.35,531.77 L297.10,533.00 L296.22,534.10 L294.77,534.88 L293.03,535.31 L291.28,535.51 L289.62,535.63 L288.00,535.74 L286.35,535.74 L284.72,535.52 L283.21,535.03 L281.89,534.36 L280.68,533.60 L279.49,532.78 L278.37,531.84 L277.58,530.73 L277.39,529.50 L277.91,528.31 L278.95,527.31 L280.15,526.48 L281.22,525.71 L282.18,524.88 L283.24,524.00 L284.58,523.24 L286.22,522.78 L288.00,522.69 L289.75,522.89 L291.41,523.25 L293.00,523.73 L294.47,524.36 L295.67,525.21 L296.44,526.25 L296.77,527.37 L296.85,528.46 L296.96,529.50Z" fill="none" stroke="#000" stroke-width="0.6" stroke-opacity="0.9"/>
<path d="M296.39,529.50 L296.73,530.53 L296.87,531.65 L296.52,532.78 L295.56,533.73 L294.14,534.38 L292.54,534.75 L290.99,534.98 L289.50,535.17 L288.00,535.31 L286.46,535.31 L284.97,535.06 L283.60,534.58 L282.37,533.98 L281.18,533.32 L279.99,532.58 L278.94,531.70 L278.30,530.64 L278.30,529.50 L278.91,528.43 L279.88,527.53 L280.86,526.75 L281.70,525.98 L282.51,525.14 L283.50,524.30 L284.80,523.64 L286.36,523.29 L288.00,523.25 L289.61,523.43 L291.15,523.72 L292.65,524.14 L293.99,524.74 L295.03,525.57 L295.66,526.55 L295.94,527.57 L296.12,528.55 L296.39,529.50Z" fill="none" stroke="#000" stroke-width="0.6" stroke-opacity="0.9"/>
<path d="M296.96,529.50 L296.56,530.51 L295.86,531.41 L295.06,532.22 L294.21,532.98 L293.24,533.67 L292.08,534.21 L290.75,534.54 L289.37,534.69 L288.00,534.75 L286.59,534.82 L285.09,534.83 L283.54,534.65 L282.14,534.15 L281.16,533.33 L280.67,532.32 L280.53,531.31 L280.48,530.38 L280.36,529.50 L280.21,528.58 L280.25,527.62 L280.68,526.68 L281.49,525.86 L282.57,525.19 L283.78,524.62 L285.07,524.14 L286.49,523.79 L288.00,523.68 L289.48,523.91 L290.77,524.43 L291.84,525.07 L292.82,525.67 L293.88,526.21 L295.05,526.79 L296.13,527.53 L296.84,528.46 L296.96,529.50Z" fill="none" stroke="#000" stroke-width="0.6" stroke-opacity="0.9"/>
<path d="M296.07,529.50 L295.66,530.40 L295.07,531.21 L294.41,531.97 L293.68,532.68 L292.79,533.30 L291.70,533.77 L290.48,534.04 L289.24,534.19 L288.00,534.31 L286.69,534.44 L285.29,534.47 L283.88,534.26 L282.68,533.72 L281.89,532.92 L281.51,532.00 L281.34,531.12 L281.18,530.30 L280.95,529.50 L280.77,528.65 L280.86,527.77 L281.32,526.93 L282.10,526.20 L283.07,525.58 L284.14,525.04 L285.31,524.57 L286.62,524.27 L288.00,524.23 L289.32,524.51 L290.46,525.00 L291.44,525.53 L292.40,526.00 L293.47,526.44 L294.60,526.96 L295.55,527.67 L296.07,528.55 L296.07,529.50Z" fill="none" stroke="#000" stroke-width="0.6" stroke-opacity="0.9"/>
<path d="M295.27,529.50 L294.90,530.31 L294.37,531.05 L293.78,531.73 L293.13,532.37 L292.32,532.93 L291.33,533.35 L290.24,533.60 L289.12,533.73 L288.00,533.84 L286.82,533.96 L285.55,533.98 L284.28,533.79 L283.21,533.31 L282.50,532.58 L282.15,531.75 L282.00,530.96 L281.85,530.22 L281.63,529.50 L281.47,528.73 L281.56,527.94 L281.98,527.18 L282.68,526.53 L283.55,525.97 L284.51,525.48 L285.57,525.05 L286.75,524.78 L288.00,524.75 L289.19,525.00 L290.22,525.44 L291.10,525.92 L291.97,526.34 L292.94,526.74 L293.96,527.21 L294.81,527.85 L295.28,528.64 L295.27,529.50Z" fill="none" stroke="#000" stroke-width="0.6" stroke-opacity="0.9"/>
<path d="M294.06,529.50 L293.98,530.20 L293.66,530.87 L293.09,531.46 L292.37,531.95 L291.63,532.39 L290.90,532.85 L290.10,533.34 L289.13,533.76 L288.00,533.95 L286.85,533.83 L285.85,533.44 L285.04,532.92 L284.35,532.40 L283.67,531.92 L282.99,531.43 L282.39,530.86 L282.02,530.20 L281.91,529.50 L282.02,528.80 L282.24,528.10 L282.56,527.41 L283.06,526.74 L283.83,526.18 L284.83,525.84 L285.94,525.73 L287.02,525.78 L288.00,525.85 L288.96,525.85 L290.00,525.83 L291.11,525.91 L292.16,526.20 L292.98,526.72 L293.51,527.38 L293.81,528.09 L293.98,528.80 L294.06,529.50Z" fill="none" stroke="#000" stroke-width="0.6" stroke-opacity="0.9"/>
<ellipse cx="288.00" cy="529.50" rx="8.10" ry="5.40" fill="#000"/>
<ellipse cx="288.00" cy="529.50" rx="2.97" ry="0.81" fill="#fff" fill-opacity="0.6"/>
</g>
<circle cx="274.99" cy="530.15" r="0.25" fill="#555"/>
<circle cx="276.24" cy="532.91" r="0.25" fill="#555"/>
<circle cx="278.44" cy="528.72" r="0.25" fill="#555"/>
<circle cx="272.02" cy="534.12" r="0.25" fill="#555"/>
<circle cx="272.51" cy="532.01" r="0.25" fill="#555"/>
<circle cx="280.43" cy="531.34" r="0.25" fill="#555"/>
<circle cx="279.99" cy="532.79" r="0.25" fill="#555"/>
<circle cx="267.36" cy="532.26" r="0.25" fill="#555"/>
<circle cx="277.02" cy="531.99" r="0.25" fill="#555"/>
<circle cx="278.94" cy="526.67" r="0.25" fill="#555"/>
<circle cx="271.59" cy="532.23" r="0.25" fill="#555"/>
<circle cx="278.87" cy="530.91" r="0.25" fill="#555"/>
<circle cx="273.52" cy="532.74" r="0.25" fill="#555"/>
<circle cx="272.95" cy="532.14" r="0.25" fill="#555"/>
<circle cx="269.31" cy="530.15" r="0.25" fill="#555"/>
<circle cx="280.41" cy="532.83" r="0.25" fill="#555"/>
<circle cx="270.26" cy="536.17" r="0.25" fill="#555"/>
<circle cx="260.36" cy="533.17" r="0.25" fill="#555"/>
<circle cx="268.17" cy="531.64" r="0.25" fill="#555"/>
<circle cx="271.08" cy="531.96" r="0.25" fill="#555"/>
<circle cx="268.47" cy="534.72" r="0.25" fill="#555"/>
<circle cx="280.49" cy="529.50" r="0.25" fill="#555"/>
<circle cx="269.91" cy="531.61" r="0.25" fill="#555"/>
<circle cx="271.98" cy="530.44" r="0.25" fill="#555"/>
<circle cx="274.27" cy="527.07" r="0.25" fill="#555"/>
<circle cx="276.80" cy="533.89" r="0.25" fill="#555"/>
<circle cx="267.92" cy="534.39" r="0.25" fill="#555"/>
<circle cx="266.20" cy="530.64" r="0.25" fill="#555"/>
<circle cx="269.75" cy="531.12" r="0.25" fill="#555"/>
<circle cx="276.39" cy="533.48" r="0.25" fill="#555"/>
<g>
<path d="M279.10,531.50 L279.03,532.06 L278.78,532.58 L278.35,533.04 L277.83,533.42 L277.30,533.78 L276.77,534.17 L276.17,534.56 L275.44,534.89 L274.60,535.02 L273.76,534.90 L273.02,534.59 L272.42,534.18 L271.90,533.79 L271.38,533.42 L270.87,533.03 L270.43,532.58 L270.17,532.06 L270.10,531.50 L270.17,530.94 L270.32,530.39 L270.55,529.84 L270.93,529.31 L271.51,528.88 L272.27,528.62 L273.09,528.55 L273.88,528.58 L274.60,528.62 L275.32,528.60 L276.10,528.57 L276.92,528.64 L277.69,528.88 L278.28,529.31 L278.66,529.83 L278.89,530.39 L279.03,530.94 L279.10,531.50Z" fill="none" stroke="#000" stroke-width="0.6" stroke-opacity="0.9"/>
<path d="M278.66,531.50 L278.47,531.99 L278.28,532.45 L278.13,532.95 L277.92,533.48 L277.54,533.99 L276.94,534.38 L276.17,534.56 L275.36,534.55 L274.60,534.44 L273.90,534.31 L273.22,534.19 L272.55,534.03 L271.91,533.78 L271.38,533.42 L270.98,532.99 L270.66,532.52 L270.38,532.03 L270.16,531.50 L270.09,530.93 L270.29,530.39 L270.76,529.93 L271.41,529.60 L272.08,529.36 L272.68,529.14 L273.26,528.88 L273.88,528.60 L274.60,528.39 L275.38,528.36 L276.13,528.51 L276.80,528.79 L277.38,529.15 L277.90,529.53 L278.35,529.96 L278.65,530.45 L278.75,530.98 L278.66,531.50Z" fill="none" stroke="#000" stroke-width="0.6" stroke-opacity="0.9"/>
<path d="M278.63,531.50 L278.51,531.99 L278.22,532.44 L277.84,532.83 L277.45,533.20 L277.07,533.59 L276.63,534.00 L276.07,534.37 L275.36,534.58 L274.60,534.58 L273.88,534.39 L273.27,534.10 L272.72,533.81 L272.19,533.54 L271.66,533.25 L271.19,532.90 L270.85,532.47 L270.67,531.99 L270.62,531.50 L270.62,531.00 L270.69,530.49 L270.90,529.98 L271.31,529.54 L271.92,529.23 L272.63,529.07 L273.33,529.02 L273.97,528.97 L274.60,528.89 L275.27,528.78 L276.01,528.75 L276.73,528.88 L277.34,529.18 L277.80,529.59 L278.12,530.05 L278.38,530.52 L278.56,531.00 L278.63,531.50Z" fill="none" stroke="#000" stroke-width="0.6" stroke-opacity="0.9"/>
<path d="M278.37,531.50 L278.24,531.96 L277.95,532.37 L277.61,532.74 L277.28,533.10 L276.95,533.50 L276.55,533.90 L276.00,534.23 L275.32,534.39 L274.60,534.35 L273.94,534.16 L273.37,533.91 L272.84,533.66 L272.32,533.43 L271.81,533.16 L271.38,532.82 L271.09,532.41 L270.93,531.96 L270.86,531.50 L270.84,531.03 L270.89,530.54 L271.11,530.07 L271.53,529.67 L272.12,529.40 L272.79,529.27 L273.43,529.21 L274.01,529.13 L274.60,529.01 L275.25,528.90 L275.94,528.88 L276.60,529.04 L277.15,529.34 L277.57,529.73 L277.89,530.15 L278.15,530.58 L278.33,531.03 L278.37,531.50Z" fill="none" stroke="#000" stroke-width="0.6" stroke-opacity="0.9"/>
<path d="M278.11,531.50 L278.06,531.93 L277.86,532.34 L277.53,532.70 L277.12,533.00 L276.70,533.28 L276.29,533.58 L275.82,533.88 L275.25,534.14 L274.60,534.24 L273.94,534.16 L273.36,533.91 L272.90,533.60 L272.49,533.29 L272.09,533.00 L271.69,532.69 L271.35,532.34 L271.14,531.93 L271.09,531.50 L271.15,531.07 L271.27,530.64 L271.45,530.21 L271.74,529.79 L272.19,529.46 L272.78,529.25 L273.42,529.19 L274.03,529.22 L274.60,529.25 L275.16,529.24 L275.77,529.22 L276.41,529.27 L277.01,529.46 L277.47,529.79 L277.77,530.20 L277.95,530.63 L278.05,531.07 L278.11,531.50Z" fill="none" stroke="#000" stroke-width="0.6" stroke-opacity="0.9"/>
<path d="M278.01,531.50 L277.84,531.91 L277.62,532.28 L277.38,532.64 L277.07,532.97 L276.66,533.25 L276.18,533.44 L275.66,533.56 L275.14,533.66 L274.60,533.76 L274.02,533.84 L273.40,533.85 L272.81,533.71 L272.34,533.41 L272.05,533.02 L271.89,532.61 L271.77,532.23 L271.63,531.87 L271.49,531.50 L271.41,531.10 L271.49,530.70 L271.73,530.32 L272.07,529.99 L272.47,529.69 L272.91,529.42 L273.43,529.20 L274.00,529.09 L274.60,529.12 L275.15,529.27 L275.63,529.49 L276.07,529.69 L276.54,529.86 L277.05,530.04 L277.54,530.29 L277.90,530.64 L278.06,531.07 L278.01,531.50Z" fill="none" stroke="#000" stroke-width="0.6" stroke-opacity="0.9"/>
<path d="M277.65,531.50 L277.54,531.87 L277.40,532.22 L277.19,532.56 L276.88,532.86 L276.47,533.09 L276.02,533.25 L275.57,533.39 L275.11,533.54 L274.60,533.68 L274.04,533.76 L273.47,533.71 L272.97,533.51 L272.61,533.19 L272.37,532.83 L272.18,532.49 L271.98,532.18 L271.77,531.85 L271.62,531.50 L271.60,531.12 L271.73,530.76 L271.97,530.42 L272.26,530.10 L272.60,529.80 L273.01,529.54 L273.51,529.36 L274.06,529.32 L274.60,529.39 L275.09,529.54 L275.53,529.68 L275.98,529.80 L276.48,529.90 L276.99,530.08 L277.40,530.35 L277.65,530.71 L277.71,531.11 L277.65,531.50Z" fill="none" stroke="#000" stroke-width="0.6" stroke-opacity="0.9"/>
<path d="M277.21,531.50 L277.34,531.84 L277.37,532.22 L277.22,532.58 L276.89,532.87 L276.44,533.06 L275.97,533.18 L275.51,533.28 L275.06,533.36 L274.60,533.41 L274.13,533.40 L273.68,533.31 L273.26,533.15 L272.87,532.96 L272.49,532.76 L272.11,532.52 L271.79,532.23 L271.63,531.87 L271.68,531.50 L271.89,531.16 L272.17,530.87 L272.43,530.61 L272.65,530.34 L272.88,530.05 L273.20,529.77 L273.62,529.58 L274.10,529.48 L274.60,529.48 L275.09,529.52 L275.57,529.61 L276.03,529.74 L276.43,529.95 L276.73,530.23 L276.90,530.56 L276.99,530.88 L277.08,531.19 L277.21,531.50Z" fill="none" stroke="#000" stroke-width="0.6" stroke-opacity="0.9"/>
<path d="M277.11,531.50 L277.00,531.80 L276.82,532.07 L276.61,532.33 L276.43,532.59 L276.22,532.87 L275.94,533.15 L275.55,533.35 L275.08,533.42 L274.60,533.37 L274.17,533.24 L273.79,533.09 L273.42,532.95 L273.05,532.81 L272.71,532.63 L272.43,532.39 L272.25,532.11 L272.14,531.81 L272.07,531.50 L272.04,531.18 L272.08,530.85 L272.25,530.53 L272.57,530.29 L272.98,530.13 L273.42,530.04 L273.82,529.98 L274.20,529.89 L274.60,529.79 L275.04,529.71 L275.51,529.72 L275.94,529.85 L276.29,530.07 L276.57,530.32 L276.80,530.60 L276.99,530.88 L277.11,531.19 L277.11,531.50Z" fill="none" stroke="#000" stroke-width="0.6" stroke-opacity="0.9"/>
<path d="M276.68,531.50 L276.68,531.76 L276.70,532.04 L276.66,532.35 L276.50,532.63 L276.19,532.85 L275.80,532.97 L275.38,533.02 L274.98,533.03 L274.60,533.03 L274.22,533.03 L273.84,532.98 L273.48,532.88 L273.17,532.71 L272.90,532.51 L272.65,532.30 L272.41,532.07 L272.21,531.80 L272.13,531.50 L272.21,531.20 L272.43,530.94 L272.73,530.73 L273.02,530.56 L273.27,530.37 L273.52,530.17 L273.82,529.98 L274.19,529.85 L274.60,529.80 L275.01,529.85 L275.39,529.95 L275.76,530.08 L276.09,530.23 L276.39,530.43 L276.59,530.68 L276.68,530.96 L276.69,531.24 L276.68,531.50Z" fill="none" stroke="#000" stroke-width="0.6" stroke-opacity="0.9"/>
<path d="M276.63,531.50 L276.57,531.75 L276.48,531.99 L276.34,532.21 L276.12,532.41 L275.85,532.56 L275.55,532.67 L275.25,532.78 L274.94,532.89 L274.60,532.99 L274.22,533.04 L273.84,532.99 L273.52,532.83 L273.29,532.61 L273.12,532.38 L272.98,532.16 L272.83,531.96 L272.68,531.74 L272.58,531.50 L272.59,531.25 L272.68,531.00 L272.83,530.77 L273.02,530.56 L273.24,530.35 L273.53,530.18 L273.87,530.07 L274.24,530.05 L274.60,530.11 L274.92,530.20 L275.22,530.28 L275.54,530.34 L275.89,530.41 L276.23,530.53 L276.49,530.72 L276.63,530.97 L276.67,531.24 L276.63,531.50Z" fill="none" stroke="#000" stroke-width="0.6" stroke-opacity="0.9"/>
<ellipse cx="274.60" cy="531.50" rx="2.70" ry="1.92" fill="#000"/>
<ellipse cx="274.60" cy="531.50" rx="0.99" ry="0.29" fill="#fff" fill-opacity="0.6"/>
</g>
<rect x="260.70" y="493.40" width="20.80" height="26.40" fill="none" stroke="#333" stroke-width="0.5"/>
<rect x="279.50" y="519.80" width="27.00" height="21.80" fill="none" stroke="#333" stroke-width="0.5"/>
<text x="284.80" y="504.10" font-size="6.15">35.0</text>
<text x="299.50" y="517.50" font-size="6.15">54.7</text>
<text x="346.40" y="486.70" font-size="7.42" text-anchor="middle" textLength="21.50" lengthAdjust="spacingAndGlyphs">Tumor</text>
<rect x="315.60" y="488.70" width="56.90" height="56.50" fill="none" stroke="#777" stroke-width="0.8"/>
<circle cx="329.10" cy="516.57" r="0.25" fill="#555"/>
<circle cx="333.50" cy="506.95" r="0.25" fill="#555"/>
<circle cx="335.15" cy="515.85" r="0.25" fill="#555"/>
<circle cx="321.16" cy="523.24" r="0.25" fill="#555"/>
<circle cx="331.17" cy="516.20" r="0.25" fill="#555"/>
<circle cx="317.34" cy="512.51" r="0.25" fill="#555"/>
<circle cx="323.76" cy="502.08" r="0.25" fill="#555"/>
<circle cx="328.56" cy="504.42" r="0.25" fill="#555"/>
<circle cx="324.06" cy="505.76" r="0.25" fill="#555"/>
<circle cx="333.00" cy="489.45" r="0.25" fill="#555"/>
<circle cx="327.91" cy="532.28" r="0.25" fill="#555"/>
<circle cx="327.28" cy="523.02" r="0.25" fill="#555"/>
<circle cx="338.87" cy="507.31" r="0.25" fill="#555"/>
<circle cx="346.25" cy="535.24" r="0.25" fill="#555"/>
<circle cx="321.47" cy="525.00" r="0.25" fill="#555"/>
<circle cx="330.90" cy="516.13" r="0.25" fill="#555"/>
<circle cx="322.36" cy="511.95" r="0.25" fill="#555"/>
<circle cx="330.58" cy="487.00" r="0.25" fill="#555"/>
<circle cx="324.05" cy="503.77" r="0.25" fill="#555"/>
<circle cx="322.97" cy="501.87" r="0.25" fill="#555"/>
<circle cx="321.85" cy="520.37" r="0.25" fill="#555"/>
<circle cx="322.48" cy="516.81" r="0.25" fill="#555"/>
<circle cx="335.70" cy="506.37" r="0.25" fill="#555"/>
<circle cx="335.11" cy="513.43" r="0.25" fill="#555"/>
<circle cx="326.13" cy="485.95" r="0.25" fill="#555"/>
<circle cx="338.34" cy="501.42" r="0.25" fill="#555"/>
<circle cx="331.69" cy="501.28" r="0.25" fill="#555"/>
<circle cx="327.07" cy="516.91" r="0.25" fill="#555"/>
<circle cx="321.14" cy="511.53" r="0.25" fill="#555"/>
<circle cx="326.20" cy="486.03" r="0.25" fill="#555"/>
<g>
<path d="M335.71,510.50 L336.05,513.15 L335.97,515.90 L335.36,518.37 L334.36,520.27 L333.19,521.61 L332.03,522.65 L330.90,523.59 L329.73,524.36 L328.50,524.70 L327.26,524.44 L326.09,523.66 L324.98,522.61 L323.87,521.45 L322.75,520.09 L321.72,518.28 L321.01,515.92 L320.81,513.19 L321.11,510.50 L321.68,508.11 L322.25,505.98 L322.72,503.87 L323.18,501.63 L323.81,499.39 L324.73,497.54 L325.91,496.34 L327.20,495.80 L328.50,495.70 L329.80,495.88 L331.08,496.41 L332.28,497.49 L333.26,499.23 L333.93,501.45 L334.36,503.78 L334.73,506.00 L335.19,508.16 L335.71,510.50Z" fill="none" stroke="#000" stroke-width="0.6" stroke-opacity="0.9"/>
<path d="M335.39,510.50 L335.23,512.86 L334.94,515.16 L334.42,517.29 L333.65,519.09 L332.71,520.47 L331.73,521.60 L330.74,522.74 L329.69,523.95 L328.50,524.95 L327.19,525.27 L325.92,524.58 L324.88,522.96 L324.12,520.87 L323.54,518.77 L322.98,516.83 L322.39,514.91 L321.87,512.82 L321.59,510.50 L321.64,508.10 L321.98,505.78 L322.47,503.59 L323.08,501.47 L323.84,499.47 L324.83,497.87 L326.02,496.99 L327.30,496.96 L328.50,497.55 L329.58,498.28 L330.64,498.82 L331.78,499.23 L332.99,499.88 L334.11,501.15 L334.93,503.13 L335.36,505.54 L335.46,508.06 L335.39,510.50Z" fill="none" stroke="#000" stroke-width="0.6" stroke-opacity="0.9"/>
<path d="M335.53,510.50 L335.23,512.86 L334.68,514.96 L334.03,516.84 L333.36,518.60 L332.60,520.20 L331.69,521.49 L330.66,522.28 L329.58,522.63 L328.50,522.74 L327.40,522.84 L326.24,522.85 L325.02,522.46 L323.92,521.34 L323.12,519.46 L322.72,517.13 L322.61,514.76 L322.60,512.57 L322.54,510.50 L322.44,508.38 L322.46,506.14 L322.78,503.94 L323.40,502.00 L324.25,500.43 L325.20,499.13 L326.21,498.03 L327.32,497.21 L328.50,496.93 L329.66,497.42 L330.68,498.60 L331.52,500.11 L332.27,501.57 L333.08,502.87 L333.97,504.23 L334.82,505.93 L335.40,508.08 L335.53,510.50Z" fill="none" stroke="#000" stroke-width="0.6" stroke-opacity="0.9"/>
<path d="M334.08,510.50 L334.06,512.45 L334.09,514.54 L333.99,516.79 L333.58,518.96 L332.79,520.65 L331.73,521.62 L330.60,521.97 L329.52,522.01 L328.50,521.99 L327.49,521.92 L326.47,521.59 L325.50,520.81 L324.66,519.58 L323.95,518.09 L323.29,516.47 L322.66,514.72 L322.14,512.73 L321.89,510.50 L322.06,508.24 L322.63,506.26 L323.43,504.69 L324.24,503.39 L324.95,502.10 L325.64,500.65 L326.43,499.22 L327.40,498.16 L328.50,497.77 L329.60,498.08 L330.64,498.84 L331.60,499.84 L332.50,501.03 L333.29,502.52 L333.85,504.36 L334.12,506.44 L334.14,508.52 L334.08,510.50Z" fill="none" stroke="#000" stroke-width="0.6" stroke-opacity="0.9"/>
<path d="M334.34,510.50 L334.08,512.46 L333.77,514.31 L333.37,516.09 L332.81,517.69 L332.07,518.95 L331.21,519.84 L330.33,520.49 L329.44,521.12 L328.50,521.79 L327.46,522.24 L326.37,522.12 L325.39,521.20 L324.66,519.60 L324.19,517.68 L323.88,515.80 L323.58,514.06 L323.23,512.34 L322.95,510.50 L322.87,508.53 L323.07,506.57 L323.51,504.78 L324.09,503.15 L324.75,501.62 L325.52,500.25 L326.44,499.24 L327.47,498.85 L328.50,499.17 L329.44,499.97 L330.27,500.87 L331.08,501.61 L331.98,502.27 L332.92,503.14 L333.74,504.49 L334.28,506.32 L334.45,508.42 L334.34,510.50Z" fill="none" stroke="#000" stroke-width="0.6" stroke-opacity="0.9"/>
<path d="M333.81,510.50 L333.70,512.32 L333.36,514.01 L332.84,515.47 L332.26,516.77 L331.70,518.08 L331.11,519.49 L330.40,520.86 L329.50,521.81 L328.50,522.02 L327.53,521.44 L326.70,520.35 L325.99,519.13 L325.33,518.00 L324.67,516.89 L324.04,515.62 L323.56,514.07 L323.29,512.32 L323.23,510.50 L323.28,508.67 L323.41,506.82 L323.67,504.96 L324.15,503.25 L324.90,501.97 L325.82,501.29 L326.78,501.10 L327.67,501.11 L328.50,500.99 L329.37,500.73 L330.32,500.59 L331.28,500.92 L332.14,501.89 L332.78,503.37 L333.21,505.10 L333.50,506.88 L333.72,508.67 L333.81,510.50Z" fill="none" stroke="#000" stroke-width="0.6" stroke-opacity="0.9"/>
<path d="M333.41,510.50 L333.30,512.18 L332.97,513.73 L332.49,515.07 L331.97,516.29 L331.48,517.54 L330.94,518.89 L330.27,520.16 L329.43,520.99 L328.50,521.10 L327.61,520.52 L326.85,519.52 L326.19,518.44 L325.57,517.44 L324.94,516.43 L324.36,515.25 L323.93,513.81 L323.69,512.18 L323.63,510.50 L323.67,508.81 L323.77,507.08 L324.01,505.36 L324.48,503.80 L325.19,502.66 L326.05,502.07 L326.92,501.90 L327.73,501.85 L328.50,501.67 L329.31,501.38 L330.19,501.26 L331.08,501.61 L331.86,502.55 L332.43,503.94 L332.83,505.53 L333.12,507.16 L333.33,508.81 L333.41,510.50Z" fill="none" stroke="#000" stroke-width="0.6" stroke-opacity="0.9"/>
<path d="M333.01,510.50 L332.87,512.03 L332.53,513.42 L332.11,514.64 L331.70,515.83 L331.29,517.10 L330.80,518.42 L330.16,519.55 L329.36,520.16 L328.50,520.09 L327.70,519.46 L327.02,518.59 L326.40,517.73 L325.79,516.92 L325.19,516.02 L324.66,514.90 L324.30,513.54 L324.11,512.04 L324.03,510.50 L324.02,508.93 L324.10,507.32 L324.34,505.73 L324.82,504.36 L325.51,503.43 L326.31,502.97 L327.09,502.79 L327.80,502.59 L328.50,502.25 L329.26,501.90 L330.09,501.83 L330.89,502.28 L331.56,503.26 L332.06,504.56 L332.44,505.98 L332.74,507.44 L332.95,508.94 L333.01,510.50Z" fill="none" stroke="#000" stroke-width="0.6" stroke-opacity="0.9"/>
<path d="M332.61,510.50 L332.47,511.89 L332.16,513.15 L331.78,514.27 L331.42,515.36 L331.05,516.54 L330.61,517.75 L330.01,518.77 L329.28,519.29 L328.50,519.20 L327.78,518.62 L327.16,517.84 L326.59,517.08 L326.03,516.36 L325.47,515.54 L325.00,514.51 L324.68,513.27 L324.50,511.90 L324.43,510.50 L324.41,509.07 L324.48,507.59 L324.70,506.15 L325.15,504.92 L325.79,504.10 L326.52,503.69 L327.22,503.51 L327.86,503.30 L328.50,502.96 L329.20,502.62 L329.95,502.58 L330.68,503.01 L331.28,503.92 L331.74,505.10 L332.08,506.39 L332.36,507.71 L332.55,509.08 L332.61,510.50Z" fill="none" stroke="#000" stroke-width="0.6" stroke-opacity="0.9"/>
<path d="M332.45,510.50 L332.26,511.82 L331.96,513.00 L331.63,514.09 L331.27,515.11 L330.83,516.02 L330.31,516.71 L329.71,517.12 L329.11,517.33 L328.50,517.47 L327.87,517.62 L327.19,517.66 L326.50,517.39 L325.90,516.65 L325.50,515.50 L325.30,514.17 L325.23,512.86 L325.17,511.67 L325.08,510.50 L325.00,509.27 L325.03,507.99 L325.24,506.76 L325.62,505.70 L326.09,504.81 L326.62,504.03 L327.19,503.36 L327.83,502.91 L328.50,502.83 L329.15,503.20 L329.71,503.90 L330.18,504.70 L330.64,505.43 L331.15,506.09 L331.69,506.84 L332.16,507.85 L332.43,509.12 L332.45,510.50Z" fill="none" stroke="#000" stroke-width="0.6" stroke-opacity="0.9"/>
<path d="M332.05,510.50 L332.01,511.73 L331.76,512.86 L331.38,513.80 L330.97,514.61 L330.55,515.35 L330.10,516.01 L329.60,516.52 L329.06,516.76 L328.50,516.76 L327.96,516.63 L327.41,516.46 L326.83,516.24 L326.25,515.83 L325.75,515.09 L325.42,514.03 L325.32,512.80 L325.37,511.59 L325.48,510.50 L325.54,509.46 L325.59,508.39 L325.69,507.28 L325.93,506.22 L326.32,505.35 L326.82,504.71 L327.36,504.25 L327.92,503.91 L328.50,503.71 L329.10,503.78 L329.65,504.20 L330.12,504.94 L330.47,505.83 L330.78,506.70 L331.11,507.50 L331.49,508.34 L331.84,509.33 L332.05,510.50Z" fill="none" stroke="#000" stroke-width="0.6" stroke-opacity="0.9"/>
<ellipse cx="328.50" cy="510.50" rx="4.38" ry="8.70" fill="#000"/>
<ellipse cx="328.50" cy="510.50" rx="1.61" ry="1.30" fill="#fff" fill-opacity="0.6"/>
</g>
<circle cx="327.46" cy="530.74" r="0.25" fill="#555"/>
<circle cx="366.46" cy="527.32" r="0.25" fill="#555"/>
<circle cx="352.71" cy="521.58" r="0.25" fill="#555"/>
<circle cx="332.31" cy="534.14" r="0.25" fill="#555"/>
<circle cx="357.59" cy="556.54" r="0.25" fill="#555"/>
<circle cx="347.88" cy="523.45" r="0.25" fill="#555"/>
<circle cx="365.38" cy="518.28" r="0.25" fill="#555"/>
<circle cx="344.62" cy="528.93" r="0.25" fill="#555"/>
<circle cx="337.84" cy="545.16" r="0.25" fill="#555"/>
<circle cx="348.51" cy="530.07" r="0.25" fill="#555"/>
<circle cx="346.83" cy="531.73" r="0.25" fill="#555"/>
<circle cx="363.91" cy="532.22" r="0.25" fill="#555"/>
<circle cx="342.91" cy="534.63" r="0.25" fill="#555"/>
<circle cx="340.58" cy="523.44" r="0.25" fill="#555"/>
<circle cx="350.58" cy="520.20" r="0.25" fill="#555"/>
<circle cx="326.45" cy="532.64" r="0.25" fill="#555"/>
<circle cx="338.89" cy="551.85" r="0.25" fill="#555"/>
<circle cx="360.67" cy="516.04" r="0.25" fill="#555"/>
<circle cx="331.54" cy="530.32" r="0.25" fill="#555"/>
<circle cx="366.18" cy="530.21" r="0.25" fill="#555"/>
<circle cx="336.92" cy="528.49" r="0.25" fill="#555"/>
<circle cx="343.09" cy="534.34" r="0.25" fill="#555"/>
<circle cx="356.39" cy="526.20" r="0.25" fill="#555"/>
<circle cx="349.27" cy="541.22" r="0.25" fill="#555"/>
<circle cx="325.05" cy="524.79" r="0.25" fill="#555"/>
<circle cx="318.72" cy="518.54" r="0.25" fill="#555"/>
<circle cx="350.77" cy="530.96" r="0.25" fill="#555"/>
<circle cx="329.68" cy="538.94" r="0.25" fill="#555"/>
<circle cx="341.13" cy="562.11" r="0.25" fill="#555"/>
<circle cx="357.43" cy="531.06" r="0.25" fill="#555"/>
<g>
<path d="M365.13,533.00 L364.77,534.83 L364.00,536.61 L362.56,538.25 L360.44,539.61 L357.93,540.67 L355.35,541.58 L352.76,542.53 L349.94,543.53 L346.70,544.29 L343.17,544.46 L339.82,543.83 L337.10,542.53 L335.09,540.93 L333.47,539.36 L331.87,537.91 L330.20,536.44 L328.81,534.81 L328.13,533.00 L328.33,531.14 L329.23,529.36 L330.51,527.65 L332.10,525.98 L334.15,524.43 L336.85,523.22 L340.10,522.61 L343.51,522.65 L346.70,523.09 L349.60,523.59 L352.47,523.91 L355.60,524.17 L358.87,524.69 L361.82,525.73 L363.91,527.31 L364.97,529.19 L365.25,531.13 L365.13,533.00Z" fill="none" stroke="#000" stroke-width="0.6" stroke-opacity="0.9"/>
<path d="M364.23,533.00 L363.55,534.70 L362.23,536.24 L360.70,537.63 L359.24,539.03 L357.74,540.54 L355.83,542.06 L353.22,543.26 L350.03,543.82 L346.70,543.62 L343.66,542.89 L341.00,541.98 L338.53,541.11 L336.06,540.27 L333.68,539.26 L331.70,537.96 L330.37,536.41 L329.63,534.72 L329.26,533.00 L329.12,531.22 L329.38,529.39 L330.42,527.61 L332.45,526.15 L335.26,525.19 L338.35,524.71 L341.26,524.44 L343.96,524.09 L346.70,523.59 L349.73,523.16 L352.96,523.15 L356.01,523.76 L358.53,524.92 L360.46,526.38 L361.98,527.94 L363.22,529.55 L364.07,531.25 L364.23,533.00Z" fill="none" stroke="#000" stroke-width="0.6" stroke-opacity="0.9"/>
<path d="M362.59,533.00 L361.79,534.52 L360.93,535.97 L360.20,537.46 L359.36,539.09 L357.97,540.69 L355.73,541.97 L352.82,542.63 L349.67,542.66 L346.70,542.29 L343.99,541.81 L341.39,541.36 L338.80,540.84 L336.32,540.09 L334.23,538.99 L332.65,537.65 L331.46,536.18 L330.47,534.64 L329.66,533.00 L329.36,531.25 L329.98,529.51 L331.68,528.03 L334.14,526.96 L336.80,526.24 L339.27,525.62 L341.55,524.90 L343.95,524.08 L346.70,523.42 L349.71,523.23 L352.65,523.63 L355.26,524.50 L357.49,525.63 L359.46,526.87 L361.17,528.21 L362.41,529.72 L362.90,531.36 L362.59,533.00Z" fill="none" stroke="#000" stroke-width="0.6" stroke-opacity="0.9"/>
<path d="M362.09,533.00 L361.39,534.48 L360.25,535.83 L359.05,537.09 L357.94,538.40 L356.69,539.82 L354.93,541.17 L352.50,542.13 L349.61,542.47 L346.70,542.19 L344.07,541.56 L341.71,540.85 L339.45,540.19 L337.19,539.49 L335.09,538.58 L333.43,537.39 L332.32,536.00 L331.64,534.52 L331.19,533.00 L330.96,531.41 L331.22,529.77 L332.29,528.23 L334.27,527.02 L336.83,526.26 L339.48,525.84 L341.94,525.50 L344.25,525.04 L346.70,524.49 L349.43,524.12 L352.28,524.22 L354.90,524.86 L357.05,525.93 L358.76,527.20 L360.18,528.54 L361.35,529.94 L362.07,531.45 L362.09,533.00Z" fill="none" stroke="#000" stroke-width="0.6" stroke-opacity="0.9"/>
<path d="M360.08,533.00 L360.62,534.41 L360.85,535.95 L360.30,537.50 L358.76,538.80 L356.49,539.69 L353.95,540.20 L351.47,540.51 L349.09,540.77 L346.70,540.97 L344.25,540.96 L341.86,540.62 L339.68,539.97 L337.71,539.14 L335.82,538.23 L333.93,537.23 L332.25,536.01 L331.23,534.56 L331.22,533.00 L332.20,531.53 L333.73,530.30 L335.30,529.23 L336.65,528.17 L337.94,527.02 L339.52,525.88 L341.60,524.97 L344.08,524.49 L346.70,524.43 L349.26,524.67 L351.73,525.08 L354.11,525.65 L356.26,526.47 L357.92,527.60 L358.92,528.96 L359.37,530.36 L359.65,531.69 L360.08,533.00Z" fill="none" stroke="#000" stroke-width="0.6" stroke-opacity="0.9"/>
<path d="M360.07,533.00 L359.91,534.33 L359.21,535.61 L357.97,536.73 L356.38,537.65 L354.72,538.48 L353.09,539.34 L351.31,540.25 L349.18,541.04 L346.70,541.44 L344.16,541.24 L341.92,540.53 L340.12,539.53 L338.61,538.52 L337.15,537.59 L335.67,536.65 L334.35,535.58 L333.50,534.33 L333.25,533.00 L333.49,531.67 L334.00,530.35 L334.73,529.04 L335.83,527.77 L337.48,526.70 L339.67,526.03 L342.13,525.81 L344.52,525.91 L346.70,526.07 L348.82,526.11 L351.09,526.08 L353.53,526.22 L355.86,526.75 L357.70,527.71 L358.90,528.96 L359.56,530.32 L359.92,531.66 L360.07,533.00Z" fill="none" stroke="#000" stroke-width="0.6" stroke-opacity="0.9"/>
<path d="M360.00,533.00 L359.99,534.34 L359.11,535.59 L357.67,536.63 L356.05,537.49 L354.42,538.27 L352.73,538.98 L350.86,539.54 L348.80,539.84 L346.70,539.85 L344.65,539.68 L342.60,539.45 L340.47,539.18 L338.29,538.74 L336.34,537.98 L335.02,536.86 L334.54,535.54 L334.75,534.21 L335.21,533.00 L335.58,531.88 L335.82,530.73 L336.20,529.53 L337.06,528.36 L338.49,527.39 L340.33,526.68 L342.38,526.20 L344.50,525.85 L346.70,525.64 L348.95,525.69 L351.08,526.10 L352.87,526.88 L354.22,527.86 L355.33,528.85 L356.49,529.76 L357.84,530.68 L359.16,531.74 L360.00,533.00Z" fill="none" stroke="#000" stroke-width="0.6" stroke-opacity="0.9"/>
<path d="M358.67,533.00 L358.06,534.15 L357.26,535.20 L356.37,536.20 L355.29,537.13 L353.90,537.92 L352.22,538.48 L350.40,538.82 L348.57,539.06 L346.70,539.30 L344.69,539.52 L342.54,539.55 L340.46,539.20 L338.78,538.41 L337.71,537.32 L337.16,536.16 L336.81,535.06 L336.39,534.04 L335.92,533.00 L335.65,531.88 L335.88,530.74 L336.66,529.68 L337.86,528.75 L339.28,527.93 L340.84,527.19 L342.62,526.57 L344.61,526.22 L346.70,526.26 L348.65,526.68 L350.32,527.30 L351.83,527.90 L353.40,528.42 L355.14,528.94 L356.87,529.64 L358.19,530.60 L358.80,531.78 L358.67,533.00Z" fill="none" stroke="#000" stroke-width="0.6" stroke-opacity="0.9"/>
<path d="M356.46,533.00 L356.92,534.03 L357.05,535.16 L356.51,536.25 L355.28,537.13 L353.61,537.72 L351.83,538.09 L350.10,538.36 L348.42,538.60 L346.70,538.76 L344.94,538.73 L343.24,538.45 L341.68,537.98 L340.24,537.41 L338.80,536.80 L337.38,536.08 L336.20,535.19 L335.59,534.12 L335.74,533.00 L336.52,531.97 L337.58,531.10 L338.57,530.31 L339.41,529.49 L340.29,528.63 L341.47,527.81 L343.02,527.20 L344.83,526.91 L346.70,526.89 L348.53,527.04 L350.32,527.29 L352.04,527.70 L353.56,528.32 L354.67,529.17 L355.33,530.15 L355.67,531.13 L356.00,532.06 L356.46,533.00Z" fill="none" stroke="#000" stroke-width="0.6" stroke-opacity="0.9"/>
<path d="M356.01,533.00 L355.83,533.92 L355.44,534.82 L354.71,535.65 L353.64,536.33 L352.37,536.87 L351.07,537.33 L349.76,537.82 L348.34,538.32 L346.70,538.71 L344.92,538.79 L343.23,538.47 L341.85,537.81 L340.84,537.00 L340.02,536.21 L339.21,535.48 L338.36,534.74 L337.66,533.91 L337.32,533.00 L337.43,532.06 L337.88,531.16 L338.52,530.30 L339.32,529.45 L340.36,528.67 L341.72,528.06 L343.37,527.76 L345.09,527.78 L346.70,528.00 L348.16,528.25 L349.62,528.41 L351.20,528.54 L352.85,528.80 L354.34,529.33 L355.39,530.13 L355.92,531.08 L356.06,532.05 L356.01,533.00Z" fill="none" stroke="#000" stroke-width="0.6" stroke-opacity="0.9"/>
<path d="M355.72,533.00 L355.58,533.90 L354.91,534.71 L353.95,535.40 L352.93,536.00 L351.90,536.55 L350.77,537.04 L349.49,537.40 L348.11,537.57 L346.70,537.56 L345.32,537.48 L343.92,537.38 L342.43,537.23 L340.96,536.92 L339.71,536.36 L338.95,535.56 L338.72,534.66 L338.86,533.79 L339.07,533.00 L339.18,532.24 L339.26,531.45 L339.53,530.63 L340.18,529.86 L341.19,529.24 L342.45,528.78 L343.80,528.43 L345.21,528.17 L346.70,528.02 L348.21,528.09 L349.61,528.42 L350.76,528.97 L351.66,529.61 L352.47,530.23 L353.37,530.79 L354.37,531.40 L355.26,532.14 L355.72,533.00Z" fill="none" stroke="#000" stroke-width="0.6" stroke-opacity="0.9"/>
<ellipse cx="346.70" cy="533.00" rx="11.10" ry="6.36" fill="#000"/>
<ellipse cx="346.70" cy="533.00" rx="4.07" ry="0.95" fill="#fff" fill-opacity="0.6"/>
</g>
<rect x="317.00" y="489.40" width="20.70" height="32.40" fill="none" stroke="#333" stroke-width="0.5"/>
<rect x="332.10" y="522.20" width="38.40" height="22.70" fill="none" stroke="#333" stroke-width="0.5"/>
<text x="342.80" y="500.10" font-size="6.15">26.2</text>
<text x="358.80" y="517.50" font-size="6.15">66.2</text>
<text x="249.30" y="499.10" font-size="6.36" text-anchor="end">10</text>
<text x="249.50" y="496.10" font-size="4.13">7</text>
<text x="249.30" y="511.10" font-size="6.36" text-anchor="end">10</text>
<text x="249.50" y="508.10" font-size="4.13">6</text>
<text x="249.30" y="523.10" font-size="6.36" text-anchor="end">10</text>
<text x="249.50" y="520.10" font-size="4.13">5</text>
<text x="252.50" y="538.50" font-size="6.36" text-anchor="end">0</text>
<line x1="253.60" y1="496.80" x2="255.80" y2="496.80" stroke="#3a3a3a" stroke-width="0.5"/>
<line x1="253.60" y1="508.80" x2="255.80" y2="508.80" stroke="#3a3a3a" stroke-width="0.5"/>
<line x1="253.60" y1="520.80" x2="255.80" y2="520.80" stroke="#3a3a3a" stroke-width="0.5"/>
<line x1="253.60" y1="536.20" x2="255.80" y2="536.20" stroke="#3a3a3a" stroke-width="0.5"/>
<text x="265.20" y="553.60" font-size="6.36" text-anchor="middle">0</text>
<text x="272.00" y="553.60" font-size="6.36" text-anchor="middle">10</text>
<text x="275.60" y="550.20" font-size="4.13">4</text>
<text x="286.30" y="553.60" font-size="6.36" text-anchor="middle">10</text>
<text x="289.90" y="550.20" font-size="4.13">5</text>
<text x="296.50" y="553.60" font-size="6.36" text-anchor="middle">10</text>
<text x="300.10" y="550.20" font-size="4.13">6</text>
<text x="308.80" y="553.60" font-size="6.36" text-anchor="middle">10</text>
<text x="312.40" y="550.20" font-size="4.13">7</text>
<line x1="265.20" y1="544.90" x2="265.20" y2="547.00" stroke="#3a3a3a" stroke-width="0.5"/>
<line x1="272.80" y1="544.90" x2="272.80" y2="547.00" stroke="#3a3a3a" stroke-width="0.5"/>
<line x1="287.10" y1="544.90" x2="287.10" y2="547.00" stroke="#3a3a3a" stroke-width="0.5"/>
<line x1="297.30" y1="544.90" x2="297.30" y2="547.00" stroke="#3a3a3a" stroke-width="0.5"/>
<line x1="309.60" y1="544.90" x2="309.60" y2="547.00" stroke="#3a3a3a" stroke-width="0.5"/>
<text x="406.80" y="402.80" font-size="7.0" textLength="56.30" lengthAdjust="spacingAndGlyphs">In vivo migration</text>
<line x1="403.30" y1="441.50" x2="403.30" y2="537.30" stroke="#3a3a3a" stroke-width="0.6"/>
<line x1="400.30" y1="442.80" x2="403.30" y2="442.80" stroke="#3a3a3a" stroke-width="0.6"/>
<text x="400.00" y="444.80" font-size="6.15" text-anchor="end">10</text>
<line x1="400.30" y1="461.70" x2="403.30" y2="461.70" stroke="#3a3a3a" stroke-width="0.6"/>
<text x="400.00" y="463.70" font-size="6.15" text-anchor="end">8</text>
<line x1="400.30" y1="480.60" x2="403.30" y2="480.60" stroke="#3a3a3a" stroke-width="0.6"/>
<text x="400.00" y="482.60" font-size="6.15" text-anchor="end">6</text>
<line x1="400.30" y1="499.50" x2="403.30" y2="499.50" stroke="#3a3a3a" stroke-width="0.6"/>
<text x="400.00" y="501.50" font-size="6.15" text-anchor="end">4</text>
<line x1="400.30" y1="518.40" x2="403.30" y2="518.40" stroke="#3a3a3a" stroke-width="0.6"/>
<text x="400.00" y="520.40" font-size="6.15" text-anchor="end">2</text>
<line x1="400.30" y1="537.30" x2="403.30" y2="537.30" stroke="#3a3a3a" stroke-width="0.6"/>
<text x="400.00" y="539.30" font-size="6.15" text-anchor="end">0</text>
<line x1="400.30" y1="537.30" x2="467.00" y2="537.30" stroke="#3a3a3a" stroke-width="0.6"/>
<rect x="409.60" y="531.16" width="13.00" height="6.14" fill="#fff" stroke="#a8a8a8" stroke-width="0.7"/>
<rect x="428.80" y="520.76" width="13.00" height="16.54" fill="#fff" stroke="#a8a8a8" stroke-width="0.7"/>
<rect x="448.10" y="496.19" width="13.00" height="41.11" fill="#fff" stroke="#a8a8a8" stroke-width="0.7"/>
<line x1="416.10" y1="531.16" x2="416.10" y2="527.85" stroke="#555" stroke-width="0.6"/>
<line x1="413.90" y1="527.85" x2="418.30" y2="527.85" stroke="#555" stroke-width="0.6"/>
<circle cx="412.10" cy="534.46" r="1.30" fill="#000"/>
<circle cx="414.10" cy="532.10" r="1.30" fill="#000"/>
<circle cx="416.10" cy="531.63" r="1.30" fill="#000"/>
<circle cx="418.10" cy="530.68" r="1.30" fill="#000"/>
<circle cx="420.10" cy="532.57" r="1.30" fill="#000"/>
<circle cx="413.10" cy="527.38" r="1.30" fill="#000"/>
<circle cx="417.60" cy="527.38" r="1.30" fill="#000"/>
<circle cx="419.60" cy="533.99" r="1.30" fill="#000"/>
<line x1="416.10" y1="537.30" x2="416.10" y2="540.20" stroke="#3a3a3a" stroke-width="0.6"/>
<line x1="435.30" y1="520.76" x2="435.30" y2="518.40" stroke="#555" stroke-width="0.6"/>
<line x1="433.10" y1="518.40" x2="437.50" y2="518.40" stroke="#555" stroke-width="0.6"/>
<circle cx="431.30" cy="525.49" r="1.30" fill="#000"/>
<circle cx="433.30" cy="521.23" r="1.30" fill="#000"/>
<circle cx="435.30" cy="518.87" r="1.30" fill="#000"/>
<circle cx="437.30" cy="520.76" r="1.30" fill="#000"/>
<circle cx="439.30" cy="525.01" r="1.30" fill="#000"/>
<circle cx="432.80" cy="514.62" r="1.30" fill="#000"/>
<circle cx="437.80" cy="516.51" r="1.30" fill="#000"/>
<line x1="435.30" y1="537.30" x2="435.30" y2="540.20" stroke="#3a3a3a" stroke-width="0.6"/>
<line x1="454.60" y1="496.19" x2="454.60" y2="486.27" stroke="#555" stroke-width="0.6"/>
<line x1="452.40" y1="486.27" x2="456.80" y2="486.27" stroke="#555" stroke-width="0.6"/>
<circle cx="454.60" cy="446.58" r="1.30" fill="#000"/>
<circle cx="454.60" cy="488.16" r="1.30" fill="#000"/>
<circle cx="451.60" cy="488.16" r="1.30" fill="#000"/>
<circle cx="457.60" cy="489.10" r="1.30" fill="#000"/>
<circle cx="451.60" cy="512.73" r="1.30" fill="#000"/>
<circle cx="457.60" cy="513.67" r="1.30" fill="#000"/>
<circle cx="454.60" cy="523.12" r="1.30" fill="#000"/>
<line x1="454.60" y1="537.30" x2="454.60" y2="540.20" stroke="#3a3a3a" stroke-width="0.6"/>
<text x="418.10" y="545.00" font-size="7.21" text-anchor="end" transform="rotate(-45 418.10 545.00)">Spleen</text>
<text x="437.30" y="545.00" font-size="7.21" text-anchor="end" transform="rotate(-45 437.30 545.00)">Lung</text>
<text x="456.60" y="545.00" font-size="7.21" text-anchor="end" transform="rotate(-45 456.60 545.00)">Tumor</text>
<text x="425.20" y="571.40" font-size="7.21" textLength="20.40" lengthAdjust="spacingAndGlyphs">Tissue</text>
<text x="388.60" y="483.00" font-size="7.21" text-anchor="middle" textLength="73.00" lengthAdjust="spacingAndGlyphs" transform="rotate(-90 388.60 483.00)">GPR183:control ratio</text>
<polyline points="416.10,529.00 416.10,417.40 454.20,417.40 454.20,426.90" fill="none" stroke="#666666" stroke-width="0.6"/>
<text x="419.65" y="414.80" font-size="5.62" textLength="30.50" lengthAdjust="spacingAndGlyphs"><tspan font-style="italic">P</tspan> = 0.0007</text>
<polyline points="435.70,510.50 435.70,435.50 454.20,435.50 454.20,441.20" fill="none" stroke="#666666" stroke-width="0.6"/>
<text x="431.25" y="433.60" font-size="5.62" textLength="28.50" lengthAdjust="spacingAndGlyphs"><tspan font-style="italic">P</tspan> = 0.0102</text>
<text x="482.30" y="386.80" font-size="12.8" fill="#000" font-weight="bold" stroke="#000" stroke-width="0.35">j</text>
<text x="495.90" y="386.80" font-size="9.75" textLength="113.60" lengthAdjust="spacingAndGlyphs">NK-92 in vitro proliferation</text>
<line x1="495.30" y1="463.90" x2="497.90" y2="463.90" stroke="#3a3a3a" stroke-width="0.5"/>
<text x="492.90" y="466.00" font-size="6.25" text-anchor="end">0</text>
<line x1="495.30" y1="452.50" x2="497.90" y2="452.50" stroke="#3a3a3a" stroke-width="0.5"/>
<text x="492.90" y="454.60" font-size="6.25" text-anchor="end">20</text>
<line x1="495.30" y1="441.10" x2="497.90" y2="441.10" stroke="#3a3a3a" stroke-width="0.5"/>
<text x="492.90" y="443.20" font-size="6.25" text-anchor="end">40</text>
<line x1="495.30" y1="429.70" x2="497.90" y2="429.70" stroke="#3a3a3a" stroke-width="0.5"/>
<text x="492.90" y="431.80" font-size="6.25" text-anchor="end">60</text>
<line x1="495.30" y1="418.30" x2="497.90" y2="418.30" stroke="#3a3a3a" stroke-width="0.5"/>
<text x="492.90" y="420.40" font-size="6.25" text-anchor="end">80</text>
<line x1="495.30" y1="406.90" x2="497.90" y2="406.90" stroke="#3a3a3a" stroke-width="0.5"/>
<text x="492.90" y="409.00" font-size="6.25" text-anchor="end">100</text>
<line x1="496.50" y1="463.90" x2="497.90" y2="463.90" stroke="#3a3a3a" stroke-width="0.4"/>
<line x1="496.50" y1="461.05" x2="497.90" y2="461.05" stroke="#3a3a3a" stroke-width="0.4"/>
<line x1="496.50" y1="458.20" x2="497.90" y2="458.20" stroke="#3a3a3a" stroke-width="0.4"/>
<line x1="496.50" y1="455.35" x2="497.90" y2="455.35" stroke="#3a3a3a" stroke-width="0.4"/>
<line x1="496.50" y1="452.50" x2="497.90" y2="452.50" stroke="#3a3a3a" stroke-width="0.4"/>
<line x1="496.50" y1="449.65" x2="497.90" y2="449.65" stroke="#3a3a3a" stroke-width="0.4"/>
<line x1="496.50" y1="446.80" x2="497.90" y2="446.80" stroke="#3a3a3a" stroke-width="0.4"/>
<line x1="496.50" y1="443.95" x2="497.90" y2="443.95" stroke="#3a3a3a" stroke-width="0.4"/>
<line x1="496.50" y1="441.10" x2="497.90" y2="441.10" stroke="#3a3a3a" stroke-width="0.4"/>
<line x1="496.50" y1="438.25" x2="497.90" y2="438.25" stroke="#3a3a3a" stroke-width="0.4"/>
<line x1="496.50" y1="435.40" x2="497.90" y2="435.40" stroke="#3a3a3a" stroke-width="0.4"/>
<line x1="496.50" y1="432.55" x2="497.90" y2="432.55" stroke="#3a3a3a" stroke-width="0.4"/>
<line x1="496.50" y1="429.70" x2="497.90" y2="429.70" stroke="#3a3a3a" stroke-width="0.4"/>
<line x1="496.50" y1="426.85" x2="497.90" y2="426.85" stroke="#3a3a3a" stroke-width="0.4"/>
<line x1="496.50" y1="424.00" x2="497.90" y2="424.00" stroke="#3a3a3a" stroke-width="0.4"/>
<line x1="496.50" y1="421.15" x2="497.90" y2="421.15" stroke="#3a3a3a" stroke-width="0.4"/>
<line x1="496.50" y1="418.30" x2="497.90" y2="418.30" stroke="#3a3a3a" stroke-width="0.4"/>
<line x1="496.50" y1="415.45" x2="497.90" y2="415.45" stroke="#3a3a3a" stroke-width="0.4"/>
<line x1="496.50" y1="412.60" x2="497.90" y2="412.60" stroke="#3a3a3a" stroke-width="0.4"/>
<line x1="496.50" y1="409.75" x2="497.90" y2="409.75" stroke="#3a3a3a" stroke-width="0.4"/>
<line x1="496.50" y1="406.90" x2="497.90" y2="406.90" stroke="#3a3a3a" stroke-width="0.4"/>
<path d="M541.40,463.90 L542.70,461.62 L543.80,446.23 L545.00,423.43 L546.50,406.90 L547.90,423.43 L549.10,446.23 L550.90,462.76 L551.40,463.90 Z" fill="#ec3237"/>
<path d="M531.90,463.90 L534.40,452.50 L535.60,441.10 L536.80,423.43 L538.20,406.33 L539.40,417.73 L540.30,434.83 L541.30,452.50 L543.30,462.76 L543.90,463.90 Z" fill="#f6e52a"/>
<path d="M524.90,463.90 L527.90,441.10 L529.80,429.13 L531.00,414.31 L532.50,408.04 L533.90,417.73 L535.10,434.83 L536.20,449.08 L538.00,460.48 L540.30,463.90 Z" fill="#86c440"/>
<path d="M520.90,463.90 L522.90,429.70 L525.40,411.46 L527.20,409.18 L528.10,423.43 L529.80,438.25 L531.50,449.08 L533.90,459.34 L536.80,463.90 Z" fill="#2c6a2e"/>
<path d="M513.40,463.90 L516.30,452.50 L518.70,434.83 L520.40,420.01 L521.60,411.46 L522.20,410.89 L523.00,413.74 L524.50,416.02 L525.70,413.74 L526.50,418.30 L527.40,423.43 L529.20,438.25 L531.00,450.79 L533.30,460.48 L535.60,463.90 Z" fill="#c59292"/>
<path d="M504.00,463.90 L505.40,446.80 L506.10,424.00 L506.60,406.90 L507.10,424.00 L507.80,446.80 L509.30,463.90 Z" fill="#35bdea"/>
<rect x="497.90" y="403.60" width="59.80" height="60.60" fill="none" stroke="#555" stroke-width="0.6"/>
<line x1="504.80" y1="464.20" x2="504.80" y2="466.20" stroke="#3a3a3a" stroke-width="0.5"/>
<line x1="524.30" y1="464.20" x2="524.30" y2="466.20" stroke="#3a3a3a" stroke-width="0.5"/>
<line x1="540.20" y1="464.20" x2="540.20" y2="466.20" stroke="#3a3a3a" stroke-width="0.5"/>
<line x1="556.00" y1="464.20" x2="556.00" y2="466.20" stroke="#3a3a3a" stroke-width="0.5"/>
<line x1="499.90" y1="464.20" x2="499.90" y2="465.20" stroke="#3a3a3a" stroke-width="0.35"/>
<line x1="502.56" y1="464.20" x2="502.56" y2="465.20" stroke="#3a3a3a" stroke-width="0.35"/>
<line x1="505.21" y1="464.20" x2="505.21" y2="465.20" stroke="#3a3a3a" stroke-width="0.35"/>
<line x1="507.87" y1="464.20" x2="507.87" y2="465.20" stroke="#3a3a3a" stroke-width="0.35"/>
<line x1="510.53" y1="464.20" x2="510.53" y2="465.20" stroke="#3a3a3a" stroke-width="0.35"/>
<line x1="513.19" y1="464.20" x2="513.19" y2="465.20" stroke="#3a3a3a" stroke-width="0.35"/>
<line x1="515.84" y1="464.20" x2="515.84" y2="465.20" stroke="#3a3a3a" stroke-width="0.35"/>
<line x1="518.50" y1="464.20" x2="518.50" y2="465.20" stroke="#3a3a3a" stroke-width="0.35"/>
<line x1="521.16" y1="464.20" x2="521.16" y2="465.20" stroke="#3a3a3a" stroke-width="0.35"/>
<line x1="523.81" y1="464.20" x2="523.81" y2="465.20" stroke="#3a3a3a" stroke-width="0.35"/>
<line x1="526.47" y1="464.20" x2="526.47" y2="465.20" stroke="#3a3a3a" stroke-width="0.35"/>
<line x1="529.13" y1="464.20" x2="529.13" y2="465.20" stroke="#3a3a3a" stroke-width="0.35"/>
<line x1="531.79" y1="464.20" x2="531.79" y2="465.20" stroke="#3a3a3a" stroke-width="0.35"/>
<line x1="534.44" y1="464.20" x2="534.44" y2="465.20" stroke="#3a3a3a" stroke-width="0.35"/>
<line x1="537.10" y1="464.20" x2="537.10" y2="465.20" stroke="#3a3a3a" stroke-width="0.35"/>
<line x1="539.76" y1="464.20" x2="539.76" y2="465.20" stroke="#3a3a3a" stroke-width="0.35"/>
<line x1="542.41" y1="464.20" x2="542.41" y2="465.20" stroke="#3a3a3a" stroke-width="0.35"/>
<line x1="545.07" y1="464.20" x2="545.07" y2="465.20" stroke="#3a3a3a" stroke-width="0.35"/>
<line x1="547.73" y1="464.20" x2="547.73" y2="465.20" stroke="#3a3a3a" stroke-width="0.35"/>
<line x1="550.39" y1="464.20" x2="550.39" y2="465.20" stroke="#3a3a3a" stroke-width="0.35"/>
<line x1="553.04" y1="464.20" x2="553.04" y2="465.20" stroke="#3a3a3a" stroke-width="0.35"/>
<line x1="555.70" y1="464.20" x2="555.70" y2="465.20" stroke="#3a3a3a" stroke-width="0.35"/>
<text x="504.80" y="473.50" font-size="6.36" text-anchor="middle">0</text>
<text x="523.30" y="473.50" font-size="6.36" text-anchor="middle">10</text>
<text x="527.00" y="470.00" font-size="4.03">4</text>
<text x="539.20" y="473.50" font-size="6.36" text-anchor="middle">10</text>
<text x="542.90" y="470.00" font-size="4.03">5</text>
<text x="555.00" y="473.50" font-size="6.36" text-anchor="middle">10</text>
<text x="558.70" y="470.00" font-size="4.03">6</text>
<text x="498.10" y="401.60" font-size="7.63" textLength="26.20" lengthAdjust="spacingAndGlyphs">GPR183</text>
<text x="524.60" y="397.80" font-size="4.24">Δ/+</text>
<line x1="572.90" y1="463.70" x2="575.50" y2="463.70" stroke="#3a3a3a" stroke-width="0.5"/>
<text x="571.60" y="465.80" font-size="6.25" text-anchor="end">0</text>
<line x1="572.90" y1="452.28" x2="575.50" y2="452.28" stroke="#3a3a3a" stroke-width="0.5"/>
<text x="571.60" y="454.38" font-size="6.25" text-anchor="end">20</text>
<line x1="572.90" y1="440.86" x2="575.50" y2="440.86" stroke="#3a3a3a" stroke-width="0.5"/>
<text x="571.60" y="442.96" font-size="6.25" text-anchor="end">40</text>
<line x1="572.90" y1="429.44" x2="575.50" y2="429.44" stroke="#3a3a3a" stroke-width="0.5"/>
<text x="571.60" y="431.54" font-size="6.25" text-anchor="end">60</text>
<line x1="572.90" y1="418.02" x2="575.50" y2="418.02" stroke="#3a3a3a" stroke-width="0.5"/>
<text x="571.60" y="420.12" font-size="6.25" text-anchor="end">80</text>
<line x1="572.90" y1="406.60" x2="575.50" y2="406.60" stroke="#3a3a3a" stroke-width="0.5"/>
<text x="571.60" y="408.70" font-size="6.25" text-anchor="end">100</text>
<line x1="574.10" y1="463.70" x2="575.50" y2="463.70" stroke="#3a3a3a" stroke-width="0.4"/>
<line x1="574.10" y1="460.84" x2="575.50" y2="460.84" stroke="#3a3a3a" stroke-width="0.4"/>
<line x1="574.10" y1="457.99" x2="575.50" y2="457.99" stroke="#3a3a3a" stroke-width="0.4"/>
<line x1="574.10" y1="455.13" x2="575.50" y2="455.13" stroke="#3a3a3a" stroke-width="0.4"/>
<line x1="574.10" y1="452.28" x2="575.50" y2="452.28" stroke="#3a3a3a" stroke-width="0.4"/>
<line x1="574.10" y1="449.43" x2="575.50" y2="449.43" stroke="#3a3a3a" stroke-width="0.4"/>
<line x1="574.10" y1="446.57" x2="575.50" y2="446.57" stroke="#3a3a3a" stroke-width="0.4"/>
<line x1="574.10" y1="443.71" x2="575.50" y2="443.71" stroke="#3a3a3a" stroke-width="0.4"/>
<line x1="574.10" y1="440.86" x2="575.50" y2="440.86" stroke="#3a3a3a" stroke-width="0.4"/>
<line x1="574.10" y1="438.00" x2="575.50" y2="438.00" stroke="#3a3a3a" stroke-width="0.4"/>
<line x1="574.10" y1="435.15" x2="575.50" y2="435.15" stroke="#3a3a3a" stroke-width="0.4"/>
<line x1="574.10" y1="432.30" x2="575.50" y2="432.30" stroke="#3a3a3a" stroke-width="0.4"/>
<line x1="574.10" y1="429.44" x2="575.50" y2="429.44" stroke="#3a3a3a" stroke-width="0.4"/>
<line x1="574.10" y1="426.59" x2="575.50" y2="426.59" stroke="#3a3a3a" stroke-width="0.4"/>
<line x1="574.10" y1="423.73" x2="575.50" y2="423.73" stroke="#3a3a3a" stroke-width="0.4"/>
<line x1="574.10" y1="420.88" x2="575.50" y2="420.88" stroke="#3a3a3a" stroke-width="0.4"/>
<line x1="574.10" y1="418.02" x2="575.50" y2="418.02" stroke="#3a3a3a" stroke-width="0.4"/>
<line x1="574.10" y1="415.17" x2="575.50" y2="415.17" stroke="#3a3a3a" stroke-width="0.4"/>
<line x1="574.10" y1="412.31" x2="575.50" y2="412.31" stroke="#3a3a3a" stroke-width="0.4"/>
<line x1="574.10" y1="409.46" x2="575.50" y2="409.46" stroke="#3a3a3a" stroke-width="0.4"/>
<line x1="574.10" y1="406.60" x2="575.50" y2="406.60" stroke="#3a3a3a" stroke-width="0.4"/>
<path d="M622.40,463.70 L622.80,462.56 L623.60,446.57 L624.80,423.16 L626.50,406.60 L628.30,423.16 L629.50,446.57 L631.00,462.56 L631.40,463.70 Z" fill="#ec3237"/>
<path d="M611.50,463.70 L613.20,449.43 L614.20,434.58 L615.40,418.02 L616.30,415.74 L617.70,407.74 L618.90,423.16 L620.10,446.57 L622.40,462.56 L623.00,463.70 Z" fill="#f6e52a"/>
<path d="M604.00,463.70 L606.50,432.30 L608.00,415.17 L609.00,408.31 L610.00,415.17 L611.00,410.60 L612.20,410.03 L613.00,428.87 L613.60,446.57 L616.60,461.42 L617.50,463.70 Z" fill="#86c440"/>
<path d="M600.00,463.70 L603.50,423.73 L605.20,418.02 L606.40,408.31 L607.20,418.02 L609.00,434.58 L610.70,448.85 L614.20,462.56 L614.80,463.70 Z" fill="#2c6a2e"/>
<path d="M592.60,463.70 L594.50,459.13 L596.10,450.00 L597.50,438.00 L599.00,423.16 L600.50,412.31 L601.70,408.88 L602.60,413.45 L603.70,419.16 L605.00,426.59 L606.60,434.58 L608.30,445.43 L610.10,454.56 L611.80,460.27 L613.60,463.70 Z" fill="#c59292"/>
<path d="M582.60,463.70 L584.00,446.57 L584.60,423.73 L585.00,406.60 L585.40,423.73 L586.30,446.57 L587.90,463.70 Z" fill="#35bdea"/>
<rect x="575.50" y="403.30" width="61.10" height="60.70" fill="none" stroke="#555" stroke-width="0.6"/>
<line x1="583.50" y1="464.00" x2="583.50" y2="466.00" stroke="#3a3a3a" stroke-width="0.5"/>
<line x1="603.40" y1="464.00" x2="603.40" y2="466.00" stroke="#3a3a3a" stroke-width="0.5"/>
<line x1="619.50" y1="464.00" x2="619.50" y2="466.00" stroke="#3a3a3a" stroke-width="0.5"/>
<line x1="634.70" y1="464.00" x2="634.70" y2="466.00" stroke="#3a3a3a" stroke-width="0.5"/>
<line x1="577.50" y1="464.00" x2="577.50" y2="465.00" stroke="#3a3a3a" stroke-width="0.35"/>
<line x1="580.22" y1="464.00" x2="580.22" y2="465.00" stroke="#3a3a3a" stroke-width="0.35"/>
<line x1="582.94" y1="464.00" x2="582.94" y2="465.00" stroke="#3a3a3a" stroke-width="0.35"/>
<line x1="585.66" y1="464.00" x2="585.66" y2="465.00" stroke="#3a3a3a" stroke-width="0.35"/>
<line x1="588.38" y1="464.00" x2="588.38" y2="465.00" stroke="#3a3a3a" stroke-width="0.35"/>
<line x1="591.10" y1="464.00" x2="591.10" y2="465.00" stroke="#3a3a3a" stroke-width="0.35"/>
<line x1="593.81" y1="464.00" x2="593.81" y2="465.00" stroke="#3a3a3a" stroke-width="0.35"/>
<line x1="596.53" y1="464.00" x2="596.53" y2="465.00" stroke="#3a3a3a" stroke-width="0.35"/>
<line x1="599.25" y1="464.00" x2="599.25" y2="465.00" stroke="#3a3a3a" stroke-width="0.35"/>
<line x1="601.97" y1="464.00" x2="601.97" y2="465.00" stroke="#3a3a3a" stroke-width="0.35"/>
<line x1="604.69" y1="464.00" x2="604.69" y2="465.00" stroke="#3a3a3a" stroke-width="0.35"/>
<line x1="607.41" y1="464.00" x2="607.41" y2="465.00" stroke="#3a3a3a" stroke-width="0.35"/>
<line x1="610.13" y1="464.00" x2="610.13" y2="465.00" stroke="#3a3a3a" stroke-width="0.35"/>
<line x1="612.85" y1="464.00" x2="612.85" y2="465.00" stroke="#3a3a3a" stroke-width="0.35"/>
<line x1="615.57" y1="464.00" x2="615.57" y2="465.00" stroke="#3a3a3a" stroke-width="0.35"/>
<line x1="618.29" y1="464.00" x2="618.29" y2="465.00" stroke="#3a3a3a" stroke-width="0.35"/>
<line x1="621.00" y1="464.00" x2="621.00" y2="465.00" stroke="#3a3a3a" stroke-width="0.35"/>
<line x1="623.72" y1="464.00" x2="623.72" y2="465.00" stroke="#3a3a3a" stroke-width="0.35"/>
<line x1="626.44" y1="464.00" x2="626.44" y2="465.00" stroke="#3a3a3a" stroke-width="0.35"/>
<line x1="629.16" y1="464.00" x2="629.16" y2="465.00" stroke="#3a3a3a" stroke-width="0.35"/>
<line x1="631.88" y1="464.00" x2="631.88" y2="465.00" stroke="#3a3a3a" stroke-width="0.35"/>
<line x1="634.60" y1="464.00" x2="634.60" y2="465.00" stroke="#3a3a3a" stroke-width="0.35"/>
<text x="583.50" y="473.30" font-size="6.36" text-anchor="middle">0</text>
<text x="602.40" y="473.30" font-size="6.36" text-anchor="middle">10</text>
<text x="606.10" y="469.80" font-size="4.03">4</text>
<text x="618.50" y="473.30" font-size="6.36" text-anchor="middle">10</text>
<text x="622.20" y="469.80" font-size="4.03">5</text>
<text x="633.70" y="473.30" font-size="6.36" text-anchor="middle">10</text>
<text x="637.40" y="469.80" font-size="4.03">6</text>
<text x="575.70" y="401.30" font-size="7.63" textLength="13.30" lengthAdjust="spacingAndGlyphs">NTC</text>
<rect x="639.50" y="401.40" width="7.50" height="7.20" fill="#35bdea"/>
<text x="650.80" y="407.20" font-size="7.21" textLength="33.80" lengthAdjust="spacingAndGlyphs">Unstained</text>
<rect x="639.50" y="412.40" width="7.50" height="7.20" fill="#ec3237"/>
<text x="650.80" y="418.20" font-size="7.21" textLength="20.00" lengthAdjust="spacingAndGlyphs">Day 0</text>
<rect x="639.50" y="423.40" width="7.50" height="7.20" fill="#f6e52a"/>
<text x="650.80" y="429.20" font-size="7.21" textLength="19.00" lengthAdjust="spacingAndGlyphs">Day 1</text>
<rect x="639.50" y="434.40" width="7.50" height="7.20" fill="#86c440"/>
<text x="650.80" y="440.20" font-size="7.21" textLength="20.00" lengthAdjust="spacingAndGlyphs">Day 2</text>
<rect x="639.50" y="445.40" width="7.50" height="7.20" fill="#2c6a2e"/>
<text x="650.80" y="451.20" font-size="7.21" textLength="20.00" lengthAdjust="spacingAndGlyphs">Day 3</text>
<rect x="639.50" y="456.40" width="7.50" height="7.20" fill="#c59292"/>
<text x="650.80" y="462.20" font-size="7.21" textLength="20.00" lengthAdjust="spacingAndGlyphs">Day 4</text>
<text x="493.90" y="484.40" font-size="7.21" textLength="42.10" lengthAdjust="spacingAndGlyphs">Cytopainter-</text>
<text x="493.90" y="492.50" font-size="7.21" textLength="32.50" lengthAdjust="spacingAndGlyphs">Deep Red</text>
<line x1="540.30" y1="482.40" x2="555.20" y2="482.40" stroke="#4a5a78" stroke-width="0.7"/>
<path d="M557.50,482.40 L554.70,483.70 L554.70,481.10 Z" fill="#4a5a78"/>
<text x="572.10" y="484.40" font-size="7.21" textLength="42.70" lengthAdjust="spacingAndGlyphs">Cytopainter-</text>
<text x="572.10" y="492.50" font-size="7.21" textLength="32.60" lengthAdjust="spacingAndGlyphs">Deep Red</text>
<line x1="616.70" y1="482.40" x2="633.40" y2="482.40" stroke="#4a5a78" stroke-width="0.7"/>
<path d="M635.70,482.40 L632.90,483.70 L632.90,481.10 Z" fill="#4a5a78"/>
<line x1="517.70" y1="507.00" x2="517.70" y2="574.60" stroke="#3a3a3a" stroke-width="0.6"/>
<line x1="514.70" y1="507.40" x2="517.70" y2="507.40" stroke="#3a3a3a" stroke-width="0.6"/>
<text x="513.60" y="509.40" font-size="6.15" text-anchor="end">1,000</text>
<line x1="514.70" y1="529.80" x2="517.70" y2="529.80" stroke="#3a3a3a" stroke-width="0.6"/>
<text x="513.60" y="531.80" font-size="6.15" text-anchor="end">100</text>
<line x1="514.70" y1="552.20" x2="517.70" y2="552.20" stroke="#3a3a3a" stroke-width="0.6"/>
<text x="513.60" y="554.20" font-size="6.15" text-anchor="end">10</text>
<line x1="514.70" y1="574.60" x2="517.70" y2="574.60" stroke="#3a3a3a" stroke-width="0.6"/>
<text x="513.60" y="576.60" font-size="6.15" text-anchor="end">1</text>
<line x1="517.70" y1="574.60" x2="614.20" y2="574.60" stroke="#3a3a3a" stroke-width="0.6"/>
<line x1="530.50" y1="574.60" x2="530.50" y2="577.40" stroke="#3a3a3a" stroke-width="0.6"/>
<text x="530.50" y="585.00" font-size="6.15" text-anchor="middle">0</text>
<line x1="549.10" y1="574.60" x2="549.10" y2="577.40" stroke="#3a3a3a" stroke-width="0.6"/>
<text x="549.10" y="585.00" font-size="6.15" text-anchor="middle">1</text>
<line x1="568.00" y1="574.60" x2="568.00" y2="577.40" stroke="#3a3a3a" stroke-width="0.6"/>
<text x="568.00" y="585.00" font-size="6.15" text-anchor="middle">2</text>
<line x1="586.80" y1="574.60" x2="586.80" y2="577.40" stroke="#3a3a3a" stroke-width="0.6"/>
<text x="586.80" y="585.00" font-size="6.15" text-anchor="middle">3</text>
<line x1="605.70" y1="574.60" x2="605.70" y2="577.40" stroke="#3a3a3a" stroke-width="0.6"/>
<text x="605.70" y="585.00" font-size="6.15" text-anchor="middle">4</text>
<text x="536.70" y="595.90" font-size="7.21" textLength="62.50" lengthAdjust="spacingAndGlyphs">Days after staining</text>
<text x="493.00" y="541.00" font-size="7.21" text-anchor="middle" textLength="41.00" lengthAdjust="spacingAndGlyphs" transform="rotate(-90 493.00 541.00)">Relative MFI</text>
<polyline points="530.50,529.80 549.10,542.18 568.00,550.27 586.80,555.95 605.70,559.55" fill="none" stroke="#f08a1c" stroke-width="1.1"/>
<polyline points="530.50,529.80 549.10,543.68 568.00,551.73 586.80,557.84 605.70,561.61" fill="none" stroke="#333" stroke-width="0.6"/>
<circle cx="530.50" cy="529.80" r="1.25" fill="#000"/>
<circle cx="549.10" cy="543.68" r="1.25" fill="#000"/>
<circle cx="568.00" cy="551.73" r="1.25" fill="#000"/>
<circle cx="586.80" cy="557.84" r="1.25" fill="#000"/>
<circle cx="605.70" cy="561.61" r="1.25" fill="#000"/>
<rect x="529.50" y="528.80" width="2.00" height="2.00" fill="#f08a1c"/>
<rect x="548.10" y="541.18" width="2.00" height="2.00" fill="#f08a1c"/>
<rect x="567.00" y="549.27" width="2.00" height="2.00" fill="#f08a1c"/>
<rect x="585.80" y="554.95" width="2.00" height="2.00" fill="#f08a1c"/>
<rect x="604.70" y="558.55" width="2.00" height="2.00" fill="#f08a1c"/>
<line x1="521.80" y1="507.90" x2="529.20" y2="507.90" stroke="#333" stroke-width="0.6"/>
<circle cx="525.50" cy="507.90" r="1.25" fill="#000"/>
<line x1="521.80" y1="517.20" x2="529.20" y2="517.20" stroke="#f08a1c" stroke-width="1.1"/>
<rect x="524.50" y="516.20" width="2.00" height="2.00" fill="#f08a1c"/>
<text x="535.00" y="510.60" font-size="7.21" textLength="12.80" lengthAdjust="spacingAndGlyphs">NTC</text>
<text x="535.00" y="520.00" font-size="7.21" font-style="italic" textLength="26.50" lengthAdjust="spacingAndGlyphs">GPR183</text>
<text x="561.90" y="516.50" font-size="4.56" font-style="italic">Δ/+</text>
</svg>
</body></html>
